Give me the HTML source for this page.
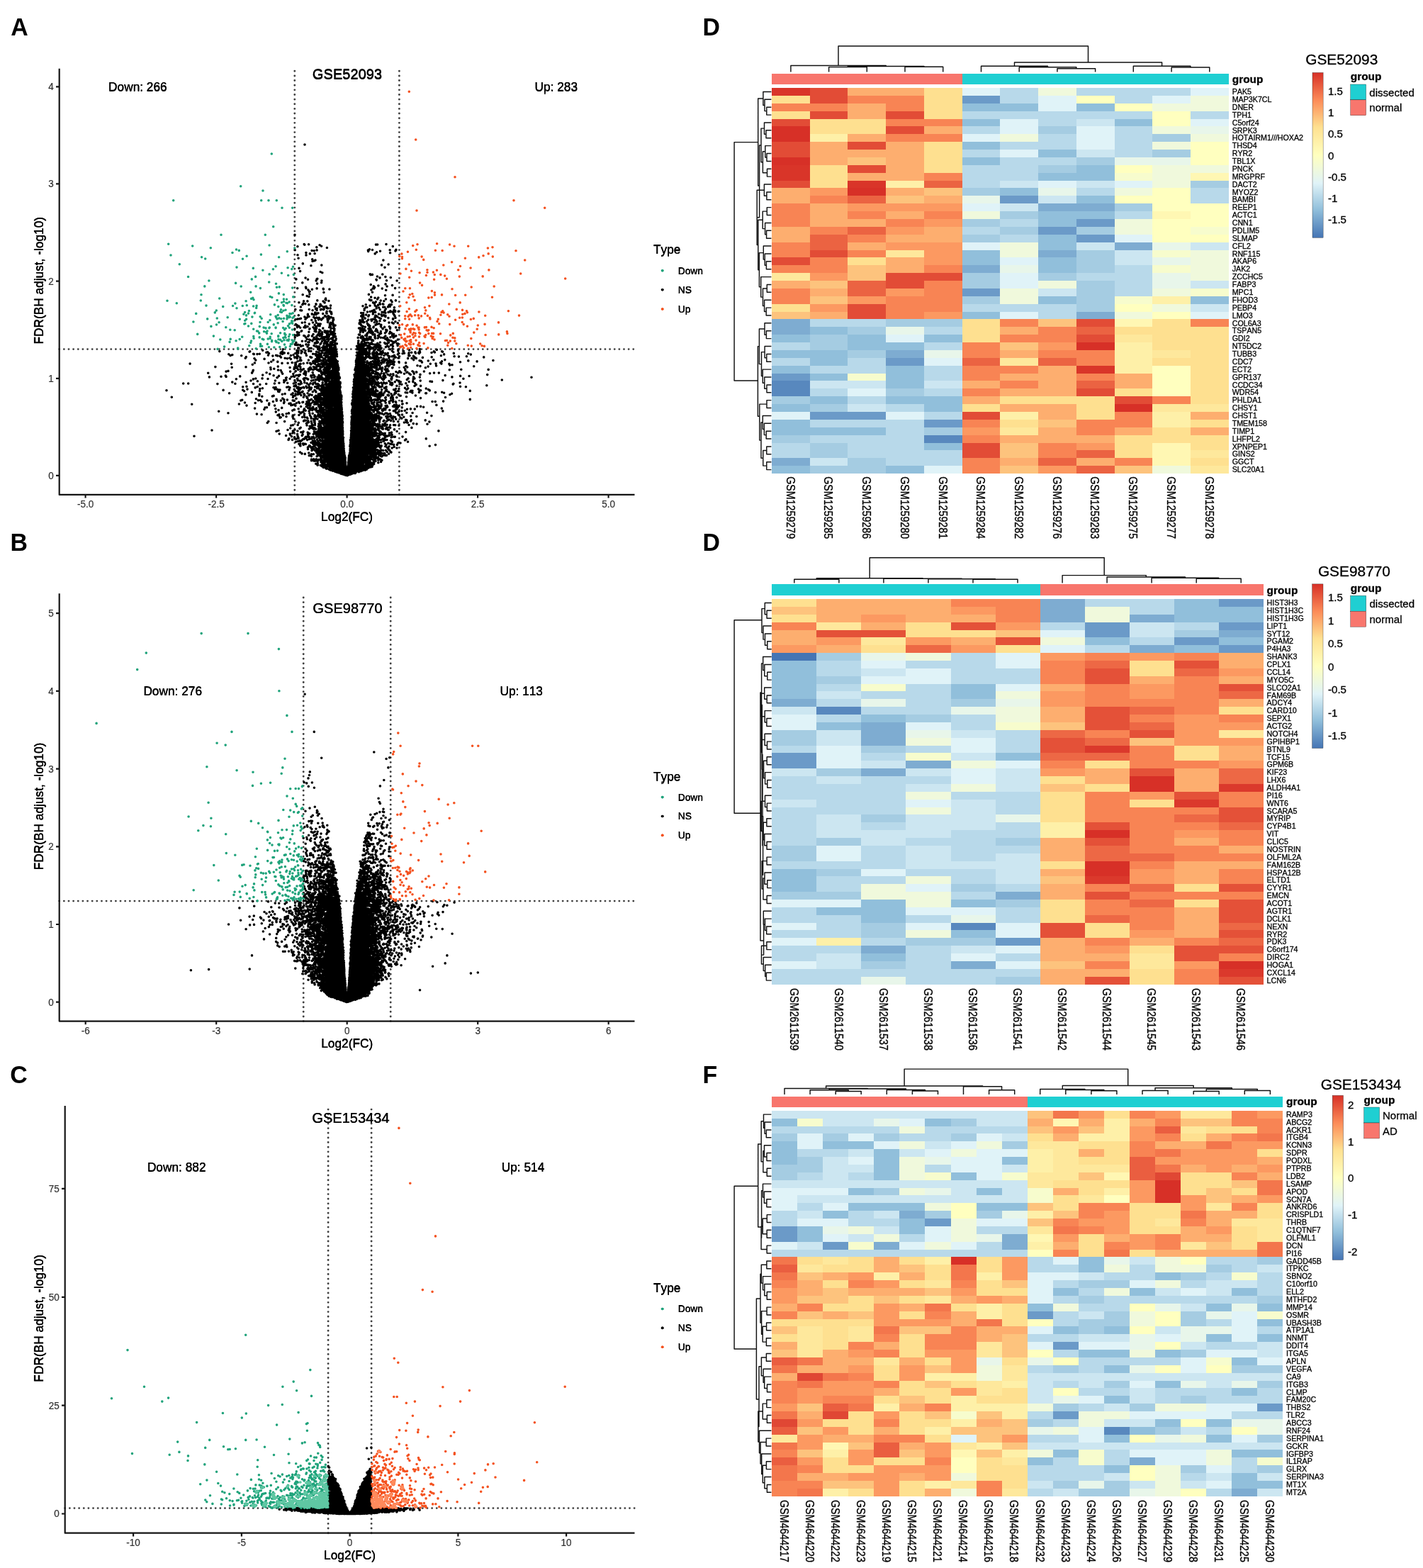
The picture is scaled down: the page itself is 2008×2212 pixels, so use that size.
<!DOCTYPE html>
<html lang="en">
<head>
<meta charset="utf-8">
<title>Differential expression: volcano plots and heatmaps</title>
<style>
html,body{margin:0;padding:0;background:#fff}
body{width:2008px;height:2212px;overflow:hidden}
svg{display:block}
text{white-space:pre;font-kerning:none}
</style>
</head>
<body>
<svg xmlns="http://www.w3.org/2000/svg" width="2008" height="2212" viewBox="0 0 2008 2212" font-family='"Liberation Sans", Arial, Helvetica, sans-serif'>
<rect width="2008" height="2212" fill="#fff"/>
<text transform="translate(15.2 50) scale(1 1.06)" font-size="33.9" font-weight="bold">A</text>
<text transform="translate(14.5 776.7) scale(1 1.06)" font-size="33.9" font-weight="bold">B</text>
<text transform="translate(14.3 1528) scale(1 1.06)" font-size="33.9" font-weight="bold">C</text>
<text transform="translate(991.6 49.8) scale(1 1.06)" font-size="33.9" font-weight="bold">D</text>
<text transform="translate(991.6 776.7) scale(1 1.06)" font-size="33.9" font-weight="bold">D</text>
<text transform="translate(991.6 1528) scale(1 1.06)" font-size="33.9" font-weight="bold">F</text>
<g id="vA">
<path fill="none" stroke="#404040" stroke-width="2.9" stroke-linecap="round" stroke-dasharray="0.01 6.63" d="M415.8 697.9V97.2M563.4 697.9V97.2M83.7 492.6H895.5"/>
<path fill="none" stroke="#000000" stroke-width="3.6" stroke-linecap="round" d="M527.5 405.7h0.8M549.2 430.7h1.2M549 431.7h1M445.4 435.7h1.5M556 438.7h1.5M550.5 439.7h1M444.9 442.7h1.8M511.2 444.7h1.5M510.2 445.7h2M530 445.7h1.2M510.7 446.7h1.8M465.2 447.7h0.8M449.4 449.7h1M462.4 449.7h0.8M508.4 454.7h0.8M468.4 455.7h1.2M507.4 455.7h1.2M465.4 456.7h2.2M507.2 456.7h1.2M449.2 457.7h2M465.9 457.7h1M448.9 458.7h1.8M519.5 458.7h1M520.7 459.7h1.2M419.7 460.7h0.8M445.4 462.7h0.8M443.7 463.7h2.2M508.4 463.7h0.8M520 463.7h3M444.7 464.7h1M508.9 464.7h5M521.5 464.7h1.2M508.9 465.7h1.2M511.2 465.7h3.2M522 465.7h1.2M530.7 465.7h0.8M521.5 466.7h2.5M460.2 467.7h2.5M465.9 467.7h1M521 467.7h3.5M458.7 468.7h4.2M466.7 468.7h3.5M522.2 468.7h4M460.7 469.7h1.8M466.9 469.7h3.2M524.7 469.7h1M449.9 470.7h1M453.2 470.7h1M461.4 470.7h1.5M467.2 470.7h3.8M449.2 471.7h5M461.9 471.7h1.5M468.7 471.7h2.2M419.7 472.7h0.8M449.9 472.7h3.8M461.7 472.7h3M553.5 472.7h1.5M461.7 473.7h2.5M554 473.7h1.5M461.2 474.7h3M555 474.7h1.8M454.7 475.7h1M460.7 475.7h2.8M454.2 476.7h3.5M461.7 476.7h1.5M521 476.7h1.2M446.7 477.7h1.2M453.7 477.7h3.8M461.9 477.7h1.2M467.9 477.7h1M513 477.7h0.8M517.2 477.7h0.8M520.2 477.7h2.2M446.2 478.7h1.2M456.9 478.7h1M462.2 478.7h1.8M511.7 478.7h2.8M516.5 478.7h3.5M545.5 478.7h1.2M457.4 479.7h0.8M512.2 479.7h2.5M546.7 479.7h1M458.2 480.7h0.8M458.7 481.7h0.8M458.7 482.7h2M467.2 482.7h2M458.2 483.7h3.2M466.2 483.7h2.5M515 483.7h0.8M459.9 484.7h2M466.2 484.7h2.2M509.9 484.7h0.8M514.5 484.7h1M523 484.7h1.2M461.4 485.7h0.8M465.9 485.7h3M509.2 485.7h5.8M532.2 485.7h1.5M461.9 486.7h1.5M464.7 486.7h4.2M471.2 486.7h0.8M506.4 486.7h9M530 486.7h5M464.7 487.7h3M505.9 487.7h8.2M529.7 487.7h7M465.2 488.7h2M504.2 488.7h8.8M519 488.7h2.5M529.2 488.7h6.8M447.7 489.7h2.5M455.9 489.7h2.5M465.7 489.7h2M471.9 489.7h1.2M504.7 489.7h8M519.5 489.7h3.2M530.5 489.7h1.8M533.7 489.7h2.2M448.4 490.7h2M455.7 490.7h2.8M465.7 490.7h2.5M471.2 490.7h2M504.4 490.7h7.8M519.2 490.7h6.5M535 490.7h1.8M448.9 491.7h1.8M456.4 491.7h2.2M465.4 491.7h7.5M504.7 491.7h8M520.5 491.7h2.5M535.2 491.7h2.2M448.7 492.7h1.5M456.9 492.7h2.5M461.4 492.7h1M464.7 492.7h8.5M504.2 492.7h12.5M521.2 492.7h1M534.7 492.7h1.2M456.7 493.7h1M459.9 493.7h13.8M506.9 493.7h9.5M533.7 493.7h1.8M460.7 494.7h12.8M507.4 494.7h9M419.4 495.7h1.2M460.7 495.7h13.2M507.2 495.7h9.5M397.9 496.7h0.8M419.2 496.7h1.2M460.2 496.7h14.5M505.9 496.7h11.8M538.5 496.7h1M396.4 497.7h3M459.4 497.7h1M465.4 497.7h9M504.4 497.7h14M526.7 497.7h1M531 497.7h1M537.2 497.7h2.8M591.2 497.7h0.8M397.2 498.7h2M465.9 498.7h9M504.9 498.7h17M526 498.7h2.2M531.2 498.7h1M536.5 498.7h2M450.2 499.7h2.5M466.2 499.7h9M505.2 499.7h7.2M515.5 499.7h1.5M520.2 499.7h1.2M526.2 499.7h1.5M531.7 499.7h0.8M537.2 499.7h0.8M445.7 500.7h1.8M449.4 500.7h3M467.4 500.7h7.5M504.7 500.7h7.2M526.7 500.7h1.2M446.7 501.7h6M460.7 501.7h1.8M467.9 501.7h7M503.7 501.7h7.8M527.2 501.7h2M530.2 501.7h1.5M577 501.7h1M419.4 502.7h1.5M447.4 502.7h5.5M459.9 502.7h2.8M467.4 502.7h6M504.4 502.7h6.8M519.2 502.7h1.2M527 502.7h5.2M555.5 502.7h1M418.4 503.7h1M447.4 503.7h4M453.4 503.7h0.8M466.7 503.7h5.8M504.4 503.7h7.2M520.2 503.7h1.5M526.5 503.7h4.5M447.9 504.7h2.8M463.7 504.7h8.5M503.9 504.7h9.2M522 504.7h2M525.2 504.7h5.2M447.9 505.7h2.2M463.2 505.7h9.2M503.4 505.7h11M527.7 505.7h3M447.2 506.7h3.5M456.4 506.7h1.5M463.7 506.7h9.2M503.4 506.7h11.2M528.5 506.7h3.5M533 506.7h0.8M445.4 507.7h5.8M456.4 507.7h0.8M463.2 507.7h10.8M502.9 507.7h9.8M529.2 507.7h0.8M533.2 507.7h0.8M444.9 508.7h7M455.7 508.7h1M460.7 508.7h13.5M502.7 508.7h9.5M533.7 508.7h0.8M549.7 508.7h1.8M445.2 509.7h3.2M464.7 509.7h10.8M502.7 509.7h9.8M529 509.7h1M533.2 509.7h1.8M547.2 509.7h5.5M457.4 510.7h0.8M459.2 510.7h0.8M465.4 510.7h10.2M502.7 510.7h11M527.7 510.7h6M539.2 510.7h2.2M547.2 510.7h3M456.9 511.7h3.5M465.4 511.7h10M503.2 511.7h10.2M518.2 511.7h0.8M528.5 511.7h5M537.7 511.7h1M546.7 511.7h1M453.7 512.7h0.8M455.7 512.7h6.2M464.7 512.7h11M503.4 512.7h9.8M520.5 512.7h3M528.5 512.7h5.5M422.7 513.7h0.8M449.2 513.7h1.2M455.4 513.7h5M461.4 513.7h15M502.9 513.7h10.8M521 513.7h4.8M527.7 513.7h6.2M554.5 513.7h0.8M448.2 514.7h1.8M456.2 514.7h1M462.7 514.7h13.5M502.7 514.7h14.2M523.2 514.7h1.2M528.5 514.7h4.2M446.9 515.7h3.2M462.9 515.7h13.8M502.9 515.7h15.2M528.5 515.7h3M462.4 516.7h5M468.4 516.7h8.2M502.7 516.7h16.8M523.5 516.7h1.2M528 516.7h3.2M416.4 517.7h1.2M461.2 517.7h5M469.7 517.7h6.8M502.4 517.7h17.5M523 517.7h2.5M527.5 517.7h4M415.7 518.7h2.5M437.2 518.7h0.8M443.7 518.7h2.5M458.4 518.7h7.5M469.9 518.7h7M502.2 518.7h22.5M530.2 518.7h1M436.7 519.7h1.8M443.9 519.7h2M458.4 519.7h7M470.2 519.7h7.5M501.4 519.7h22.8M536 519.7h1.5M435.4 520.7h3.2M457.7 520.7h6.8M469.9 520.7h7.5M501.4 520.7h23M449.9 521.7h2M456.9 521.7h7M469.7 521.7h8.2M500.9 521.7h24M544.2 521.7h2.5M449.7 522.7h2.8M457.7 522.7h6.5M468.9 522.7h8M502.2 522.7h19.8M544.7 522.7h2.2M457.9 523.7h7.5M466.7 523.7h9.8M502.7 523.7h18.5M525.7 523.7h1.5M545 523.7h1M430.4 524.7h0.8M457.4 524.7h19M502.4 524.7h18.2M525.5 524.7h0.8M429.9 525.7h1.5M453.9 525.7h22.8M501.7 525.7h19.2M524.7 525.7h1.2M429.4 526.7h1.8M453.9 526.7h4.8M461.9 526.7h15.5M501.9 526.7h11.8M515 526.7h7.2M530.5 526.7h2.8M462.4 527.7h15.2M501.4 527.7h11M516.2 527.7h6.5M531.5 527.7h0.8M462.2 528.7h15.5M500.2 528.7h12M516.5 528.7h6.5M421.2 529.7h0.8M461.4 529.7h16M500.7 529.7h12M516 529.7h1.5M518.5 529.7h3.8M541.7 529.7h1.5M450.7 530.7h1.5M460.4 530.7h17.2M500.7 530.7h14.8M519.7 530.7h1.2M541.2 530.7h1.8M450.2 531.7h3.8M460.2 531.7h18.5M501.2 531.7h13.8M525.5 531.7h4M541.5 531.7h2M448.2 532.7h6M460.4 532.7h5.8M467.2 532.7h11.8M500.9 532.7h14.2M525 532.7h3.2M529.2 532.7h0.8M533 532.7h1M541.5 532.7h1.5M448.4 533.7h7M459.9 533.7h5M468.4 533.7h1.8M471.2 533.7h7.8M500.9 533.7h15.5M524.5 533.7h2.5M531.2 533.7h2M541 533.7h1.2M583.7 533.7h0.8M447.9 534.7h4.2M453.2 534.7h11.2M472.4 534.7h5.5M500.4 534.7h17.2M521 534.7h0.8M525.5 534.7h1.2M532 534.7h0.8M540 534.7h1.5M449.4 535.7h1.5M455.2 535.7h8.8M472.7 535.7h5M499.9 535.7h21.8M525.7 535.7h1.5M458.2 536.7h5.8M468.4 536.7h0.8M472.2 536.7h5.5M500.2 536.7h22M525.2 536.7h3M458.7 537.7h2.5M467.9 537.7h10M499.7 537.7h17.8M519.5 537.7h9M459.2 538.7h1.5M464.9 538.7h5M472.9 538.7h5.5M499.4 538.7h16.8M520.2 538.7h6.2M465.2 539.7h4.2M473.4 539.7h6.5M499.9 539.7h16M520.2 539.7h5.5M530 539.7h1.2M459.4 540.7h0.8M464.7 540.7h4.5M473.2 540.7h7M500.2 540.7h16.2M519.7 540.7h6M530.2 540.7h3.5M551.5 540.7h2M459.7 541.7h1.2M463.2 541.7h6.5M472.7 541.7h7M499.7 541.7h25.5M529.7 541.7h2.8M551 541.7h2.8M459.4 542.7h20.2M499.7 542.7h21M449.2 543.7h0.8M454.4 543.7h1.5M460.9 543.7h18.2M499.7 543.7h20.5M447.9 544.7h1.8M453.7 544.7h2.2M461.4 544.7h18.2M500.2 544.7h19.5M446.7 545.7h2.5M453.9 545.7h2.5M461.2 545.7h19M499.7 545.7h20.2M527 545.7h1.8M420.4 546.7h1.2M447.4 546.7h1.8M454.2 546.7h4.2M459.9 546.7h20M498.9 546.7h20.8M526.2 546.7h1.5M419.9 547.7h3.5M436.9 547.7h2M454.2 547.7h25M499.2 547.7h20.8M525.7 547.7h0.8M420.9 548.7h2.5M436.9 548.7h1.5M454.2 548.7h24.8M499.4 548.7h16M518.5 548.7h2M524 548.7h2.2M421.4 549.7h1.8M453.4 549.7h26M499.2 549.7h15.8M519 549.7h2.8M524.5 549.7h1.8M392.4 550.7h1.8M453.2 550.7h26.2M498.9 550.7h16.2M518.7 550.7h3M525.2 550.7h0.8M392.7 551.7h1M453.7 551.7h26M498.7 551.7h17.8M517.5 551.7h4M525.5 551.7h1M529.7 551.7h1.2M579.7 551.7h2M419.9 552.7h1M453.9 552.7h26.2M498.2 552.7h23.8M525 552.7h4.8M420.4 553.7h1M453.9 553.7h26.2M498.7 553.7h30.5M537.2 553.7h0.8M420.9 554.7h2M453.7 554.7h26.5M498.4 554.7h31.2M535.7 554.7h2.2M600.7 554.7h0.8M450.7 555.7h0.8M454.9 555.7h25.5M497.7 555.7h32.8M535 555.7h3.5M449.4 556.7h2M455.4 556.7h25.2M498.2 556.7h20.8M520 556.7h4M525.5 556.7h7.5M534.2 556.7h6.5M449.2 557.7h2.5M456.4 557.7h24.8M498.4 557.7h19.2M521.2 557.7h1.5M528.5 557.7h3.2M536.7 557.7h1.5M448.7 558.7h3.2M457.2 558.7h24.2M498.4 558.7h19M521.5 558.7h0.8M448.9 559.7h2.8M457.4 559.7h24.2M497.9 559.7h20M521 559.7h1M444.2 560.7h1.2M448.4 560.7h3.8M457.4 560.7h24M498.2 560.7h22.5M533.2 560.7h2.2M444.7 561.7h9M456.9 561.7h24.2M498.4 561.7h21.5M533.7 561.7h1.5M444.7 562.7h37M498.7 562.7h20.5M533.5 562.7h1.8M445.9 563.7h8.2M455.2 563.7h26.5M498.4 563.7h20.8M435.9 564.7h0.8M446.4 564.7h4.8M456.4 564.7h24.5M497.4 564.7h22.5M523.2 564.7h2M446.2 565.7h4.5M456.7 565.7h24M497.9 565.7h21.8M445.4 566.7h3.5M456.2 566.7h25M497.7 566.7h21.5M444.4 567.7h3.8M452.2 567.7h29.5M497.4 567.7h22M433.2 568.7h1.8M444.7 568.7h3.2M452.7 568.7h28.8M496.9 568.7h23.5M524.7 568.7h2.2M432.4 569.7h3M444.4 569.7h3M452.7 569.7h28.5M496.7 569.7h23.5M433.9 570.7h3.5M452.2 570.7h29M496.9 570.7h23.5M434.4 571.7h3.2M449.9 571.7h4M457.7 571.7h23.8M497.4 571.7h23.2M532.5 571.7h1.5M556.2 571.7h0.8M559 571.7h0.8M449.4 572.7h3.8M458.2 572.7h10.5M471.7 572.7h10M497.9 572.7h24M533.5 572.7h0.8M544.7 572.7h1.2M555.5 572.7h5M450.4 573.7h2.5M458.9 573.7h9.2M472.2 573.7h9.5M498.2 573.7h25M527.2 573.7h1.8M534.7 573.7h0.8M545.2 573.7h1.2M559.2 573.7h2.8M450.9 574.7h2.5M460.2 574.7h8.2M471.9 574.7h9.8M497.7 574.7h17.8M518.5 574.7h6.5M528.2 574.7h1.5M535 574.7h1.5M559.7 574.7h1.8M436.7 575.7h1M440.2 575.7h1.5M451.4 575.7h3.2M460.7 575.7h0.8M462.4 575.7h7.2M470.7 575.7h11.5M497.9 575.7h17M519 575.7h4.8M528.7 575.7h1M534.5 575.7h2M559.2 575.7h1M440.9 576.7h1.2M451.9 576.7h4M463.7 576.7h18M497.9 576.7h17.5M518.5 576.7h5M529 576.7h1.5M534 576.7h0.8M541.2 576.7h2.2M444.7 577.7h1.2M451.7 577.7h5.5M463.9 577.7h18M497.2 577.7h25.5M528.5 577.7h5.2M540.7 577.7h1.2M450.9 578.7h6.2M463.4 578.7h18.2M497.2 578.7h24.8M525.7 578.7h1.8M531.2 578.7h1.5M539.5 578.7h1M447.2 579.7h0.8M448.9 579.7h7.8M460.9 579.7h20.8M496.7 579.7h25M446.9 580.7h10.2M460.7 580.7h21.5M496.9 580.7h24.8M453.2 581.7h4.8M459.9 581.7h22.5M497.2 581.7h24.8M454.4 582.7h27.8M496.9 582.7h26.2M534 582.7h2M455.4 583.7h27M496.9 583.7h27.5M455.7 584.7h26.8M497.4 584.7h27.5M391.9 585.7h1.5M449.2 585.7h2.2M455.2 585.7h27.8M497.7 585.7h28.5M528.2 585.7h2.8M444.2 586.7h0.8M449.2 586.7h33.8M497.2 586.7h35.8M444.9 587.7h1.5M450.2 587.7h3.2M457.7 587.7h25M496.2 587.7h38.8M458.2 588.7h24.2M496.2 588.7h38M457.9 589.7h24.5M496.7 589.7h34.2M553 589.7h0.8M444.2 590.7h0.8M456.9 590.7h26M496.7 590.7h33.8M454.9 591.7h27.8M496.4 591.7h24.2M524 591.7h6.8M535.2 591.7h0.8M454.7 592.7h27.8M496.7 592.7h23.5M524.5 592.7h6M454.2 593.7h28.8M496.4 593.7h24M524.7 593.7h4.5M450.9 594.7h0.8M452.9 594.7h30.5M496.4 594.7h25.2M526 594.7h2M451.4 595.7h32M496.2 595.7h26M526.2 595.7h1.5M451.2 596.7h32.2M496.2 596.7h26.5M525.7 596.7h2.2M450.2 597.7h2.5M456.2 597.7h26.8M496.2 597.7h33M450.2 598.7h2M460.2 598.7h22.8M496.2 598.7h33M533.2 598.7h0.8M542.5 598.7h1.5M440.4 599.7h1.2M450.2 599.7h2M460.7 599.7h22.5M496.2 599.7h31.2M533 599.7h2.5M540.5 599.7h3M449.7 600.7h2.8M460.2 600.7h22.8M496.2 600.7h30.2M531.7 600.7h4M437.7 601.7h2.5M449.7 601.7h3M457.9 601.7h24.8M496.4 601.7h29.5M533 601.7h1.2M438.2 602.7h2.5M450.4 602.7h2.8M457.7 602.7h25.5M496.2 602.7h29.5M538 602.7h1.5M441.2 603.7h1M450.4 603.7h4.5M456.4 603.7h26.8M496.2 603.7h30M538.5 603.7h1.5M545.5 603.7h1M441.9 604.7h2.2M449.9 604.7h33.2M496.2 604.7h31.5M544.7 604.7h1.5M449.7 605.7h33.2M496.4 605.7h33.2M532.7 605.7h1.2M449.7 606.7h33.8M495.9 606.7h29M528.2 606.7h2.2M449.4 607.7h33.8M495.7 607.7h28.8M528.7 607.7h1.5M448.4 608.7h35M495.9 608.7h28.8M528.5 608.7h1.2M413.7 609.7h0.8M446.4 609.7h37M496.2 609.7h29.5M527.7 609.7h2.2M446.9 610.7h36.2M495.7 610.7h35.2M446.7 611.7h36.5M495.7 611.7h35.5M446.4 612.7h37M495.7 612.7h35M535.5 612.7h0.8M446.9 613.7h36.5M495.4 613.7h28M524.7 613.7h6.2M446.9 614.7h36.5M495.7 614.7h26.5M526 614.7h3.2M543.2 614.7h1M434.7 615.7h0.8M446.9 615.7h0.8M448.7 615.7h34.5M495.7 615.7h26.2M533.5 615.7h1.2M543.7 615.7h1.5M431.4 616.7h0.8M449.9 616.7h1.5M452.7 616.7h31M495.4 616.7h27M533.7 616.7h1.5M458.7 617.7h25.5M495.4 617.7h29.5M533.2 617.7h1.2M459.4 618.7h24.5M495.7 618.7h29.8M532 618.7h2.5M459.4 619.7h24.5M495.2 619.7h31.2M531.2 619.7h3.8M541 619.7h1.8M458.7 620.7h25M494.4 620.7h40M541.5 620.7h1.8M454.4 621.7h29.5M494.9 621.7h38.8M441.7 622.7h3.2M455.7 622.7h28.5M494.9 622.7h38.2M441.2 623.7h1.8M443.9 623.7h1.2M455.9 623.7h28M494.7 623.7h39M445.2 624.7h1.2M447.4 624.7h2.8M455.4 624.7h28.8M494.7 624.7h39.5M445.4 625.7h5.5M454.7 625.7h29.8M494.9 625.7h39M427.9 626.7h1M444.9 626.7h7.5M453.4 626.7h31.2M494.7 626.7h39.5M443.2 627.7h1.5M448.2 627.7h36.2M494.4 627.7h40.2M448.7 628.7h36M494.4 628.7h41M436.7 629.7h1M449.9 629.7h34.8M494.2 629.7h38.2M535.7 629.7h2.2M450.4 630.7h1.5M454.4 630.7h30M494.7 630.7h36M439.7 631.7h1.2M450.2 631.7h0.8M455.2 631.7h29.5M494.7 631.7h34.8M440.4 632.7h1M455.4 632.7h29.8M494.4 632.7h34.8M440.9 633.7h2M446.9 633.7h2.5M454.9 633.7h29.8M494.4 633.7h35.2M446.4 634.7h3M453.9 634.7h31M494.4 634.7h36.5M445.7 635.7h4.5M452.7 635.7h32.2M494.2 635.7h35.5M446.9 636.7h38M494.4 636.7h34.8M533.5 636.7h3.2M447.2 637.7h38.2M494.2 637.7h35.2M533.2 637.7h3.2M447.2 638.7h7M455.2 638.7h30.2M493.7 638.7h36.5M532.2 638.7h4.8M448.2 639.7h4.8M456.4 639.7h29.2M493.7 639.7h44.2M448.4 640.7h4M456.7 640.7h28.8M493.7 640.7h24.8M522 640.7h9.2M534.7 640.7h2.5M448.7 641.7h3.8M456.2 641.7h29.8M493.2 641.7h24.8M522.5 641.7h8M535.2 641.7h1.5M450.7 642.7h2.5M455.4 642.7h30.8M492.7 642.7h25.8M522.2 642.7h7.5M452.7 643.7h33.8M492.7 643.7h27.2M521 643.7h8.8M453.2 644.7h33.5M492.7 644.7h31.5M527.2 644.7h3.2M453.2 645.7h1.8M456.9 645.7h30M492.2 645.7h22M515.2 645.7h8.5M528.5 645.7h5M453.2 646.7h0.8M457.7 646.7h29M492.2 646.7h20.8M516.5 646.7h7.5M529 646.7h1M533 646.7h0.8M452.7 647.7h1M457.9 647.7h29M492.2 647.7h20.5M516.7 647.7h6.2M534 647.7h1M446.4 648.7h1.2M451.9 648.7h2.2M457.4 648.7h29.2M492.4 648.7h20.8M516.2 648.7h6M527.5 648.7h1M446.9 649.7h1.8M452.9 649.7h33.8M492.4 649.7h29.2M527.5 649.7h1.5M453.2 650.7h34M492.2 650.7h29.5M527.2 650.7h2M452.9 651.7h6M461.4 651.7h26M491.9 651.7h30.2M454.2 652.7h3.8M462.7 652.7h24.8M491.7 652.7h21.8M515.5 652.7h8.2M454.7 653.7h3M462.9 653.7h24.5M491.9 653.7h20.8M516.2 653.7h11M446.9 654.7h1M455.2 654.7h3M462.4 654.7h24.8M491.9 654.7h20.2M516.7 654.7h10.5M454.7 655.7h5M461.7 655.7h25.8M491.7 655.7h20.8M516.2 655.7h9.8M452.9 656.7h34.5M491.7 656.7h22M514.7 656.7h10.5M454.9 657.7h4M461.9 657.7h25.8M491.2 657.7h33.5M456.2 658.7h2.2M464.9 658.7h23.5M490.4 658.7h32.8M465.4 659.7h54.8M465.2 660.7h53M463.9 661.7h53.5M465.2 662.7h47.5M514.7 662.7h1M468.7 663.7h41.8M472.4 664.7h31.8M505.2 664.7h2.5M474.9 665.7h27.5M477.4 666.7h24.2M480.7 667.7h17.2M483.4 668.7h12.2M486.7 669.7h5.5M480.7 668h0M526 479.7h0M548.6 640.2h0M563.9 541.7h0M460 574.5h0M583.5 531.9h0M551.8 423.8h0M462.9 537h0M459.3 655.3h0M432.2 573.8h0M451.5 631.1h0M503.9 492.9h0M536.5 354.2h0M477.9 536h0M435.8 429.9h0M440.3 618.3h0M436.9 521.1h0M429 555.8h0M539.6 542.3h0M660.7 498.8h0M448.1 510.4h0M573.8 582.3h0M558.8 582.1h0M528.2 489.3h0M534.2 571.3h0M498.8 550.3h0M400.8 536.6h0M443.3 608.8h0M581.1 505.4h0M531.8 518.3h0M502.5 514.1h0M416.8 436.6h0M449 441.7h0M492.2 647h0M546.6 487.9h0M431 494.8h0M458.5 445.6h0M515.7 473.3h0M454 657.6h0M363.4 537.8h0M553.2 613.5h0M547.6 512.4h0M494.4 669.1h0M395.1 502.4h0M535.2 598.7h0M518.4 456.6h0M437.3 577.8h0M410.4 501.5h0M420.6 486.4h0M556.5 605.9h0M511.6 663.7h0M537.6 643.5h0M481.7 571.4h0M541.8 527.7h0M418.5 504.6h0M405.7 540.3h0M524.6 544.3h0M529.6 620.5h0M511.9 500.9h0M561.8 594.7h0M511.2 474.3h0M465.4 520.2h0M513.6 480.6h0M543.1 452.3h0M414 500.8h0M537.3 460h0M364.5 564.8h0M526.2 406.7h0M449.5 497.1h0M451 449.4h0M484.5 669.1h0M468.1 535.6h0M453.7 512.6h0M475.3 484.9h0M502.1 666.3h0M522.5 423.6h0M473.9 493.4h0M566.8 542.2h0M433.9 424.9h0M444.7 483.9h0M406.7 498.4h0M627.8 507.6h0M497.4 584.9h0M428.4 520.5h0M430.8 459.3h0M485.3 635.9h0M417.9 393.9h0M319.1 531.4h0M416.9 558h0M572.5 592.4h0M315.1 550.4h0M486.1 642h0M515.5 466.5h0M540.3 605.3h0M568.9 495.2h0M439.5 649.8h0M530.3 425.9h0M552.5 589.4h0M487.6 670.1h0M578.9 552.8h0M539 523.5h0M542.6 475.9h0M549.3 566.8h0M537.1 601.9h0M543.2 611.2h0M520.7 565.3h0M398 512.4h0M545.8 583h0M409.1 518.5h0M443.9 618.2h0M537.5 504.3h0M500.8 532.9h0M447.5 547.8h0M436.8 491.2h0M525 658.5h0M533.7 645.4h0M555.4 594.4h0M451 581.1h0M555.1 587.9h0M566.8 590.3h0M444.5 605.3h0M446.3 570.1h0M518.2 470.7h0M455.8 587.1h0M444.4 513.2h0M420.3 622.6h0M527.4 620.2h0M534.4 624.6h0M437.6 512.3h0M611.8 507.5h0M446.8 348.8h0M403.9 536h0M561.8 494.9h0M333.4 534.8h0M542.9 600.6h0M607.3 513.3h0M479.4 533.3h0M512.3 468.4h0M426.1 621h0M545.4 551.5h0M460.8 651.4h0M454.4 478.1h0M448.2 521.9h0M561.3 479.1h0M469.2 491.2h0M464.1 503.9h0M534.1 560.1h0M543.5 597.1h0M481.7 573.9h0M528.5 536.5h0M446 627.3h0M511.3 444.5h0M542.3 614.2h0M447.1 393.7h0M487.4 651.3h0M445.3 452.5h0M428 619.3h0M446.2 561.3h0M634.8 515.1h0M532.2 543.7h0M432 618.2h0M461.5 472.9h0M413 588.1h0M395 550.1h0M327.2 518.3h0M482.8 598.5h0M460.8 467.4h0M575.7 547.9h0M550.4 468h0M463.3 487h0M536.2 610h0M550.4 429.8h0M476.8 525.6h0M415.4 570.5h0M416.7 486.4h0M483.8 612.4h0M420.2 536.8h0M446.3 519.3h0M454.8 542.9h0M531.5 355.7h0M417.5 514.2h0M556.5 556.2h0M448.6 482.8h0M549.3 503.1h0M438.6 504.1h0M604.1 517.1h0M558.6 554.4h0M550.3 432.4h0M437.2 549.5h0M480.6 556.2h0M540.9 622.3h0M421.1 364.3h0M436 567h0M505.9 485.4h0M519.3 489.4h0M533.4 556h0M406.1 512.2h0M434.8 474.5h0M619.3 526.1h0M424.2 553.9h0M597.6 574.2h0M546.5 631.6h0M522.7 478.1h0M456.3 525.6h0M387.4 541h0M519.8 446.3h0M451.2 491.4h0M479.8 551.1h0M532.9 615h0M452.1 466.5h0M446.2 396h0M529.2 474.3h0M553.3 495h0M529.9 539.1h0M571.5 547.4h0M552.4 535.6h0M527.8 651.9h0M546.3 587.6h0M443.3 560.2h0M457.3 484.4h0M532.5 586.4h0M421.3 444.8h0M407 545.8h0M528 472h0M549.8 578.6h0M502.2 518.5h0M425.1 498.1h0M471 487h0M495.9 596.2h0M499.4 542.2h0M522.8 658.9h0M540.5 497.8h0M428.7 527.3h0M449.1 584.6h0M626.6 554.3h0M616.3 493.4h0M476.9 516.6h0M518.6 660.5h0M457 521.9h0M422.5 568.5h0M434.4 444.9h0M576.1 533.9h0M548.1 523.6h0M525.2 606.5h0M388.9 576.7h0M460 504h0M536.4 529.5h0M525.2 490.5h0M349 549.1h0M446.6 475.2h0M515.3 529.9h0M439.1 624.4h0M494.6 621.4h0M423.8 622.8h0M454.7 449.7h0M541.1 594.2h0M409.6 613.2h0M444.1 357.8h0M518.3 502.8h0M462.1 449.1h0M564.1 524h0M346.8 556.9h0M551.3 391.5h0M496.6 583.1h0M537.6 640.6h0M538.8 521.2h0M420 615.1h0M419.9 347.8h0M409.7 604h0M441.6 499.2h0M475.5 502.7h0M417.3 511.7h0M407.1 620.4h0M534.1 532.3h0M472.2 486h0M446.6 496.3h0M527.7 654.4h0M460.3 475.4h0M526.6 491.4h0M532.4 503h0M464.7 461.7h0M483.4 604.3h0M522.4 558.5h0M548 632.5h0M437.2 564.5h0M424.6 573.5h0M420 535.5h0M558.7 473.9h0M388.4 537h0M306.9 541.6h0M443.8 621.8h0M445.9 541.8h0M432.4 597.2h0M534.7 494.1h0M454.5 517.7h0M503.5 488.2h0M449.4 572.8h0M433.3 589h0M545.8 602.7h0M544.5 564.1h0M550.4 583.6h0M544.1 400.9h0M430 474h0M440.3 442.9h0M550.8 542.2h0M445.5 535.9h0M553.9 485.6h0M538.2 553.1h0M520.1 659.9h0M419.3 547.5h0M398.4 556.3h0M541.2 445h0M432.9 566.9h0M547.9 632.7h0M483.4 603h0M442.5 634h0M505.5 497h0M556.8 579.4h0M453.8 571.8h0M574.7 554h0M544.4 435.8h0M539 440.2h0M536.9 631.9h0M522.6 504.1h0M526.6 653h0M523.3 469.4h0M538.5 583.3h0M539.9 598.8h0M461.9 492.1h0M437.1 628.8h0M531.4 573h0M390.1 563.2h0M536 391.9h0M357.4 534.9h0M521.1 500.4h0M533.5 473.5h0M622.4 501.8h0M448.8 622.3h0M424.2 583h0M393.9 540.2h0M443 487.6h0M518.1 512h0M431 450.5h0M444.8 578h0M385.4 566.5h0M532.6 345h0M394 552.6h0M551.3 486.8h0M535.7 599.1h0M519.7 451.1h0M479.7 542h0M528.5 531h0M453.6 597.1h0M534.5 604.9h0M436.2 545.1h0M592.3 532.1h0M531.7 521.5h0M509.7 445.9h0M421.3 551.6h0M451.2 459.8h0M524.7 617.3h0M541.9 534.6h0M587.3 505.4h0M526.1 615.6h0M532.2 535.6h0M538.9 508.2h0M537.8 458.4h0M459.2 541h0M524 423.6h0M515.3 461.3h0M612.3 495.9h0M532.8 530.7h0M537.7 461h0M457.9 498.2h0M553.9 509.7h0M552.5 610h0M467.1 523.5h0M552.8 559h0M512.3 475.4h0M414.2 530.4h0M574.8 544.1h0M435.4 523.7h0M481.5 569h0M534.3 575.9h0M452 520h0M424.2 603.3h0M448 591.1h0M543.7 498.5h0M539.4 534.4h0M448 490.2h0M531.3 611.8h0M456.4 408.1h0M444.3 585.8h0M446.2 647.9h0M529.8 563.5h0M442.4 640.8h0M466.9 477.8h0M453.6 431.2h0M544 445.4h0M453.1 501.4h0M437.2 578.6h0M538.7 549.7h0M322.8 499.8h0M475.4 500h0M435.6 575.8h0M552.9 531.8h0M565.3 538.7h0M657.4 545.7h0M520.1 478.9h0M444.2 509.3h0M561.4 526h0M458 528.1h0M562.3 439.4h0M475.8 665.9h0M442 461.8h0M429.5 576.9h0M381.8 518.5h0M536.4 483h0M448.4 569.7h0M422.5 621.7h0M494.3 636.8h0M448.6 581.4h0M431.2 579.2h0M426.8 398.9h0M494.5 631.9h0M595.5 511.1h0M445.3 488.8h0M576.8 502h0M418 529.5h0M416.3 475.9h0M432 359.9h0M442.7 447.4h0M450.6 489h0M510.3 483.9h0M434.8 482.8h0M556.2 573.8h0M505.6 483.3h0M530.4 573.7h0M396.5 504.1h0M541.6 539.9h0M584.7 504.6h0M526 531.3h0M471 462h0M440.7 630.7h0M534.3 589.6h0M470.3 459.4h0M392.5 522h0M565.9 525.5h0M557.7 580.1h0M513 444.5h0M359 505.8h0M448.7 448.7h0M527.6 645.2h0M434.4 443.4h0M574 568.8h0M658.4 502.7h0M520.7 535h0M474.3 478.1h0M534.8 635.9h0M512.6 441.6h0M456.7 599.2h0M433 599.9h0M527.1 510.4h0M535.8 583.3h0M415.2 549.2h0M444.1 531.4h0M532.8 447h0M622.9 513.1h0M482.3 578h0M558.9 576.6h0M592.4 492.6h0M491.9 651.1h0M436.4 546.4h0M533.2 477h0M533.2 562.9h0M549.1 591.9h0M513.9 454.5h0M431.1 392.1h0M428.5 594h0M580.9 603.4h0M431 462h0M472.6 470.9h0M570.4 596h0M583.2 534.8h0M472.9 487.8h0M542.8 639.5h0M526.3 443h0M303.9 517.6h0M419.3 468.5h0M549.6 502.7h0M544.2 614.4h0M450.5 543.8h0M443.4 520.7h0M544 532.2h0M495.5 615.9h0M438.8 495.4h0M441.6 542.1h0M446.7 616.3h0M466.7 503.3h0M440.4 408.3h0M520.1 458.1h0M496.2 601.2h0M459.3 514.6h0M549 430.4h0M427.6 625.9h0M572.2 553.8h0M463.8 577.9h0M532.3 466.6h0M412.6 620.4h0M649.5 545.2h0M448.4 656h0M593 528.4h0M544.7 409.3h0M523.9 450.7h0M427.3 609.8h0M377.8 496.9h0M587.8 525.1h0M538.1 513.2h0M452 498.9h0M544.8 628.3h0M461.5 489.3h0M550 511.2h0M421.6 460.1h0M572.6 511.9h0M557.6 406.6h0M575.5 623.3h0M453.6 398.7h0M441.2 602.9h0M572.8 540.7h0M481.8 567.2h0M461.2 434.8h0M512 431.7h0M435.6 473.1h0M386.8 520.3h0M579.2 528.4h0M524.6 505.2h0M451.2 549.8h0M347.3 503.5h0M550.7 603.6h0M549.7 568.7h0M414.3 541h0M448.4 477.9h0M527.2 461.1h0M425.2 467.3h0M560.4 465.8h0M447.1 406.9h0M477.9 526.9h0M434.2 572.3h0M579.4 576.9h0M456.7 487.8h0M532 569.9h0M544.8 587.4h0M424.5 538.7h0M437.4 556.5h0M455.9 621h0M496.3 597.6h0M525.4 618.4h0M467.9 471.5h0M450.8 594.2h0M421.9 426.8h0M567.7 570.1h0M528.7 498.2h0M460.3 576.3h0M544.6 465.3h0M502.8 514.9h0M538.1 635h0M370.4 547.7h0M452.1 429.2h0M535.2 562h0M396.4 565.1h0M470.3 448.7h0M556.6 483h0M520.6 570.4h0M548.1 479.3h0M456.2 448.2h0M408 549.9h0M433.1 596.7h0M533.9 403h0M640.3 498.4h0M482.6 583.5h0M433.2 448.1h0M454.3 509.3h0M442.1 512.3h0M436.5 619.5h0M426.2 496.3h0M514 480.8h0M553.4 455.1h0M397.7 575.4h0M533.8 578h0M449.8 544.9h0M445.9 428.8h0M530 650.4h0M521.2 475.6h0M401.9 537.2h0M553.4 623.4h0M470.2 468.4h0M450.4 588.2h0M434.2 615.9h0M409.3 612h0M441.3 552.7h0M554 518.5h0M553 533.4h0M612.5 526.1h0M444.1 567.4h0M541.6 639.6h0M537.4 476.3h0M443.3 353.8h0M610.1 566.5h0M451.7 620.5h0M516.1 479.1h0M417.3 523.6h0M454 473.7h0M523.4 561.4h0M421 495.1h0M541.3 510.2h0M398.6 584.5h0M443.8 603.5h0M431.4 626.5h0M421.2 618.3h0M452 485.4h0M436.9 572.2h0M523.8 485.3h0M420.7 554.3h0M438.9 374.7h0M404 587.7h0M442.8 650h0M416 472.9h0M426.4 481.2h0M534.4 505.1h0M554.3 347.6h0M537.2 449.5h0M537.8 648.8h0M600.2 592.9h0M555.2 476.3h0M526.6 557.9h0M535.6 576.1h0M437.8 479.7h0M552.2 439.5h0M470.1 520.5h0M418.1 562.2h0M423.6 486.7h0M450.1 629.9h0M503.7 664.9h0M547.8 584.3h0M366.5 551.4h0M433.2 417.6h0M535.8 494.5h0M417.3 543.3h0M532.8 551.8h0M555.6 627.4h0M538.2 628.9h0M528.2 437.4h0M450.7 465.2h0M558 353.9h0M449.9 624.1h0M473.3 507h0M386.1 558.4h0M419.7 406.8h0M449 457.4h0M533.8 652.8h0M560.4 531.3h0M536.9 608.9h0M529.5 477.2h0M454.4 528.2h0M453.8 469.7h0M430.2 588.7h0M443.6 464h0M523.2 475.5h0M454.8 468.7h0M478 528.9h0M417.1 514.5h0M563.6 523.9h0M481.6 567.9h0M434.5 633.6h0M507.9 451.9h0M322 523.4h0M574.4 577.3h0M528.8 615.3h0M426.3 455.2h0M496.5 668.2h0M418.3 568.7h0M542.2 452.1h0M483.6 596.2h0M545.9 590.1h0M396.2 588.7h0M560.1 608.5h0M539.6 602.9h0M413.2 586.1h0M572.9 516.5h0M419.5 519.6h0M536.7 567.4h0M454.8 490.2h0M525.7 498.1h0M445 590h0M438.3 569.5h0M522.8 505.4h0M447.2 481.4h0M425.7 466.8h0M466 484h0M546.9 480.5h0M593.2 537.1h0M532.6 422h0M487 648.5h0M609.2 503.8h0M532.7 560.4h0M541.8 619.1h0M484.8 626.1h0M434.7 593.8h0M563.8 523.6h0M503.6 505h0M441.5 455h0M549.9 529.8h0M382.8 510.3h0M454.3 618.1h0M550.9 475.8h0M470.7 460.1h0M579.7 587.1h0M479.7 667.2h0M524.4 452.6h0M553.7 518.9h0M574.3 535.6h0M424.5 449.2h0M425.2 547.4h0M341.7 564.2h0M537.2 613.1h0M492.6 642.5h0M422.3 547.1h0M439.4 537.1h0M487 670.1h0M523.8 542.5h0M455.8 562.3h0M431.3 593.3h0M532.6 535.1h0M459.1 422.6h0M535 544.7h0M545 344.6h0M523.6 529.4h0M415.9 606.3h0M524.5 519.6h0M390.1 596.5h0M493.4 641h0M408.8 505h0M443 593h0M533.8 533.3h0M543 565.7h0M418.6 619.1h0M545.8 512.1h0M535.3 545.8h0M552.1 534.1h0M430.9 617h0M449.5 450.9h0M391.8 510.4h0M437.4 357.9h0M542.7 483.5h0M434.2 610h0M465.4 439.1h0M537.3 620.8h0M544.7 523.1h0M448.6 586.4h0M539.8 387h0M563.5 502.8h0M537.6 651.4h0M425.7 438h0M443.9 587.2h0M448.2 651h0M450.8 478.7h0M533.6 521.3h0M540.8 530.8h0M426.6 553.1h0M561.4 484.9h0M547.1 528.3h0M411.5 615.8h0M464.8 449.4h0M537.5 491.9h0M555.3 579.8h0M440.3 599.9h0M442.1 471.6h0M463.9 479h0M422 378.4h0M555.8 514.7h0M516.5 502.1h0M496.6 569.2h0M420.7 546.1h0M421.3 596.4h0M534.7 434.1h0M422.8 542.1h0M444.6 545.7h0M462.7 452.9h0M548.3 614.2h0M561.1 487.6h0M456.9 412.5h0M453.4 451.2h0M584.9 533.9h0M511.6 463.4h0M393.7 586.3h0M471.7 467.1h0M427.1 612.9h0M528 563.7h0M435.9 468.3h0M422.8 604.6h0M419.6 461.8h0M469.1 476.4h0M529 447.5h0M436.4 479h0M507.7 472.4h0M453.1 645.1h0M525.6 656.4h0M445.7 501.2h0M552.8 626.6h0M445.7 654.2h0M466.1 434.9h0M487.2 645.9h0M357.3 522.3h0M559.8 560.7h0M568 616.1h0M583.4 502.2h0M455.6 516.6h0M438.9 513.6h0M439.9 596.9h0M450.1 579.2h0M621.6 511.8h0M534.7 540.7h0M535 508.9h0M410.1 569h0M444.1 593.9h0M437.5 586.1h0M446.5 545.6h0M450.1 529.3h0M527.5 581.1h0M379.6 571.1h0M446.6 614.9h0M416.9 551.9h0M472.4 504.8h0M574.6 595.7h0M447.8 393.3h0M558.9 352.4h0M495.7 608.4h0M514.6 487.6h0M537.1 575.5h0M455.7 442.6h0M552.4 429.8h0M453.8 561.6h0M459.9 423.2h0M440.8 481h0M548.6 557.9h0M500.4 530.5h0M471.7 466.3h0M526.5 426.9h0M446.6 488.4h0M424.1 520.8h0M458.4 475.5h0M424.9 609.7h0M369.1 584.8h0M468 468.3h0M441.8 574.3h0M452.9 508.6h0M472.1 480.5h0M454.8 497.8h0M447.1 352.9h0M533.8 420h0M435.6 344.8h0M531.9 645h0M549.6 503.3h0M543.1 437.9h0M535.3 592.7h0M451 509.4h0M523.2 401.6h0M460.1 530.2h0M472.1 481.4h0M428.9 578h0M525.4 574.5h0M440.4 443.3h0M453.2 523.7h0M365.8 556.1h0M442.4 616.4h0M496.2 605.1h0M512.8 446.9h0M544.2 520.5h0M454.7 471.4h0M523.4 563.2h0M543.3 625.8h0M411.1 556.5h0M470.4 476.3h0M432 485.9h0M444.1 467.3h0M605.9 595.1h0M415.2 565.4h0M507.4 455.3h0M548.1 373h0M428.2 512.7h0M582.1 582.5h0M553.5 402.6h0M553.7 558.4h0M421.2 576.7h0M428.8 473.5h0M389.1 546.5h0M558.5 548.5h0M460.7 579.2h0M376.1 525.8h0M429.7 539.8h0M550.2 352.7h0M533.3 493.5h0M423.1 508.7h0M403.6 614.5h0M446.7 515.5h0M521.6 533.8h0M480.4 555.4h0M443.6 532.4h0M449 459.4h0M390.3 565.3h0M499.5 543.3h0M532.7 484.4h0M538.3 500.3h0M480 546.9h0M469.4 455h0M573.9 592.9h0M524.4 569.1h0M429.3 586.1h0M369.1 566.6h0M558.6 461.9h0M378.8 594.5h0M453.1 602.4h0M508.6 466.4h0M462.9 500.6h0M517.9 511h0M563 580.6h0M459.6 421h0M538.1 491.1h0M472.7 541.4h0M440.4 474.1h0M495.5 607.6h0M525.5 412.3h0M547.9 633.9h0M423.8 504.6h0M482 668.5h0M426.3 614.4h0M470 449.7h0M529.5 451.2h0M563.4 585.9h0M442.1 605.2h0M535 591.4h0M400.8 563.9h0M445.1 631.1h0M464.9 539.2h0M516.4 648h0M532.3 457.3h0M555.1 529.3h0M520.4 487.4h0M538.9 520.3h0M454.8 384.7h0M472.8 665.2h0M425.9 581.7h0M569.8 588.2h0M360.2 546.9h0M445.3 484.5h0M516.8 504.6h0M530.8 646.6h0M540 495.4h0M528.1 538.4h0M686.8 543.7h0M593.5 561.6h0M509.1 453.2h0M526 509.6h0M441.2 583.2h0M448.4 541.5h0M557.6 588.6h0M447.8 423.9h0M413.8 527.5h0M582 523.7h0M420.8 497.9h0M519.7 354.6h0M520.2 512.4h0M453.6 526.8h0M551 637.4h0M554.4 440.3h0M374 575.1h0M420.2 599.5h0M499.6 539.5h0M514.3 435.5h0M467.5 663.3h0M520.7 467.4h0M549.6 470.5h0M514.7 510.8h0M545.5 395.8h0M545.9 620.5h0M544.3 560.6h0M519.3 560.6h0M465.6 499.6h0M581.9 554.1h0M545.4 642.4h0M421.3 541.7h0M547.9 625.3h0M444.6 539.6h0M404.2 583.7h0M455.8 463.1h0M445.8 478.4h0M519.4 353h0M568.1 569.8h0M396 498.6h0M544.2 568.3h0M484.1 621.8h0M538.9 545.2h0M549.5 602.6h0M606.6 526.8h0M493.8 629.6h0M416.7 514.9h0M434.1 554.8h0M662.1 530.5h0M470.2 473.2h0M448.2 641.1h0M428 608.8h0M444.1 458.4h0M545.4 550.5h0M519.9 515.5h0M585.2 577.1h0M443.3 611.4h0M354 537h0M438.9 529.7h0M547.3 498.2h0M583.3 597.6h0M423.3 542.1h0M457.7 578.1h0M615.6 515.9h0M536 452.7h0M431.1 533.3h0M505.9 493.1h0M462.6 467.3h0M445.5 605.4h0M457.6 480h0M521.4 484.6h0M533.3 564.5h0M591.4 553.4h0M522.9 573h0M461.7 478.5h0M538.1 572.4h0M639.9 541.3h0M543.9 485h0M419.4 505.8h0M526.1 644.3h0M467.8 442.9h0M379.8 569h0M486.5 643.2h0M489.7 670.7h0M516.6 514.2h0M461.1 470.1h0M435.7 495.3h0M540.1 463.9h0M530.5 345.1h0M523.9 479h0M634.3 521.8h0M442 565.6h0M533 468.8h0M420 359.7h0M483.6 610.4h0M449.5 606.3h0M540.8 556.1h0M545.4 549.5h0M421.9 626.2h0M520.8 640.1h0M436.2 617.4h0M527.8 407h0M429.6 536.8h0M524.9 438.9h0M459.6 539.5h0M521 512.4h0M422.7 515.1h0M397.5 525.1h0M456.2 433h0M588.5 573.3h0M562.1 493.3h0M447.5 521.7h0M441.4 632.5h0M538 526.8h0M419.9 509.7h0M543.9 474h0M447.6 619.9h0M388 549h0M429 547.1h0M370.7 494.2h0M523.1 387.8h0M409 546.9h0M444.2 432.5h0M570.3 518.3h0M448.9 642.1h0M534.9 586.7h0M453.3 544.8h0M415.7 503.8h0M532 577.2h0M516.7 444.1h0M449.7 547.8h0M493.5 639.2h0M453.6 513.8h0M423.7 462.3h0M544.3 605h0M515.3 663.3h0M446.4 510.5h0M535.6 595.3h0M559.9 536.3h0M446.7 462.8h0M543.5 416.8h0M458.8 527h0M466.3 483.3h0M496.6 590.5h0M360.2 568.5h0M522.7 536.9h0M558.3 504.1h0M359.4 512h0M634.9 556.7h0M456.2 407.3h0M538.9 445.8h0M544.3 635.2h0M470.8 472.6h0M431.9 570h0M408 569.4h0M439.4 643.6h0M433.1 540.9h0M428 546.3h0M447 633.1h0M451.9 648.4h0M570.5 527.3h0M539.9 463.5h0M456.2 649.4h0M469.7 664.3h0M549.8 635.3h0M577.2 538.5h0M432.5 559.6h0M558.8 591.2h0M375.7 541.5h0M416.9 594.8h0M519.9 491.5h0M574.7 518h0M453.4 555h0M554.3 590.9h0M429 461.8h0M498.3 557.2h0M348 545.2h0M543.3 509h0M505.5 484.7h0M386.1 529.8h0M451 549.3h0M585 503.9h0M412.8 571.3h0M470.1 456.7h0M554.3 560.9h0M525.4 387.4h0M449.7 598.1h0M497.5 586h0M436.7 464.3h0M430.8 626.3h0M524.1 593.4h0M559.9 544.4h0M525.7 541.6h0M553.3 502.9h0M543.2 617.3h0M415 531.3h0M415 520.6h0M532.2 618.1h0M467.2 471.4h0M583.7 507.6h0M436.8 548.6h0M573.5 559.7h0M567.5 585.1h0M517.8 433.5h0M557.6 438.3h0M402.1 555.6h0M529.2 604.4h0M556.1 616.2h0M541.2 505.5h0M546.3 515.4h0M548.2 552.7h0M543.1 565.9h0M548.9 515.9h0M553.2 632h0M534.7 499.8h0M420.7 616.9h0M394.2 612.1h0M501.4 667.4h0M534.1 621.3h0M435.9 418.5h0M480.1 539.4h0M437.1 601.3h0M556.2 630.4h0M587.3 542.6h0M442.3 649.2h0M548.8 504.9h0M542.5 553.7h0M409.6 524.1h0M358.3 499.6h0M436.4 628.9h0M537.6 470.2h0M492.4 645h0M512.1 460.3h0M346.3 505.2h0M430.3 640.4h0M510.9 482h0M509.1 664.7h0M436.3 605h0M509.1 476.6h0M469.7 519h0M449.2 556.1h0M456.9 534.2h0M393 578.6h0M493.6 669.3h0M547.8 588.1h0M435.4 520.4h0M391.2 549.4h0M453.3 477.5h0M546.9 584h0M427.3 371.9h0M452.9 484.2h0M467.1 482.6h0M424.9 557.6h0M551.6 593.4h0M571.3 579.3h0M462.9 452.6h0M546.3 637.5h0M463.6 479.9h0M525.7 578.9h0M473.5 490.5h0M544.4 422h0M609 497.5h0M517.3 491.9h0M494.2 634.2h0M434.4 631h0M560.4 627.5h0M522.2 485.6h0M462.5 434.9h0M526.3 526h0M471.5 458.9h0M530.2 555.3h0M430.8 428.6h0M449.5 470.9h0M482.8 589h0M437.1 411.2h0M518.6 511h0M547 509.3h0M522 650.3h0M460.4 432.2h0M434.5 394.2h0M526.4 549.4h0M572 522.6h0M530.4 593.2h0M540.7 476.6h0M538.1 443.8h0M443.1 444h0M543.4 620.6h0M549.8 614.2h0M463.2 481.1h0M556.4 571.3h0M420.7 521.5h0M445.5 558.4h0M550.6 356.7h0M562.7 624.5h0M400.6 568.6h0M529 475.9h0M411.2 531.5h0M370.7 529.1h0M392.3 517.1h0M551.7 586.3h0M485 634.2h0M520.4 415.4h0M422.6 555.5h0M484.8 669.1h0M527.3 403.7h0M536.2 647.7h0M531.1 600.9h0M505.8 480.7h0M577.6 493.9h0M451.2 474h0M531.3 465h0M516.2 433.6h0M548.5 483.2h0M513.5 513h0M501.1 522.2h0M495.1 619.5h0M561.6 551.7h0M449.3 601.4h0M423.3 537.2h0M554.8 527.7h0M530.2 541.8h0M446.1 635.1h0M433.3 478.5h0M581.9 551.3h0M550.6 626.1h0M529.6 598h0M487.6 656.5h0M526.9 462h0M454.9 625h0M496.1 594.1h0M415.5 518.1h0M450 457h0M545.9 507.4h0M454.4 481.5h0M433.5 561.6h0M413.3 608.1h0M484.3 623.3h0M439.7 451.5h0M437.9 503.5h0M413.4 560.3h0M446.5 474.7h0M446.6 575.8h0M484.7 628.1h0M569.5 495.4h0M481.3 569.9h0M520.2 545.9h0M487.6 655.9h0M473.1 459.1h0M557.7 599.7h0M384.9 502.1h0M450 523.2h0M440 616.7h0M448.3 472.9h0M541.6 511.5h0M376.5 574.8h0M543.6 642.4h0M419.9 608h0M416.2 352.8h0M538.7 644h0M545.9 465.9h0M398.4 496.1h0M551 513.7h0M433.7 512h0M450.7 571.4h0M323.6 554.8h0M361.5 562.7h0M366.9 542.5h0M373.1 506.4h0M338.7 530.9h0M531.9 453.7h0M529.8 578.2h0M424.1 524.1h0M450.1 468.5h0M512.4 485.5h0M421.5 567.2h0M551.2 528.1h0M517.4 477.1h0M544.4 489.6h0M432.9 534h0M326.6 513.3h0M582.8 538.6h0M474.9 496.1h0M538.2 604.2h0M439.2 504.2h0M415.9 464h0M580.7 497.2h0M500 528.5h0M535.8 630.6h0M431.5 405h0M426.7 588.5h0M544.2 551h0M531.9 525.9h0M439.4 640.8h0M443.7 570.5h0M623.7 553.2h0M418.9 497h0M400.8 539.2h0M531 394.3h0M626.6 499.9h0M554.4 488.5h0M517.6 471.5h0M540 579.7h0M533.9 589.8h0M466.6 431.1h0M603 598.2h0M450 648.6h0M615.9 571.4h0M398.9 499.1h0M413.9 590.4h0M413.2 554.8h0M438.1 512.5h0M436.1 482.7h0M539.9 611.3h0M457 617.5h0M458.1 426.9h0M453.5 582.2h0M495.9 604.3h0M352.7 495.7h0M439.2 594.4h0M516.6 502.9h0M419.6 534.1h0M438.8 588.3h0M547.9 448.6h0M423.9 437.7h0M534.7 474.9h0M435.4 493.1h0M457.1 435.9h0M464.6 446.7h0M405.4 505.8h0M442.4 517.6h0M442.6 577h0M529.7 440.4h0M577 599.5h0M549.5 610.9h0M649 540h0M448.3 653.6h0M526.2 578.5h0M417.3 519h0M441.2 525.6h0M546.9 520.9h0M524.3 483.6h0M534.7 486.2h0M437 463.8h0M649.6 530.4h0M549.9 508.1h0M540 498h0M453.6 567.2h0M598.4 524h0M423.3 528.8h0M543.4 469.8h0M416.9 450.8h0M539.9 564.9h0M431.5 524.5h0M608.9 586.6h0M542.6 461.4h0M534.4 583h0M549 553.8h0M520.3 503.8h0M604.6 549.5h0M540.9 429.3h0M396.4 497.3h0M528.1 506.5h0M522.4 522.4h0M550.6 599.7h0M664.3 500.1h0M449.2 489.1h0M436.3 642.8h0M458.5 505.5h0M523.6 419.1h0M426.5 521.8h0M528.8 552.2h0M496.5 592.3h0M419.6 471.9h0M548.2 517h0M687.7 528.6h0M462.5 454.5h0M352.1 496.3h0M449.6 632.5h0M458.7 432.7h0M505.2 476.4h0M440.7 578.6h0M562.9 510.6h0M545.1 545.9h0M435.3 521.1h0M421.1 549.5h0M550.3 492.8h0M592.2 495.3h0M471.5 572.5h0M417.9 483.4h0M431.9 356.5h0M557.3 538.8h0M417.1 555.7h0M452.5 436.9h0M464.9 408h0M496.1 609.1h0M536 470.5h0M389.6 501.2h0M503.2 501.6h0M587.5 524.8h0M518.2 509.9h0M538.2 521h0M423.6 382.6h0M453.9 396h0M456.9 494.4h0M547.3 501.5h0M363 499.6h0M552.9 543.3h0M512.7 454.8h0M543 377.2h0M538 589.3h0M337.4 570h0M485.7 639.3h0M415.5 617.6h0M562.1 584.9h0M551.5 564.9h0M534.5 607.2h0M531.6 564.5h0M551 440h0M451.1 345.7h0M508.8 455.3h0M436.6 642.6h0M544 517.4h0M436 446.6h0M529.3 448.2h0M615 513h0M410.7 600.2h0M509.8 458.9h0M467.3 441.9h0M592.6 496.9h0M452 643.2h0M546.1 599.3h0M344.6 551.7h0M487.1 650.5h0M562.8 537.3h0M426 639.9h0M446.3 455.3h0M357.6 499.3h0M534.1 648.9h0M544.1 572.5h0M593 516.6h0M399.5 586h0M517.3 662.2h0M417.5 544.8h0M360.8 534h0M550.8 438.7h0M456.1 543.1h0M466.4 455.4h0M544.5 499.8h0M537.6 565.8h0M570.5 498.3h0M469.5 479.4h0M419.2 486.7h0M460.6 661.3h0M443.2 629.5h0M521.9 505.1h0M439.5 632.2h0M575.6 505.6h0M435.4 508.1h0M668.7 516.7h0M530.3 584.5h0M440.9 567.7h0M459.9 499h0M417.7 517.1h0M573.3 595.6h0M541.4 622.4h0M443 633.5h0M429.4 557.6h0M532.9 598.2h0M455.3 557.2h0M456.4 571.1h0M449.5 605.1h0M544.5 546.4h0M528.2 518.6h0M463.1 445.8h0M428.6 534.6h0M555.3 507h0M434.1 460.7h0M437.3 630h0M556.4 510.5h0M586.4 558h0M628.2 529.6h0M528.4 454.8h0M537.2 532.4h0M530.8 464.4h0M562 493.5h0M518.7 469.9h0M467.7 441.9h0M521.2 523.8h0M529.4 527.6h0M514.7 492.3h0M453.1 589.4h0M418.9 458.6h0M435.7 542.8h0M538.8 583.4h0M362.4 584.1h0M497.5 567.3h0M532.1 497.5h0M512.1 450.7h0M437.9 572.3h0M609.5 538.4h0M481.6 563.9h0M463.3 509.2h0M446.1 565.9h0M419 494.4h0M424.6 488.4h0M554.9 502.4h0M586.5 498.2h0M441.1 437.8h0M428.2 627.5h0M398.2 499.2h0M531.2 434.9h0M540.9 506.2h0M499.6 535.3h0M419.9 450.1h0M557.1 445.9h0M552.9 510.4h0M447.2 435.1h0M551.9 480.7h0M550.6 462.1h0M476.6 524.2h0M534 527h0M444.5 577.3h0M532.6 634.7h0M509.6 475.6h0M431.2 481.3h0M432 545h0M558.4 552.3h0M535 515.4h0M521.6 475.6h0M431.7 526.2h0M560 632h0M419.6 612.6h0M427.9 580.7h0M543.8 629.7h0M484.3 624.4h0M496.4 579.9h0M424.8 622h0M546.8 574h0M526.5 450.3h0M471 463.5h0M436.1 580h0M542.8 433.2h0M471.6 490.2h0M421.9 472.6h0M444.1 650.1h0M553.1 425.9h0M429.2 344.5h0M529.2 493.3h0M444.8 499.5h0M573.9 525.5h0M421.2 516.4h0M389.3 581.1h0M424.4 433h0M401.1 567.1h0M682.7 503.9h0M466.7 663.1h0M376 497.3h0M450.2 516.6h0M527.2 531.3h0M431.5 498.8h0M461.4 660.9h0M495.8 612.4h0M585 544.4h0M339.8 565h0M367.5 564.6h0M439.5 563.4h0M530.9 591.8h0M547.5 592.7h0M540.9 367.1h0M565 589h0M430 525.5h0M542 501.5h0M548.4 489.2h0M511.9 452.4h0M428.2 492.8h0M455.1 535.9h0M441.8 529h0M590.6 497.8h0M540.4 440.8h0M563.2 572.7h0M429.7 593h0M526.1 505h0M445.1 551.6h0M429.2 533.8h0M401.6 594.6h0M327.8 500.6h0M540.7 433.3h0M574.9 525h0M695.9 508.5h0M387.6 547.3h0M530 458.4h0M535.1 587.5h0M560.7 582.3h0M585.9 496.9h0M356.3 514.3h0M495.2 617.1h0M526.4 485.7h0M453.5 495h0M415.9 536.6h0M576.8 499.5h0M466.3 466.3h0M442.1 540.4h0M529 584.7h0M441.7 521.8h0M415.2 577.7h0M370.1 533.9h0M473.4 475.1h0M449.5 513.2h0M483.6 609.4h0M446 429.5h0M510.2 483.2h0M522.3 439.5h0M525.9 517.4h0M524.4 520.6h0M572.9 619.9h0M443.2 476.3h0M628.5 560.5h0M614.3 566.6h0M528.6 405.4h0M479.1 532h0M555 496.7h0M582.8 537.9h0M500.6 667.5h0M438.7 530.2h0M558.5 481.4h0M483.1 599.3h0M471.9 463.9h0M492.1 649h0M534.9 456.8h0M553.4 540.3h0M392.6 552.2h0M463.9 424.5h0M444.4 597h0M524.7 647.5h0M356.7 524h0M457.1 475.7h0M529.7 531.2h0M434.7 535.1h0M442.5 509.4h0M530.7 451.9h0M422.7 449.8h0M538.5 639.4h0M529.8 467h0M555.6 599.5h0M539.4 545h0M555.5 512.9h0M342.7 550.2h0M441.4 621.9h0M436.8 583.1h0M391.4 532.6h0M530.7 634.9h0M511.1 447.1h0M524.4 552.9h0M559.4 529.8h0M502.4 509.1h0M456.5 436.7h0M580 551.3h0M467.4 447.6h0M524 533.1h0M594.2 509.3h0M549 629.7h0M403.5 533.2h0M516.3 429.7h0M484.1 620.1h0M453.9 547.3h0M447.1 643.8h0M509.6 441.5h0M521.2 495.7h0M653.9 534.2h0M393.7 550.1h0M445.8 464.9h0M516.4 530.1h0M524.2 582.9h0M327.8 539.1h0M448 532.1h0M530.7 550.1h0M553.7 513.5h0M533.5 430.4h0M424.4 582.3h0M449 648.6h0M525.5 491.8h0M439.1 491.3h0M485.7 638.3h0M443.9 367.8h0M625.6 566.1h0M553 622.8h0M529 564.4h0M445.4 649.9h0M538.1 570.4h0M409.1 534.3h0M438.1 540.9h0M508.2 486.3h0M524.2 466.2h0M522.2 468.9h0M440 532.7h0M458 573.7h0M340.7 501.7h0M467.2 463.3h0M427.2 487.7h0M496 603h0M444.5 599.4h0M529.1 420.2h0M623.6 495.7h0M454.1 634.1h0M410.8 571.8h0M496.3 600.2h0M347.1 539.3h0M427.2 415.7h0M438.1 521.2h0M420.7 491.1h0M498.4 558.2h0M444.3 518.2h0M431.3 529.1h0M452.2 570.4h0M363.3 545.6h0M444.7 441h0M436.4 411.8h0M494.1 635.4h0M423.5 628.4h0M543.9 540.9h0M641.1 502.8h0M481.9 559.9h0M456.1 425h0M470.7 451h0M534.9 611.5h0M613.4 496.9h0M529.8 524h0M550.7 480.5h0M435.5 551.2h0M541.7 526.9h0M508.4 468.8h0M502.2 517.4h0M513.2 504.4h0M529.6 558.9h0M391 532.8h0M537.7 624h0M382.1 521h0M366.8 548.5h0M458 601.5h0M450.9 432.3h0M557.5 550.4h0M496.3 602.1h0M549 537.5h0M445.8 460.5h0M549.4 460.8h0M495.8 611h0M426.8 429.7h0M600.4 518.7h0M413.9 558.4h0M614.5 553.6h0M538.5 373.9h0M554 482.1h0M552 638.1h0M591.5 498.6h0M433.1 547.1h0M559.9 577.3h0M445.9 612.4h0M442.2 536.2h0M547.3 510.4h0M452.2 383.5h0M532.7 582.2h0M544.4 507.3h0M542.2 440.4h0M427.7 428.4h0M534.5 443.1h0M556.5 501.4h0M429.5 583.7h0M535.4 628.6h0M540 619.1h0M379 512h0M443.9 550.3h0M439 520h0M552.5 469.7h0M348 572.1h0M502.4 511h0M558.7 567.6h0M451.3 584.9h0M528.1 544.7h0M540.8 536h0M359.6 576.1h0M590.6 548.9h0M430.3 523.7h0M542.5 547.4h0M558.3 566.8h0M553 616.5h0M342.7 545.8h0M481.8 558h0M624.9 536.6h0M481.1 566.5h0M528.8 471.8h0M565 625h0M454.3 494.8h0M511.7 461.2h0M559.4 530.8h0M436.3 436.5h0M689.2 521.4h0M497 582.2h0M519.1 541h0M577.1 497.8h0M450.2 448.3h0M452.8 600.5h0M553.8 491.8h0M425.1 494.9h0M542.4 576.2h0M537.9 565.1h0M543.9 446.7h0M417.4 457.6h0M557.6 439.7h0M606.3 550.9h0M435.9 557.9h0M445 367h0M554.1 416.4h0M469.6 483h0M604.3 509h0M593.6 550.8h0M498.2 561.2h0M462.2 658.3h0M473.3 474.6h0M522.4 564.3h0M496.2 605.9h0M451.7 516.9h0M633.9 513.4h0M522 580.3h0M549.2 516h0M413.2 599.8h0M450.9 494.4h0M445.3 506.9h0M451.8 567.4h0M545.5 594.2h0M431.7 616.4h0M536.1 516.2h0M453.8 586.4h0M571.5 621h0M584.3 527.2h0M446.2 609.5h0M454.6 525.2h0M444.2 484.1h0M428.3 534.6h0M455.7 575.7h0M319.1 524.1h0M526.6 441h0M539.3 601.4h0M556.4 433.9h0M523.1 510.8h0M419.5 501.1h0M434.9 409h0M536.2 518.5h0M592.1 508.8h0M535.4 563.2h0M420.6 496.5h0M550.9 539.5h0M526.4 570h0M565.2 558.3h0M447.1 437.6h0M529 599.4h0M461.1 439.4h0M458.1 466.5h0M430.3 454.8h0M541.8 424.8h0M456.1 516.4h0M360.8 508.1h0M458.8 537.9h0M536.9 636.3h0M531.5 611h0M487.4 654h0M540.6 635.5h0M430.2 497.5h0M532.5 580.3h0M546.8 615.2h0M424.1 513.4h0M548.9 455.1h0M555.1 442.6h0M459.4 542.9h0M548.4 606.5h0M514.1 464.2h0M522 431.2h0M452.8 622.1h0M521.4 422.9h0M536.3 429.2h0M551.5 621.4h0M517.6 453.2h0M536 554.1h0M555.2 456.3h0M393.5 530.4h0M555.6 471.4h0M432.4 501.4h0M624.6 496.3h0M554.6 450.4h0M443.6 595.2h0M441 368.5h0M486.9 647.4h0M551.2 486.9h0M481.8 573h0M436.3 457.1h0M404.7 546.3h0M577.6 527h0M445.9 553h0M503.5 497.2h0M434 489.1h0M543.8 478.2h0M387.6 572.1h0M446.7 638.4h0M556.2 444.3h0M637.9 531.9h0M460.6 441.5h0M471.8 465.1h0M531 490.9h0M429.9 447.1h0M455.3 535.8h0M429.4 619.3h0M517.4 534h0M536.6 559.8h0M494.2 627.4h0M415 544.7h0M543.9 441.4h0M558.9 524.5h0M519.7 499.4h0M398.7 527.2h0M499.3 538.1h0M533.8 649.2h0M438.8 549.1h0M511.2 450.3h0M546.6 484.4h0M496.9 577.9h0M347 517.8h0M515.3 449.1h0M561.4 625.3h0M459.1 534.3h0M562.9 548.5h0M531.6 456.9h0M444 478.5h0M426.9 567.6h0M444.9 622.3h0M562.3 556.5h0M390.1 608.4h0M441.9 626.6h0M295.4 531.9h0M431.5 448.9h0M442.7 647.9h0M535.9 427.5h0M325.1 501.6h0M424.9 508.6h0M442.3 612.5h0M443.7 595.3h0M469.9 452.5h0M444.4 512.8h0M533.4 539.3h0M491.7 654h0M527.1 437.9h0M439.2 590.2h0M429.7 557.1h0M452 635.9h0M557.9 453.8h0M417.4 498.5h0M542.7 508.6h0M538 540h0M379.5 498.6h0M399.4 492.7h0M531.4 517.1h0M464.3 658.5h0M405.4 564.1h0M589 515.8h0M457.4 621.2h0M406 606.5h0M331.9 541.3h0M435.4 486.6h0M423.8 626.1h0M526 541.2h0M541.5 444.5h0M575.2 596.2h0M521.4 351.9h0M673.1 509.9h0M524 566.6h0M524.8 480.3h0M369.8 559.3h0M440.4 635h0M530 546.7h0M410.4 506.6h0M431.9 406.6h0M404.2 532.7h0M601.3 548.1h0M525.6 564.5h0M423.9 517.9h0M453.6 552.1h0M470.1 486.6h0M531.5 619h0M593.6 544.4h0M447.2 442.1h0M421.4 490.7h0M268.1 513.1h0M434.6 612.9h0M465.3 538h0M494.6 624.2h0M529.8 633.9h0M528 567.5h0M446.8 535.6h0M587.8 587.5h0M462.9 497.6h0M429.3 626.3h0M566.9 579.7h0M453.6 436.3h0M554.5 566.9h0M536.3 436.8h0M526.6 480.6h0M483.7 608.4h0M547.5 432.9h0M529.2 541.9h0M355.3 553.4h0M446.7 448.1h0M535.1 567.5h0M538.9 649.2h0M551.5 561.5h0M425.4 541h0M528.1 427.6h0M508.4 462.7h0M537.4 572.9h0M435.8 639h0M558.4 423.9h0M460.6 508.2h0M443.1 618.2h0M523.9 409h0M544 583.1h0M547.1 557.4h0M517.7 473.7h0M517.4 487.4h0M439.3 619h0M484.6 631.2h0M487.3 652.5h0M525.8 470.8h0M540.1 612.8h0M438.8 513.9h0M567.2 574.9h0M518.5 440.1h0M562.9 600.3h0M419.2 459.9h0M525.5 647.9h0M461.4 517.2h0M555.7 483.2h0M550.5 463.6h0M366.3 499.2h0M517.9 479.7h0M444.1 586.6h0M454.2 476.5h0M491.3 670.1h0M441.6 510.2h0M524 548.4h0M423.6 638h0M376.9 565h0M541.1 620.6h0M540.7 557.5h0M477.9 519.1h0M523.4 516.5h0M535.5 448.7h0M591.9 550.8h0M580.3 592.5h0M372.9 577.5h0M451 575.5h0M533.3 602.7h0M525.9 471.9h0M531.2 432.5h0M557.8 579h0M538.2 558h0M494.2 632.9h0M446.9 579h0M602.6 582.2h0M540.2 428.9h0M543.8 577.9h0M525.3 522h0M440.1 353.5h0M649.5 510.8h0M466.5 461h0M417.5 623.2h0M534.3 544.4h0M535.8 592.4h0M458 478.4h0M546.4 476.9h0M542.3 598.5h0M561.3 455.7h0M531.2 520.8h0M545.5 467h0M563.4 462.3h0M553.9 474.1h0M522.3 386.9h0M537.2 424.1h0M413.9 586h0M455.2 539.8h0M527.3 570.3h0M531.3 496.9h0M462.2 451h0M520.5 444.8h0M380.7 527.6h0M529.2 431.1h0M517 483.7h0M454.8 590.9h0M386 546.7h0M440 635.6h0M447.6 400.1h0M539.6 518.9h0M495.9 598.4h0M548.5 614.5h0M453.8 374.1h0M543.7 561.3h0M460.8 488.1h0M552.7 612.9h0M448.2 472.5h0M420.9 529.3h0M357.6 541.5h0M444.6 635.6h0M480.4 553.2h0M514.1 437.6h0M458.6 484.5h0M385.7 507.9h0M531.3 395.1h0M534.1 507.9h0M393.9 584.8h0M558 448.4h0M572.6 609.6h0M398.8 562.1h0M435.2 564.2h0M521.5 461.2h0M421.9 469.2h0M506.4 665.7h0M467.4 440.3h0M421.5 530.6h0M545.5 540.4h0M412.2 511.6h0M519.1 483.5h0M499.1 546.5h0M560.1 396h0M456.7 505.8h0M534.4 626.8h0M485.7 640h0M532.1 567.9h0M444.5 449.1h0M443.3 529.8h0M650.8 521.3h0M447.9 483.6h0M481.1 668.2h0M545 575.2h0M526.2 504h0M497.8 559.9h0M454 553.2h0M557.4 616.3h0M624.8 579.9h0M378 534.5h0M449.3 542.3h0M607 538h0M509.3 466.4h0M638 514.7h0M428.6 424.9h0M355.6 526.1h0M546.1 605.1h0M457.1 488.4h0M524.7 513.5h0M545 468.1h0M514.7 483.3h0M402.2 505.2h0M583.6 525.1h0M526.1 526.5h0M446.1 443.8h0M407.5 583.1h0M585.7 540.6h0M560.3 484.8h0M497.8 572.4h0M466.6 471.4h0M596.4 504.4h0M439.1 603.8h0M531.1 614.2h0M450.4 537.2h0M528.5 428.5h0M568.1 498.8h0M492.3 648h0M419.4 473.4h0M465.5 490.2h0M427.1 552.2h0M417.4 539.8h0M452.9 524.4h0M538.5 496.4h0M457.2 559.8h0M561.3 500h0M525.8 500.2h0M436.9 415h0M551.9 560.8h0M395 589.3h0M549.7 587.5h0M448.5 558.6h0M527.8 571.2h0M428.3 560.2h0M567.2 565.9h0M527.2 496h0M554.6 449.5h0M562.7 538.2h0M446.7 499.9h0M473.6 507.1h0M439.4 547.1h0M417.9 562.2h0M459.8 446.6h0M475.1 498.9h0M534.5 512.9h0M555.6 549.7h0M483.9 619h0M401.2 497.9h0M482.7 581.3h0M436.6 611.6h0M497.7 575.1h0M559.4 571.1h0M448.1 656.3h0M407.4 582.7h0M534.9 642.2h0M555.9 437.6h0M537.3 467.5h0M439.7 504.3h0M456.4 545.5h0M515.1 507.3h0M453.6 347.3h0M541.4 584.7h0M579.6 594h0M522.5 489.2h0M546.1 404h0M465.4 459.1h0M435.4 595.8h0M536 601.5h0M557.3 554.3h0M571.8 520.7h0M434.8 575.8h0M407.8 618.8h0M470.6 463.3h0M439.5 531.5h0M456.4 659.4h0M529.8 445h0M422.1 581h0M345.5 568h0M423.9 628.9h0M452.9 646.1h0M391.6 501.9h0M537.7 545.9h0M451 432.9h0M520.2 548h0M375.9 497.3h0M416.9 572.2h0M540.5 642.5h0M490.2 670.7h0M552.2 617h0M516.6 494.3h0M433.6 620.6h0M450.7 632.4h0M458.2 518.2h0M440.1 557.2h0M451.5 625.9h0M461.4 349.5h0M506.5 463h0M439.5 648.1h0M540.9 578.6h0M537.2 609.6h0M458.4 482.2h0M377.3 596.5h0M532.4 390h0M561.9 505h0M428.9 619.4h0M436 616.1h0M509 457.6h0M500.2 667.5h0M535.6 582.2h0M535.7 520.1h0M529.2 357.9h0M593.6 573.4h0M535 614.1h0M459 659.7h0M433.8 561.2h0M483.2 587h0M378.5 501.1h0M473.6 480.3h0M515 499.5h0M545 525.5h0M450.3 617.8h0M660.8 508.9h0M521 494.6h0M393 607.4h0M452.3 656.4h0M415.6 616.8h0M421.9 585.5h0M547.7 606.4h0M535 581.9h0M452.2 457h0M365.8 558.1h0M447 517.5h0M554.7 565.9h0M484.8 630h0M529.5 486h0M483.3 591h0M420.3 556.5h0M558.2 481.9h0M452.3 558.3h0M554.5 573.3h0M429.8 345.3h0M438.1 518.2h0M431.6 476h0M492.5 643.5h0M554.6 563.6h0M543.1 521h0M461.1 442.3h0M623.5 509.8h0M412.8 579.1h0M588 598.1h0M473.2 489.1h0M525.6 585.2h0M544.9 627.2h0M449.4 536.1h0M413.2 564.9h0M552.1 555.8h0M452 508.1h0M527.7 494.9h0M446 468h0M535.6 471.6h0M480.3 554.4h0M474.9 666h0M412.8 611h0M491.4 657h0M461.9 484.5h0M536.3 591.4h0M538.7 511.8h0M482 577.2h0M454.5 592.8h0M384.4 559h0M573.8 549.8h0M498.4 546.9h0M492.1 650h0M521.5 530.5h0M309.8 495.6h0M484.5 617.3h0M396.2 522.5h0M539.3 407.1h0M548.1 440.4h0M485 629.2h0M543.9 390.6h0M423.8 506.6h0M469.8 539.4h0M446 520.4h0M525.5 352.5h0M442.6 591h0M440.7 365.9h0M476.9 516.3h0M556.8 504h0M532.3 640.3h0M541.9 593.2h0M506.4 472.1h0M476.3 509.9h0M539.3 578.4h0M442.1 478.9h0M536.8 497.8h0M535.8 529.1h0M442.2 528.8h0M535.6 545.9h0M546 572.3h0M475.7 512.5h0M472.9 484.1h0M444.3 463.2h0M434 590.3h0M456.8 521.2h0M416.4 619.3h0M519.7 531h0M427.7 567.3h0M487.4 653.4h0M562.6 498.3h0M457.3 501.3h0M491.7 652h0M430 204h0M416 331.3h0M235 550.7h0M242.3 560.3h0M258.7 541h0M265.7 541h0M270.7 570.3h0M293.7 526.3h0M299 607h0M274 615.3h0M308.7 580.3h0M312 531.3h0M318.3 530h0M322 582.7h0M708.3 536h0M750 532.2h0M663.3 551.4h0M663.3 563.4h0M639.2 542.1h0M637.5 555.2h0M623.3 576.1h0M618.9 607.9h0M601.3 618.9h0M614.5 627.6h0M606.2 629.3h0M647.4 503.1h0"/>
<path fill="none" stroke="#1fa37b" stroke-width="3.6" stroke-linecap="round" d="M405.7 446.7h2.8M383.2 470.7h0M405.5 427.6h0M380.1 386.9h0M403 437.3h0M347.1 424.8h0M354.8 456.4h0M413.2 441.8h0M309.1 454.8h0M408.4 456.9h0M365.7 469.9h0M404.9 445.3h0M363.9 467.3h0M412.6 456.3h0M367.5 488.4h0M411.7 452.7h0M403.9 427.2h0M345.6 440.5h0M389.5 400.3h0M408.2 426h0M411.9 430.6h0M375.7 468.6h0M289.7 365h0M338.3 450.3h0M347.5 444.9h0M294.9 396h0M353.7 412.3h0M383.7 480.2h0M351.4 438.5h0M413 448.4h0M413.7 472.6h0M389.9 482.6h0M332.6 399.4h0M389.8 447.9h0M348.3 430.8h0M401.7 470.2h0M379.9 462.7h0M272.9 454h0M366.3 460.6h0M372.1 462.1h0M335.7 491.1h0M412.8 453.3h0M321.2 447.8h0M381.2 475.3h0M367 454.5h0M403 472.3h0M377.4 485.4h0M335.7 492.2h0M403.2 490.1h0M338.2 478.6h0M391 449.9h0M392.7 473.7h0M414.4 387.4h0M359.6 441.3h0M389.1 462h0M392.2 444.5h0M367.4 406.6h0M291 431.1h0M405.1 479.9h0M357.8 474.6h0M379.4 489.8h0M393.6 362.8h0M357.3 378.4h0M405.3 354.7h0M395.6 479.4h0M341.7 475.2h0M389.1 375.8h0M407.6 478.7h0M401.9 471.6h0M378.2 454.5h0M345.9 456.6h0M405.3 447.7h0M414.5 447.1h0M305.3 438h0M413.5 376.2h0M360.6 390.4h0M389.1 462.6h0M307.1 492.4h0M353.8 483.5h0M288.8 403.9h0M361.3 491.8h0M390.5 405.3h0M389.1 446.3h0M406.1 377.7h0M310.8 479h0M408.9 442.6h0M406.5 459.8h0M400.3 415.6h0M395.6 469.8h0M413.1 483.1h0M370.2 478.2h0M379.7 398h0M297.9 460.4h0M331.9 428.1h0M331.2 465.8h0M399.9 438.2h0M372.6 467.7h0M407.6 474.7h0M397.4 385.2h0M413.8 418.9h0M355.3 393.9h0M390 481.8h0M316.6 489.1h0M411.8 379.6h0M396.5 436.7h0M385.4 379.7h0M303.3 440.9h0M284.6 362.7h0M381.7 443.7h0M388.9 481h0M358 422.8h0M355.9 447.1h0M412.1 485.3h0M409.4 488.6h0M314.7 432.6h0M407 480.4h0M394.7 489.6h0M401.5 486.1h0M344.8 457h0M403.2 463.3h0M415.1 481h0M392.1 455.8h0M386.9 490h0M324.8 465.3h0M359.3 441.8h0M402.2 475.4h0M333.1 480.8h0M395.6 439.9h0M397.8 481.4h0M400.5 425.5h0M383.6 481.7h0M409.3 447.3h0M407.9 447.7h0M408.1 446h0M400.6 449.3h0M380.3 462h0M348.1 361.3h0M356.8 420.2h0M333.5 352h0M380.1 346h0M399.1 453.5h0M412.7 406.1h0M401 479.8h0M383.8 419.5h0M377.1 467.1h0M334 434.8h0M278.7 471.4h0M354.5 481h0M362.1 431.4h0M391.1 423.5h0M381.3 418.5h0M328 356.5h0M408.8 471.8h0M386.3 457.9h0M324.1 482.4h0M375 462.9h0M276.7 442.4h0M367.2 446.7h0M380.9 451.7h0M292.7 449.9h0M343.9 443.2h0M305.5 458h0M401.6 465h0M412.5 465h0M351.8 487.8h0M400.4 422.1h0M399.6 462.6h0M404.9 450h0M366.2 475.9h0M325.2 478.4h0M350.5 460h0M328.6 431.5h0M397.6 426.8h0M387.4 429.9h0M397.5 440.5h0M318.8 461.8h0M358.1 477.3h0M340.2 404h0M412.1 479.8h0M369.6 488.3h0M410.8 442.7h0M408.3 462.2h0M309.7 421h0M265.6 390.5h0M404.5 422.3h0M392.8 432.6h0M393.9 448.9h0M410.3 485.6h0M297.3 349.8h0M337.3 353.4h0M381.2 477.5h0M369.2 449.3h0M362.5 467h0M393.1 483.7h0M400 430.4h0M347.6 450.3h0M396.8 449.8h0M378.2 478.1h0M411.3 455.2h0M361.7 434.4h0M367.5 485.4h0M354.6 421.4h0M392.7 474.7h0M393 478.7h0M368.4 359.1h0M306.3 449h0M399.8 476.6h0M370.9 381.3h0M403.1 476.3h0M342.3 431.5h0M415.8 350h0M342.5 365.3h0M394.2 404.9h0M371.9 479h0M301.4 474.1h0M406.7 388.5h0M357.6 432h0M361.1 403.9h0M350.5 442.1h0M400.4 431.3h0M376.5 470.2h0M345.7 452.2h0M334 377.1h0M357.7 464.2h0M393.4 413.9h0M383.3 217h0M339.7 262.7h0M371 269h0M244.7 282.7h0M368.7 282.7h0M379 282.7h0M390.3 282.7h0M398 293.3h0M412.7 293.3h0M385.7 319.7h0M374.3 331.3h0M312 331.3h0M237.7 344.3h0M271.7 347h0M241 360h0M253.3 372.7h0M236 424.3h0M249.3 427.7h0M284 415.7h0M283.3 424h0"/>
<path fill="none" stroke="#f4511e" stroke-width="3.6" stroke-linecap="round" d="M570 478.7h1M578 480.7h1.2M641 347.3h0M664.4 450.5h0M680.1 487.7h0M591.5 469.3h0M638.9 476.3h0M697.2 404h0M592.7 470.6h0M605.9 431.6h0M675.9 440h0M683.4 488.4h0M592.1 384.7h0M602.1 465.7h0M649.2 426.9h0M589.9 486.5h0M566.9 358.1h0M577.5 444.8h0M567.5 362.5h0M587.9 491.6h0M565.5 472.6h0M715.9 470.5h0M658.5 438.8h0M609.2 419.5h0M577.3 435.7h0M573.8 426.7h0M578.3 485.8h0M689.2 357.9h0M582.2 471.9h0M587 480.1h0M631.7 443.7h0M580.4 382.2h0M592.3 488h0M623.5 415.9h0M717.4 438.7h0M627.7 389.1h0M576.8 419.8h0M579.8 463.9h0M583.8 469.6h0M649.5 375.5h0M606.9 450h0M577.7 391.3h0M591.5 475.1h0M563.6 458.8h0M618.3 450.3h0M634 446.2h0M583.1 418.2h0M595.5 402.4h0M571.7 449.7h0M604.8 470.6h0M631.8 487.2h0M590 462.3h0M612.2 462.7h0M603.8 490.9h0M579.6 486h0M572 463.9h0M580 482.5h0M575.9 491.6h0M582.7 346.6h0M614.4 353.2h0M572 486.3h0M685.1 472.5h0M585.6 444.8h0M578.3 415.7h0M633.8 429h0M642.6 451.3h0M588.1 459.2h0M591 462.1h0M656.7 416.3h0M574.1 439.6h0M574 481.3h0M635.7 472.9h0M626.1 441.1h0M577.2 484.9h0M695.3 362.1h0M634.7 457.6h0M575 458.6h0M688.4 350h0M583.4 485.2h0M590.1 487.2h0M579.3 469h0M567.6 457.7h0M681.2 389.9h0M581.8 414.5h0M652.5 437.4h0M623 440.4h0M571 480h0M586.1 470.2h0M656 442.4h0M644.3 436.4h0M568.1 488.2h0M619.7 456.8h0M613 479h0M652.4 448h0M624.7 438.7h0M652.8 443.3h0M668.8 469.1h0M599.3 461.9h0M646.7 380.7h0M579 467.9h0M575.2 475h0M564.7 489h0M616.4 381.3h0M579.7 490.3h0M609 461.4h0M599.5 433.8h0M601.4 388.5h0M643.8 484.7h0M703.5 454.9h0M632.5 483.5h0M583.1 463.9h0M603.4 445.4h0M703.7 471.9h0M589 344.7h0M564.9 386h0M625.8 374h0M590.3 444.9h0M659.4 460.2h0M616.6 343.8h0M599 474.3h0M569 411h0M609.6 470.2h0M573.6 459.8h0M609.4 410.6h0M732.5 445.1h0M684.7 445.2h0M572.9 482h0M624.2 353.5h0M595.1 362.1h0M594.5 445.9h0M577.3 373h0M598.1 484.6h0M577.6 450.2h0M628.4 480.5h0M621.9 444.2h0M694.5 419.3h0M673.2 464.3h0M641.8 476.9h0M564.7 431.8h0M610.5 475.2h0M674.3 459h0M572.9 379.4h0M603.8 466.5h0M603 384.3h0M684.1 457.4h0M578.2 474.5h0M652.2 454.5h0M569.7 490.8h0M611.6 470.4h0M665.3 488.1h0M579.4 465.7h0M578.4 406.8h0M570.7 471.1h0M599.9 475.4h0M584.8 464.6h0M563.7 361.6h0M675.7 362.9h0M580.9 446h0M689.9 380.9h0M576.1 446.5h0M639.3 470.4h0M602.9 380.7h0M573.7 487.7h0M610.1 477.4h0M575.4 355.3h0M668.3 449.4h0M613.5 416.1h0M571.7 445.8h0M654.2 457.6h0M648.3 390.1h0M571.8 477.8h0M592.6 399.1h0M579 443.7h0M599.7 442.3h0M664.8 477.6h0M641.8 481h0M613.3 387.5h0M621.5 470.7h0M642.6 416.5h0M567.4 364.8h0M587.9 437.6h0M715.4 467.9h0M656.4 364.3h0M585.9 473.7h0M583.4 476h0M637.6 369.7h0M664.1 378h0M606.6 448.4h0M665.2 405h0M600.8 472.5h0M577.4 464.9h0M604.8 465.7h0M571.8 406.7h0M591.6 483.6h0M600.8 437.9h0M582.3 457.9h0M613.4 412.7h0M611.1 475.2h0M579.7 479.6h0M566.7 476.4h0M617.1 453.4h0M659.4 440.8h0M591.2 448.9h0M630.4 393.2h0M660.3 487.2h0M612.6 394.2h0M677.7 485h0M565.8 489.2h0M621.8 387.4h0M591.1 464.9h0M648.6 448.3h0M587.3 352.3h0M573.8 481.3h0M597.7 366.4h0M565.3 489.6h0M585.1 423.5h0M637.8 491.6h0M630.5 480.2h0M634.6 345h0M608.3 474.1h0M585.9 439.4h0M611.4 384h0M601.5 461.6h0M638 407.7h0M635.3 481.1h0M604.8 420.1h0M577.3 129.3h0M586.7 197h0M642 249.7h0M588 297h0M725 282.7h0M768.7 293.3h0M797.7 393h0M740.7 367h0M728 353.7h0M734.7 386h0M695 348.7h0M682 360.7h0M660.7 347.3h0"/>
<path fill="none" stroke="#141414" stroke-width="2.2" stroke-linejoin="round" d="M83.7 96.7V697.9H895.5M120.6 697.9v4.7M305.1 697.9v4.7M489.6 697.9v4.7M674.1 697.9v4.7M858.6 697.9v4.7M83.7 670.9h-4.7M83.7 533.8h-4.7M83.7 396.6h-4.7M83.7 259.4h-4.7M83.7 122.3h-4.7"/>
<g font-size="13.5" fill="#333" stroke="#333" stroke-width="0.2">
<text transform="translate(120.6 716.1) scale(1 1.05)" text-anchor="middle">-5.0</text>
<text transform="translate(305.1 716.1) scale(1 1.05)" text-anchor="middle">-2.5</text>
<text transform="translate(489.6 716.1) scale(1 1.05)" text-anchor="middle">0.0</text>
<text transform="translate(674.1 716.1) scale(1 1.05)" text-anchor="middle">2.5</text>
<text transform="translate(858.6 716.1) scale(1 1.05)" text-anchor="middle">5.0</text>
<text transform="translate(75.7 675.8) scale(1 1.05)" text-anchor="end">0</text>
<text transform="translate(75.7 538.6) scale(1 1.05)" text-anchor="end">1</text>
<text transform="translate(75.7 401.5) scale(1 1.05)" text-anchor="end">2</text>
<text transform="translate(75.7 264.3) scale(1 1.05)" text-anchor="end">3</text>
<text transform="translate(75.7 127.2) scale(1 1.05)" text-anchor="end">4</text>
</g>
<g stroke="#000" stroke-width="0.2">
<text transform="translate(489.6 735.45) scale(1 1.05)" font-size="17.3" text-anchor="middle">Log2(FC)</text>
<text transform="translate(61 395.8) rotate(-90) scale(1 1.05)" font-size="17.3" text-anchor="middle">FDR(BH adjust, -log10)</text>
<text transform="translate(490 111.76) scale(1 1.05)" font-size="20.1" text-anchor="middle">GSE52093</text>
<text transform="translate(194.4 128.55) scale(1 1.05)" font-size="17.3" text-anchor="middle">Down: 266</text>
<text transform="translate(784.8 128.55) scale(1 1.05)" font-size="17.3" text-anchor="middle">Up: 283</text>
<text transform="translate(922 357.95) scale(1 1.05)" font-size="17.3">Type</text>
<circle cx="935" cy="381.8" r="1.8" fill="#1fa37b" stroke="none"/>
<text transform="translate(956.8 386.75) scale(1 1.05)" font-size="13.7">Down</text>
<circle cx="935" cy="408.7" r="1.8" fill="#000000" stroke="none"/>
<text transform="translate(956.8 413.65) scale(1 1.05)" font-size="13.7">NS</text>
<circle cx="935" cy="436" r="1.8" fill="#f4511e" stroke="none"/>
<text transform="translate(956.8 440.95) scale(1 1.05)" font-size="13.7">Up</text>
</g>
</g>
<text x="489.6" y="735.15" font-size="17.3" text-anchor="middle">Log2(FC)</text>
<text transform="translate(61 395.8) rotate(-90)" font-size="17.3" text-anchor="middle">FDR(BH adjust, -log10)</text>
<text x="490" y="111.38" font-size="20" text-anchor="middle">GSE52093</text>
<text x="194.4" y="128.25" font-size="17.3" text-anchor="middle">Down: 266</text>
<text x="784.8" y="128.25" font-size="17.3" text-anchor="middle">Up: 283</text>
<text x="922" y="357.65" font-size="17.3">Type</text>
<circle cx="934.5" cy="381.8" r="1.8" fill="#1fa37b"/>
<text x="957" y="386.51" font-size="13.7">Down</text>
<circle cx="934.5" cy="408.7" r="1.8" fill="#000000"/>
<text x="957" y="413.41" font-size="13.7">NS</text>
<circle cx="934.5" cy="436" r="1.8" fill="#f4511e"/>
<text x="957" y="440.71" font-size="13.7">Up</text>
</g>
<g id="vB">
<path fill="none" stroke="#404040" stroke-width="2.9" stroke-linecap="round" stroke-dasharray="0.01 6.63" d="M428.2 1440.6V837.8M551.2 1440.6V837.8M83.7 1271.1H895.5"/>
<path fill="none" stroke="#000000" stroke-width="3.6" stroke-linecap="round" d="M519.2 1175.3h2M519.2 1176.3h2.5M520.2 1177.3h2.2M521 1178.3h1M516.2 1185.3h1M515.5 1186.3h2.2M515 1187.3h1.2M441.4 1197.3h1M530.5 1200.3h1.2M461.4 1201.3h1.8M460.9 1202.3h1.8M457.7 1205.3h1.5M456.2 1211.3h1.8M467.4 1216.3h2.2M514.2 1216.3h2.2M526.7 1216.3h0.8M466.9 1217.3h2M509.9 1217.3h1M512.5 1217.3h3.2M454.2 1218.3h1.2M467.2 1218.3h1.5M509.4 1218.3h4.2M437.9 1219.3h0.8M453.9 1219.3h2.8M460.9 1219.3h2.5M466.7 1219.3h2.5M509.4 1219.3h3.2M459.4 1220.3h3.5M469.2 1220.3h1M509.9 1220.3h2M458.7 1221.3h4.5M469.7 1221.3h1M509.7 1221.3h1.8M516.7 1221.3h1.2M537.7 1221.3h1.8M459.2 1222.3h4.8M469.9 1222.3h1M510.4 1222.3h1.5M516.2 1222.3h4M459.2 1223.3h3M464.4 1223.3h0.8M469.4 1223.3h1M511.7 1223.3h1M515.7 1223.3h4.2M449.7 1224.3h3.2M458.4 1224.3h2.8M466.9 1224.3h3.8M511.9 1224.3h8.5M449.9 1225.3h2M457.2 1225.3h2M467.4 1225.3h3.5M513 1225.3h3M517 1225.3h2.2M537.2 1225.3h1M449.4 1226.3h2M457.2 1226.3h0.8M467.7 1226.3h3.8M513.2 1226.3h1.5M468.2 1227.3h2.2M512.7 1227.3h1.5M467.7 1228.3h2.2M511.2 1228.3h3M436.7 1229.3h2.5M463.4 1229.3h1.8M466.2 1229.3h3.8M508.9 1229.3h5.5M435.9 1230.3h2M468.7 1230.3h1.8M507.7 1230.3h7.5M518.5 1230.3h1M531.2 1230.3h1.5M436.4 1231.3h1.2M469.9 1231.3h2.2M507.7 1231.3h10.5M530.7 1231.3h1.8M436.4 1232.3h1.2M508.2 1232.3h7.8M517.2 1232.3h0.8M531 1232.3h1.8M538 1232.3h1.8M435.7 1233.3h1M449.9 1233.3h2.2M508.4 1233.3h1.5M513.5 1233.3h1M526.2 1233.3h1.2M530.5 1233.3h1M538.2 1233.3h1.5M450.4 1234.3h1.2M463.2 1234.3h2.5M508.4 1234.3h0.8M526.5 1234.3h4.2M539.7 1234.3h0.8M431.2 1235.3h0.8M450.2 1235.3h1.8M462.7 1235.3h3.8M468.4 1235.3h0.8M507.9 1235.3h1.2M518.2 1235.3h0.8M526.7 1235.3h4M449.4 1236.3h3M462.2 1236.3h6.5M513.2 1236.3h2M517.5 1236.3h0.8M526.5 1236.3h2.8M451.4 1237.3h1.2M462.7 1237.3h2.5M468.4 1237.3h0.8M511.7 1237.3h6.2M525.5 1237.3h3M535 1237.3h1.2M462.7 1238.3h1.5M468.9 1238.3h2M511.2 1238.3h7.2M526.7 1238.3h1.5M534.5 1238.3h2.2M462.9 1239.3h0.8M468.7 1239.3h4.2M508.2 1239.3h11M527.2 1239.3h1.5M534 1239.3h2.5M462.4 1240.3h1.5M467.4 1240.3h6M509.2 1240.3h10.8M533.5 1240.3h3.5M460.7 1241.3h4.5M466.2 1241.3h9M509.4 1241.3h7.5M534.2 1241.3h3M451.9 1242.3h2.8M460.7 1242.3h10M473.2 1242.3h1M508.9 1242.3h7.5M535.2 1242.3h2M451.7 1243.3h5.5M460.2 1243.3h9.8M507.9 1243.3h8M525.5 1243.3h2M535.7 1243.3h2.2M453.2 1244.3h7M462.4 1244.3h7.5M506.4 1244.3h10M524 1244.3h3.5M535.2 1244.3h3.2M453.7 1245.3h5.5M463.4 1245.3h7.2M505.9 1245.3h5.5M514.5 1245.3h3.5M524.7 1245.3h3M532.5 1245.3h5.5M444.4 1246.3h1.5M455.2 1246.3h3.5M463.9 1246.3h5.8M504.4 1246.3h6.2M516 1246.3h3.5M525.2 1246.3h3.2M532 1246.3h5.8M443.2 1247.3h2.5M458.2 1247.3h0.8M464.2 1247.3h5M505.2 1247.3h5.5M516.5 1247.3h3.2M524.7 1247.3h3.8M532.5 1247.3h5.5M459.4 1248.3h0.8M463.9 1248.3h5.5M505.4 1248.3h6M516 1248.3h4.2M524.2 1248.3h3.5M533 1248.3h5.5M436.2 1249.3h1M459.7 1249.3h1.8M462.7 1249.3h7.5M472.2 1249.3h1.8M504.9 1249.3h8M514.5 1249.3h8.2M526.7 1249.3h1M532.7 1249.3h2.8M538.5 1249.3h5M436.7 1250.3h1M454.9 1250.3h0.8M459.2 1250.3h4.5M466.9 1250.3h7.2M504.4 1250.3h7.5M515.7 1250.3h3.8M527.2 1250.3h1M532.2 1250.3h2.8M539.2 1250.3h4M438.2 1251.3h1M441.2 1251.3h1M451.2 1251.3h3M455.2 1251.3h1.8M457.9 1251.3h5.2M467.4 1251.3h7.2M504.9 1251.3h6.5M516.2 1251.3h2M527.2 1251.3h2.2M530.5 1251.3h4.5M541.7 1251.3h0.8M438.7 1252.3h1M451.2 1252.3h1.8M456.7 1252.3h6.5M467.2 1252.3h8M505.2 1252.3h6.2M516.2 1252.3h1.8M526.7 1252.3h8.8M458.9 1253.3h5M465.9 1253.3h10M504.9 1253.3h7M516 1253.3h2.5M526.2 1253.3h7M537.7 1253.3h0.8M444.4 1254.3h2.5M448.2 1254.3h1.5M460.2 1254.3h15.2M504.4 1254.3h5.8M515.2 1254.3h5.8M525.5 1254.3h7M461.7 1255.3h12.5M503.9 1255.3h5M514 1255.3h7.5M525.5 1255.3h3.8M462.2 1256.3h11.5M503.9 1256.3h4.8M514 1256.3h8.5M524.7 1256.3h3.8M455.9 1257.3h1M463.2 1257.3h10.8M503.9 1257.3h4.5M513.5 1257.3h14.5M455.7 1258.3h3M464.2 1258.3h11M503.9 1258.3h4.8M513 1258.3h11M526 1258.3h2M434.4 1259.3h1.2M456.2 1259.3h3M464.4 1259.3h5M470.4 1259.3h5.2M503.4 1259.3h6M511.7 1259.3h11.2M526.7 1259.3h1.8M434.2 1260.3h2.2M443.4 1260.3h0.8M451.2 1260.3h1M456.2 1260.3h1.2M463.9 1260.3h4.2M471.7 1260.3h4.2M501.9 1260.3h20.8M527.2 1260.3h1.8M536.2 1260.3h1.5M435.4 1261.3h1M440.9 1261.3h2.5M450.7 1261.3h2.8M455.4 1261.3h1.5M462.7 1261.3h5.2M471.9 1261.3h4.5M502.4 1261.3h20.2M527.2 1261.3h1M536 1261.3h2.5M435.9 1262.3h1.2M440.4 1262.3h1.8M448.9 1262.3h8.2M462.2 1262.3h6.2M471.4 1262.3h5M502.7 1262.3h13.8M518.7 1262.3h4.8M526.7 1262.3h1M536.2 1262.3h3M436.2 1263.3h5.5M449.7 1263.3h8M462.2 1263.3h6M472.7 1263.3h4.2M502.9 1263.3h12.8M520 1263.3h8M436.7 1264.3h5M449.7 1264.3h9M461.4 1264.3h6.5M473.2 1264.3h5.2M502.4 1264.3h13M520.5 1264.3h4M525.5 1264.3h2.8M429.2 1265.3h0.8M437.7 1265.3h4.5M448.9 1265.3h19.2M472.9 1265.3h5M502.4 1265.3h13.5M520.2 1265.3h2.8M526.7 1265.3h1.5M535.5 1265.3h1M431.4 1266.3h1M438.2 1266.3h4.8M446.2 1266.3h23.2M471.9 1266.3h5.8M502.2 1266.3h15M519.5 1266.3h3M438.4 1267.3h3.2M446.7 1267.3h30.5M501.9 1267.3h20.8M438.4 1268.3h2.8M446.9 1268.3h30.8M501.7 1268.3h22M526.2 1268.3h1M448.7 1269.3h29.2M501.7 1269.3h17.2M522 1269.3h6M532 1269.3h1M536.5 1269.3h0.8M548 1269.3h0.8M435.9 1270.3h1.2M450.2 1270.3h28.2M501.4 1270.3h17M522.5 1270.3h6.8M531.2 1270.3h6.2M435.4 1271.3h1M450.9 1271.3h27.5M500.7 1271.3h18.2M525.2 1271.3h4.8M533 1271.3h4.5M433.2 1272.3h2.5M439.2 1272.3h1.2M450.9 1272.3h27M501.7 1272.3h19.2M525.7 1272.3h3.8M533.5 1272.3h3.5M432.9 1273.3h2.8M443.9 1273.3h1.8M450.4 1273.3h27.8M502.2 1273.3h18M526.2 1273.3h3.8M533 1273.3h4.2M444.4 1274.3h1M452.2 1274.3h27M501.9 1274.3h18M527 1274.3h11M452.7 1275.3h26.2M501.4 1275.3h19M527 1275.3h8M452.2 1276.3h26M500.9 1276.3h22M526.2 1276.3h7.5M421.9 1277.3h1.8M437.7 1277.3h1.2M449.2 1277.3h28.8M500.9 1277.3h32.5M581.7 1277.3h1M437.2 1278.3h1.2M448.7 1278.3h29.8M500.2 1278.3h16.8M522.7 1278.3h11.2M437.9 1279.3h0.8M447.2 1279.3h7.2M455.4 1279.3h24M500.7 1279.3h15.2M524 1279.3h11.2M552.7 1279.3h0.8M447.4 1280.3h5.8M456.7 1280.3h22.5M500.2 1280.3h15.5M524.5 1280.3h10.8M561.7 1280.3h1M424.2 1281.3h0.8M446.9 1281.3h6M457.2 1281.3h22.5M500.2 1281.3h16M524.2 1281.3h10.5M545.7 1281.3h1.2M415.9 1282.3h1M445.9 1282.3h7.5M456.7 1282.3h23.2M500.2 1282.3h19.2M523.7 1282.3h11.2M444.4 1283.3h15M460.7 1283.3h18.8M500.4 1283.3h35.2M433.9 1284.3h1.2M438.4 1284.3h1.5M444.7 1284.3h12.5M461.9 1284.3h17.8M500.2 1284.3h37M417.7 1285.3h0.8M420.7 1285.3h1.2M431.2 1285.3h1M447.4 1285.3h9.2M462.4 1285.3h17.2M500.4 1285.3h24.5M526.2 1285.3h11.2M420.9 1286.3h0.8M439.9 1286.3h1.2M448.2 1286.3h1.5M451.7 1286.3h4.8M462.4 1286.3h17.2M499.9 1286.3h23.8M529.7 1286.3h7M421.4 1287.3h0.8M448.2 1287.3h0.8M452.4 1287.3h4.2M461.9 1287.3h17.8M499.4 1287.3h24M530.2 1287.3h1.5M421.7 1288.3h1.2M447.4 1288.3h1.5M452.4 1288.3h4.8M460.7 1288.3h19.5M499.9 1288.3h24M530.5 1288.3h0.8M436.2 1289.3h2M445.2 1289.3h4.5M451.7 1289.3h28.2M500.2 1289.3h19.5M521.7 1289.3h3.5M541.2 1289.3h1.5M435.7 1290.3h3M444.9 1290.3h9.2M457.2 1290.3h22.8M500.2 1290.3h18.8M522.5 1290.3h4.2M541.7 1290.3h1.2M435.2 1291.3h4.5M446.2 1291.3h7.5M458.7 1291.3h21.5M499.7 1291.3h19.2M522.5 1291.3h4M534.7 1291.3h3M433.2 1292.3h6M446.7 1292.3h7.2M459.2 1292.3h20.5M498.7 1292.3h21M521.7 1292.3h4.5M537.7 1292.3h1.2M431.4 1293.3h2M435.7 1293.3h3.2M446.7 1293.3h7.2M458.9 1293.3h21M498.2 1293.3h27.5M538.2 1293.3h1.5M426.7 1294.3h0.8M437.4 1294.3h2M446.4 1294.3h5.8M458.4 1294.3h22.5M498.9 1294.3h27.2M532.7 1294.3h1M538.2 1294.3h2M405.7 1295.3h0.8M426.2 1295.3h0.8M437.9 1295.3h2.5M445.7 1295.3h5.2M457.7 1295.3h22.8M499.2 1295.3h34.2M539.5 1295.3h2.2M419.9 1296.3h1.2M437.9 1296.3h12.8M456.9 1296.3h23.5M498.7 1296.3h34.8M539.7 1296.3h2.2M418.7 1297.3h1M437.4 1297.3h13.8M454.4 1297.3h26M498.4 1297.3h33.2M433.2 1298.3h8.2M444.7 1298.3h1.2M448.9 1298.3h31.5M498.7 1298.3h18.8M520.5 1298.3h10M431.9 1299.3h1.8M435.2 1299.3h5.5M449.4 1299.3h31.5M498.9 1299.3h18M521 1299.3h8.5M534.5 1299.3h1.2M431.4 1300.3h1M436.4 1300.3h1.8M451.7 1300.3h29.8M498.7 1300.3h18.8M520.5 1300.3h8.5M534.2 1300.3h1.5M425.7 1301.3h1.2M436.7 1301.3h0.8M452.2 1301.3h28.8M498.4 1301.3h28.8M543.5 1301.3h2.2M422.2 1302.3h4M436.2 1302.3h0.8M451.9 1302.3h1M453.9 1302.3h26.8M498.2 1302.3h28.2M544 1302.3h0.8M422.4 1303.3h3.5M435.4 1303.3h0.8M456.2 1303.3h24.8M498.2 1303.3h28M422.2 1304.3h3.8M440.7 1304.3h1.8M447.9 1304.3h3.5M456.7 1304.3h24.8M498.4 1304.3h24.2M525 1304.3h1.5M422.7 1305.3h2M439.2 1305.3h4M445.2 1305.3h6.8M456.4 1305.3h25.5M497.9 1305.3h24M525.7 1305.3h0.8M422.4 1306.3h1.5M439.2 1306.3h12.8M458.9 1306.3h22.8M497.7 1306.3h24M438.7 1307.3h12.8M459.4 1307.3h22.5M497.7 1307.3h24.5M547.5 1307.3h2.8M551.2 1307.3h1.2M437.4 1308.3h14.2M459.2 1308.3h23.2M496.9 1308.3h26.5M525.5 1308.3h1M531 1308.3h1M540.2 1308.3h2.5M547.2 1308.3h3.5M437.9 1309.3h12.5M461.9 1309.3h20.2M497.4 1309.3h24.8M525.2 1309.3h2.5M529 1309.3h2.8M541 1309.3h4M546 1309.3h3M439.2 1310.3h11M454.9 1310.3h3.2M462.4 1310.3h19.2M497.7 1310.3h24M525.7 1310.3h1.8M529.5 1310.3h2.8M541 1310.3h3.2M545.5 1310.3h1.5M559 1310.3h0.8M440.4 1311.3h10.2M456.7 1311.3h1.8M462.2 1311.3h19.2M497.7 1311.3h24.5M525.2 1311.3h1.5M530.2 1311.3h0.8M540.7 1311.3h2.2M407.2 1312.3h0.8M433.2 1312.3h1.5M441.2 1312.3h9.8M458.9 1312.3h0.8M460.9 1312.3h21M497.2 1312.3h29.5M540 1312.3h2.8M562.7 1312.3h1M429.9 1313.3h4.2M441.4 1313.3h1.8M446.4 1313.3h4.8M459.4 1313.3h23M497.2 1313.3h30.2M529.5 1313.3h1.8M538.7 1313.3h4.5M431.2 1314.3h3.2M441.7 1314.3h1M446.9 1314.3h5.5M458.9 1314.3h1.5M462.4 1314.3h19.5M496.9 1314.3h33M537.2 1314.3h7.5M431.7 1315.3h4M441.2 1315.3h1.2M447.7 1315.3h7.5M458.2 1315.3h1.5M463.2 1315.3h19M496.7 1315.3h32.5M536.5 1315.3h2.2M539.7 1315.3h4.5M432.2 1316.3h10.5M447.9 1316.3h11.8M463.2 1316.3h19.5M496.9 1316.3h31.8M534.7 1316.3h2.8M541 1316.3h3.2M431.7 1317.3h5M447.7 1317.3h12.8M462.4 1317.3h20M497.4 1317.3h23.8M524.2 1317.3h4.8M534 1317.3h3M542.7 1317.3h1.2M433.7 1318.3h1.8M447.9 1318.3h34.2M497.4 1318.3h23.2M524.7 1318.3h5M533.7 1318.3h3.2M543.2 1318.3h1.2M434.2 1319.3h0.8M447.4 1319.3h4M452.4 1319.3h30M497.4 1319.3h23.5M524.5 1319.3h6.8M532.5 1319.3h4M543.5 1319.3h0.8M433.9 1320.3h1.2M438.9 1320.3h0.8M442.4 1320.3h0.8M446.9 1320.3h3.2M454.4 1320.3h28.2M496.9 1320.3h25.2M523.2 1320.3h13.5M573.7 1320.3h0.8M445.7 1321.3h4.2M454.9 1321.3h27.5M496.2 1321.3h35.2M534 1321.3h3.2M444.9 1322.3h5.5M455.7 1322.3h27M496.7 1322.3h33.5M534.7 1322.3h2.2M445.7 1323.3h5.8M455.9 1323.3h27.5M496.9 1323.3h33M534.7 1323.3h0.8M446.2 1324.3h6M455.4 1324.3h27.8M496.7 1324.3h33.8M446.4 1325.3h37M496.4 1325.3h34.2M445.9 1326.3h37.2M496.2 1326.3h34M443.9 1327.3h5.5M452.7 1327.3h30M495.9 1327.3h34.2M549.2 1327.3h1.2M444.9 1328.3h4M453.2 1328.3h29.5M495.4 1328.3h35M548.2 1328.3h1.2M424.7 1329.3h0.8M431.7 1329.3h3.2M445.2 1329.3h2.5M452.9 1329.3h29.8M495.7 1329.3h35.8M534.2 1329.3h0.8M432.2 1330.3h2.5M445.2 1330.3h1.2M451.7 1330.3h3M455.9 1330.3h27.2M496.2 1330.3h30M527.2 1330.3h3M534 1330.3h1.2M450.7 1331.3h2.8M457.2 1331.3h0.8M461.4 1331.3h21.8M495.9 1331.3h29M528.5 1331.3h1.5M437.9 1332.3h0.8M439.9 1332.3h1M442.2 1332.3h1.8M450.9 1332.3h2.2M462.2 1332.3h21.5M495.4 1332.3h29.2M528.7 1332.3h1M438.2 1333.3h3.2M450.4 1333.3h3.2M462.4 1333.3h20.8M495.4 1333.3h29.8M528.7 1333.3h1.2M437.9 1334.3h2.8M449.4 1334.3h7M461.9 1334.3h21.2M495.7 1334.3h30.2M433.9 1335.3h1.2M438.2 1335.3h2.2M445.2 1335.3h11.5M460.7 1335.3h22.5M495.7 1335.3h24.2M523 1335.3h2.8M530.5 1335.3h1.2M445.2 1336.3h12.8M458.9 1336.3h24.8M496.2 1336.3h23.2M523.5 1336.3h2.5M530 1336.3h2M444.7 1337.3h39.2M495.9 1337.3h23.2M523.7 1337.3h3.5M528.5 1337.3h3.8M444.2 1338.3h39.2M495.4 1338.3h24.2M523.5 1338.3h7.8M538.7 1338.3h0.8M445.4 1339.3h11.5M457.9 1339.3h25.5M495.2 1339.3h25.5M522.7 1339.3h3M527.7 1339.3h3.2M448.2 1340.3h7.5M459.2 1340.3h24.8M495.2 1340.3h29.5M528.5 1340.3h3M438.9 1341.3h1.5M448.9 1341.3h6.2M459.9 1341.3h24.5M495.4 1341.3h29M528.7 1341.3h8M430.4 1342.3h1.2M438.9 1342.3h2.8M448.9 1342.3h0.8M452.7 1342.3h2.5M460.4 1342.3h23.8M495.4 1342.3h29.5M528.2 1342.3h6.2M448.2 1343.3h0.8M453.7 1343.3h1.5M459.9 1343.3h24.5M495.2 1343.3h33M532 1343.3h1.8M442.4 1344.3h0.8M453.9 1344.3h1.2M459.4 1344.3h25M494.9 1344.3h32.8M532.5 1344.3h1M442.2 1345.3h1.8M453.4 1345.3h2.2M458.9 1345.3h25M494.7 1345.3h29M524.7 1345.3h3.2M532.2 1345.3h0.8M537 1345.3h2.2M434.4 1346.3h1M441.4 1346.3h1.8M448.9 1346.3h6.2M456.2 1346.3h27.8M495.2 1346.3h27.2M526 1346.3h2.5M531.7 1346.3h1M536.7 1346.3h2.8M413.7 1347.3h0.8M447.7 1347.3h6.2M457.4 1347.3h27.2M495.4 1347.3h26.5M526.5 1347.3h3M530.7 1347.3h2.5M537.5 1347.3h2.5M449.4 1348.3h4.2M457.7 1348.3h26.8M495.2 1348.3h26.5M532 1348.3h3M538.7 1348.3h2M542.7 1348.3h0.8M449.9 1349.3h2.2M457.7 1349.3h26.2M494.9 1349.3h27.2M532.2 1349.3h2.2M539 1349.3h4.8M449.7 1350.3h2M457.9 1350.3h26.2M494.7 1350.3h28.8M525 1350.3h1.2M531.7 1350.3h3M540.2 1350.3h1M444.2 1351.3h1.5M449.2 1351.3h2.5M457.4 1351.3h27.2M494.4 1351.3h32.2M529.7 1351.3h5.8M442.9 1352.3h9.2M455.4 1352.3h28.8M494.9 1352.3h41M445.2 1353.3h38.8M495.2 1353.3h39.2M431.9 1354.3h1.2M445.9 1354.3h38.5M494.9 1354.3h38.5M542.2 1354.3h0.8M429.2 1355.3h4.5M445.9 1355.3h39.2M495.2 1355.3h37.8M428.4 1356.3h3.8M445.2 1356.3h39.8M494.9 1356.3h38M538.7 1356.3h1.8M426.7 1357.3h4.5M444.7 1357.3h40.2M494.4 1357.3h39M538 1357.3h0.8M427.4 1358.3h3.2M444.2 1358.3h0.8M448.2 1358.3h37.2M494.2 1358.3h43.8M427.4 1359.3h3.2M443.4 1359.3h1M448.9 1359.3h36M494.2 1359.3h43.8M428.2 1360.3h3M443.9 1360.3h0.8M449.2 1360.3h35.8M494.2 1360.3h43.8M558.7 1360.3h1.8M428.7 1361.3h1M450.2 1361.3h35.2M494.4 1361.3h39.2M535.7 1361.3h2M548.5 1361.3h2.8M450.7 1362.3h34.5M494.7 1362.3h36.2M537 1362.3h1.2M450.2 1363.3h35.2M494.7 1363.3h35.5M537.7 1363.3h2.5M442.7 1364.3h1.8M448.7 1364.3h36.5M494.4 1364.3h35.8M541 1364.3h1.2M438.2 1365.3h1.8M441.9 1365.3h2M448.7 1365.3h4.8M456.4 1365.3h29M493.9 1365.3h37M433.9 1366.3h8.5M448.9 1366.3h4M457.4 1366.3h28M494.2 1366.3h38.5M434.2 1367.3h5.2M448.4 1367.3h4.8M457.9 1367.3h27.5M493.9 1367.3h37.5M535 1367.3h1.8M541 1367.3h1M445.9 1368.3h7.8M457.4 1368.3h28.2M493.9 1368.3h37.2M535.2 1368.3h1.8M540.5 1368.3h3.2M445.7 1369.3h9.2M455.9 1369.3h29.8M493.9 1369.3h34.8M530 1369.3h1.8M534.7 1369.3h3.2M444.4 1370.3h41M493.7 1370.3h33.8M531.2 1370.3h6.5M444.4 1371.3h2.2M449.7 1371.3h1.8M454.7 1371.3h31M493.4 1371.3h33.8M531.5 1371.3h2.5M536 1371.3h2.2M439.7 1372.3h0.8M444.7 1372.3h1.5M455.4 1372.3h30M493.7 1372.3h34M531 1372.3h2M536.7 1372.3h1.8M439.4 1373.3h1.5M455.9 1373.3h29.5M493.7 1373.3h39M538 1373.3h1M438.9 1374.3h3.2M455.7 1374.3h30M493.7 1374.3h32.2M528 1374.3h5.2M538.5 1374.3h1M438.7 1375.3h4.8M450.7 1375.3h1.2M455.2 1375.3h2.2M458.4 1375.3h27.2M493.2 1375.3h32M528.7 1375.3h4.8M538 1375.3h1.8M438.2 1376.3h5.8M448.4 1376.3h7.8M459.7 1376.3h26M493.7 1376.3h31.5M528.7 1376.3h5.2M438.9 1377.3h4.5M448.9 1377.3h7M459.9 1377.3h26M493.4 1377.3h32.5M528 1377.3h3.2M532.2 1377.3h4.5M439.7 1378.3h4M448.4 1378.3h8M459.4 1378.3h26.5M493.2 1378.3h36.8M533.5 1378.3h3.5M439.9 1379.3h4.5M447.2 1379.3h5.5M453.7 1379.3h32.5M492.9 1379.3h36.8M533.7 1379.3h1.8M439.7 1380.3h7.5M449.7 1380.3h1.8M454.9 1380.3h31.8M492.9 1380.3h36M533.2 1380.3h1M441.9 1381.3h1.5M455.2 1381.3h31.2M493.2 1381.3h34.5M531.2 1381.3h2.8M454.7 1382.3h31.8M492.9 1382.3h34.5M531.5 1382.3h3M454.4 1383.3h32.5M492.7 1383.3h34.5M453.9 1384.3h3.5M460.4 1384.3h26M492.9 1384.3h34M453.7 1385.3h3.2M460.9 1385.3h25.8M492.9 1385.3h33.8M453.2 1386.3h4.2M460.4 1386.3h26.5M492.7 1386.3h34.5M449.9 1387.3h36.8M492.7 1387.3h35.2M530.2 1387.3h0.8M449.4 1388.3h37.5M492.4 1388.3h39.5M449.4 1389.3h37.5M492.4 1389.3h35.8M530.2 1389.3h1M452.2 1390.3h34.8M492.4 1390.3h34M452.9 1391.3h34M492.2 1391.3h33.8M453.2 1392.3h34.2M491.9 1392.3h32.8M452.7 1393.3h34.8M492.2 1393.3h32.2M454.4 1394.3h33.2M491.9 1394.3h32.2M454.9 1395.3h33M491.9 1395.3h32.8M454.4 1396.3h33.2M491.7 1396.3h30.8M456.7 1397.3h30.8M491.7 1397.3h29.5M457.2 1398.3h30.5M491.7 1398.3h29M458.9 1399.3h29.2M491.2 1399.3h29.2M459.7 1400.3h61.2M460.4 1401.3h56M461.4 1402.3h54.5M462.2 1403.3h54M463.7 1404.3h53.2M465.7 1405.3h46.5M467.9 1406.3h1M470.2 1406.3h40M472.2 1407.3h37M474.4 1408.3h30.2M477.2 1409.3h26.5M480.2 1410.3h19M483.2 1411.3h13.2M485.2 1412.3h8M512.2 1236.7h0M540.7 1248.9h0M545.7 1236.8h0M441.3 1251.5h0M434.8 1273.5h0M445.7 1304.7h0M465.1 1237.5h0M556.8 1338.1h0M605.1 1300.6h0M539.8 1263.3h0M478.9 1270.8h0M515.6 1223.7h0M443.5 1265.9h0M438.5 1320.6h0M453 1319.6h0M551.4 1297h0M421.4 1277.7h0M536.8 1301.8h0M476.6 1261h0M536.4 1301.3h0M434.9 1307.3h0M518.9 1197.8h0M518.2 1233.1h0M530.4 1326.7h0M455.2 1161.1h0M525.8 1242.5h0M536.9 1357.7h0M447.4 1144h0M417.4 1302.7h0M419.5 1310.2h0M455.3 1217.4h0M371.9 1298.1h0M513.9 1192.8h0M521.9 1244.7h0M565.2 1314.4h0M423.2 1333.9h0M501.8 1267.1h0M462.7 1203h0M394 1280.3h0M464.8 1249.7h0M537 1221.1h0M522.5 1249h0M522.8 1307.5h0M554.1 1278.9h0M445.8 1339.6h0M534.3 1331h0M493.2 1378.2h0M549.9 1179.2h0M543.7 1300.6h0M536.1 1379h0M456.6 1211.7h0M430.6 1351.2h0M557.2 1318.6h0M538 1185.8h0M555.5 1283.3h0M384.5 1285.5h0M444.7 1276.2h0M452 1301.9h0M498.8 1291.8h0M444.2 1188.6h0M431.1 1262h0M506.6 1239.1h0M517.7 1199.5h0M420.7 1282.3h0M449.9 1232.9h0M405.3 1281.3h0M542.7 1297.1h0M463.3 1211.3h0M446.9 1192.8h0M531.7 1147.3h0M439.4 1372.6h0M497.1 1313.4h0M448.7 1254.1h0M535.3 1161.8h0M497.3 1318.1h0M445.4 1219.6h0M395.4 1300.6h0M569.7 1289.6h0M558.9 1360.9h0M424.8 1282.4h0M444.5 1290h0M358.3 1292.1h0M542.7 1354h0M446.8 1281.2h0M453 1191.3h0M529 1148.6h0M547.3 1328.9h0M509 1256.5h0M569.1 1304.2h0M485.9 1376.1h0M454.8 1184.8h0M449.6 1299.9h0M435 1250.6h0M487.2 1388.4h0M438.4 1324h0M453.2 1246.9h0M543.6 1275.3h0M549.9 1174.8h0M537.9 1245.7h0M494 1358.6h0M517.8 1226h0M482.7 1313h0M507.7 1237.9h0M548.7 1180.1h0M544.7 1265.8h0M617.4 1289.3h0M576.3 1324.3h0M537.9 1294h0M440.2 1283.9h0M445.9 1169.2h0M445.9 1324.1h0M557.1 1279.1h0M535.4 1328h0M534.1 1189.3h0M432.3 1292.4h0M519.5 1227.2h0M395.7 1300.2h0M517.3 1192h0M561.9 1308h0M450.8 1198.7h0M525.7 1205.8h0M492.5 1412.7h0M541.4 1201.1h0M426.5 1288.9h0M555.2 1356.5h0M475.4 1409.2h0M498.7 1299h0M485.8 1368h0M484.7 1343.9h0M559.5 1344h0M439.3 1342.7h0M562.8 1336.7h0M431.2 1321.5h0M552.7 1305.7h0M514.1 1200.5h0M426.2 1311.1h0M399.5 1282.3h0M546.5 1269.1h0M533.4 1297.6h0M416.7 1322.1h0M385.5 1294.6h0M525.7 1248.9h0M537.1 1266h0M562.3 1313.1h0M438 1317.4h0M438.4 1186.3h0M384.3 1304.5h0M582.7 1321.4h0M546.7 1334.4h0M466.1 1223.8h0M549.7 1360.8h0M537.4 1271.5h0M557.5 1359.7h0M419 1328.7h0M460.1 1193.6h0M556 1341.1h0M430.7 1343.5h0M517.4 1178.3h0M422.5 1351h0M533.3 1262.2h0M438.6 1335.5h0M470.5 1234.4h0M487.1 1391.6h0M536 1186.7h0M541.5 1234.9h0M536.6 1315.1h0M452.5 1370.8h0M556.2 1279.9h0M536.4 1133.5h0M422.3 1319.8h0M435 1346.5h0M530.4 1231h0M499.3 1287.6h0M429.9 1263.2h0M542 1297.6h0M458.3 1204.9h0M536.7 1197.2h0M557.2 1293.7h0M527.6 1382.6h0M496.4 1320.5h0M525.6 1237.1h0M465.4 1229.1h0M498.2 1296.5h0M459.9 1335.7h0M536.2 1304.4h0M445.1 1312.5h0M447.5 1220.4h0M439 1228.2h0M442.6 1314.7h0M539.4 1373.7h0M436.6 1212.3h0M435.3 1109.4h0M522.6 1183.2h0M447 1279.1h0M573.3 1318.2h0M470.5 1227.6h0M526.5 1153h0M443 1252.5h0M443.6 1301.8h0M449.1 1269.9h0M527.5 1285.9h0M423.4 1329.4h0M544.7 1245.1h0M610.5 1271.4h0M548.7 1376.7h0M433.2 1361.6h0M451.7 1393.8h0M548 1338h0M429.9 1166.6h0M626.9 1276.6h0M561 1305.3h0M445 1360.7h0M585.4 1330.3h0M483.1 1316.6h0M559.6 1286.2h0M544.5 1190.2h0M532.5 1189.7h0M431.4 1317.7h0M428.6 1242.7h0M440.7 1372.5h0M436.4 1368.8h0M535.9 1298.8h0M447.1 1230.6h0M418.7 1293.8h0M457.6 1205.7h0M425.7 1328.7h0M460 1401.2h0M572.9 1283.3h0M541.6 1307.6h0M462.4 1232.4h0M478.7 1409.6h0M426.6 1350.2h0M527.7 1389.5h0M567.5 1312.5h0M546 1323.2h0M549.1 1346h0M580.5 1292.7h0M553.5 1308.6h0M527.2 1289.4h0M455.2 1165h0M545.9 1232h0M457.7 1263h0M466.7 1219.6h0M421.3 1288.9h0M426.8 1373.7h0M550.9 1277.2h0M402 1294h0M460.9 1176.6h0M461.5 1331.5h0M512 1212.9h0M550.1 1260.4h0M522 1255.7h0M446.4 1251.1h0M539 1337.3h0M530.2 1318.5h0M428.5 1214.8h0M379.3 1293.2h0M534.6 1291.1h0M450.2 1247.6h0M429 1277.4h0M584.2 1321.1h0M520.4 1180.2h0M458.4 1309h0M525.1 1395.8h0M511.5 1232.5h0M561.9 1328.4h0M536.2 1333.7h0M450 1210.5h0M530.6 1212.2h0M438.2 1167.6h0M581.4 1277.1h0M548.4 1258.5h0M544.6 1345.2h0M519.1 1278h0M453.8 1241.7h0M530.6 1389.9h0M519.9 1193.4h0M549 1268.8h0M461.6 1235.7h0M374.2 1309.5h0M550.6 1323.4h0M413.4 1302.9h0M519.6 1187.6h0M430.1 1302.9h0M551.8 1339.4h0M422.2 1308h0M450.2 1224.2h0M450.2 1244.6h0M453.1 1218.6h0M445 1217h0M449.8 1246h0M460.6 1240.9h0M431.3 1373.6h0M417.2 1283.7h0M448.2 1211h0M460.9 1199.7h0M530.3 1303h0M442.3 1220.1h0M485 1359.6h0M527.8 1244.1h0M528.7 1343.1h0M538.4 1274.6h0M439.5 1287.6h0M548.6 1373.1h0M444.9 1215.8h0M461.8 1164.2h0M391.1 1295.9h0M448 1304h0M456.9 1238.3h0M543.1 1337.3h0M494.8 1344.1h0M526.4 1198.5h0M424.6 1296.9h0M448.6 1227.1h0M542.5 1179h0M560.4 1297.3h0M466.4 1223.2h0M526.9 1215.9h0M440.9 1295.5h0M557.5 1323.2h0M562.1 1279.3h0M525.7 1200.6h0M549.4 1326.5h0M534.3 1300.1h0M442.4 1247.4h0M439.9 1324.4h0M532.2 1321h0M536.6 1303.2h0M463.1 1194.3h0M458 1234.3h0M537.6 1268.6h0M404.4 1273.2h0M438.5 1279.8h0M536.5 1341.8h0M434.7 1334.9h0M445.2 1350.9h0M533.7 1365.1h0M441.3 1174.5h0M548.6 1306.7h0M534.6 1253h0M502.5 1261.8h0M519.8 1210.9h0M549.4 1156.7h0M517.3 1281.8h0M434.5 1268.3h0M578.5 1340.3h0M539.7 1307.3h0M514.7 1212.7h0M532 1335h0M429.5 1354.6h0M559.5 1314.3h0M538.3 1308.4h0M544 1349.6h0M558.8 1307.8h0M553.7 1345.1h0M533.4 1257.6h0M555.5 1275.8h0M521.1 1244.2h0M532.6 1244.8h0M542.8 1199.5h0M453.6 1185.8h0M482 1410.7h0M521.9 1215.4h0M440.1 1271.8h0M438.8 1244.3h0M574.1 1333.1h0M461.9 1287h0M583.6 1300.7h0M448.7 1303.8h0M541.4 1332.2h0M534.6 1269.5h0M407.5 1342h0M431.2 1357.6h0M437.6 1377h0M550.5 1297.4h0M574.9 1320.6h0M439.3 1206.2h0M448 1347.5h0M358.5 1304.4h0M517.1 1404.7h0M530.3 1331.5h0M532.9 1191.1h0M426.3 1314.5h0M529.4 1305h0M533.9 1237.4h0M415.8 1334.7h0M593.2 1316.1h0M497.9 1305h0M529.4 1246.8h0M536.4 1275.6h0M466.7 1206.2h0M454.8 1220.4h0M533.7 1374.5h0M574.4 1334h0M457.6 1398.9h0M441.8 1338.8h0M423.6 1354.9h0M536.9 1237.9h0M439.2 1152.2h0M528.1 1194.6h0M432.7 1260.5h0M584.1 1322.1h0M538.6 1166.4h0M526.4 1348.7h0M531.1 1382.9h0M545.6 1167h0M533 1305.9h0M420.9 1331.8h0M431.3 1286.9h0M441.9 1250.8h0M380.2 1298.9h0M443.4 1111.2h0M473.8 1243.4h0M560.9 1285.7h0M347.1 1310.8h0M448.3 1298.1h0M531.1 1210.6h0M445.1 1190.7h0M418.1 1356h0M548.2 1360.9h0M536.7 1287.8h0M528.4 1264h0M460.2 1254.4h0M528.2 1258.6h0M496.5 1324.1h0M539.4 1176.6h0M551.3 1354.4h0M404 1306.6h0M548.5 1278h0M459.7 1259.8h0M419.8 1291.5h0M548.8 1310.1h0M495.6 1334.6h0M479.8 1274.7h0M549.9 1174.9h0M437 1140.1h0M392.3 1314.4h0M575.9 1278h0M494.3 1362.7h0M582.5 1296h0M522 1229.4h0M445.6 1367.5h0M463.7 1200.2h0M543.9 1346.8h0M439.7 1304.2h0M521.4 1282.8h0M461.9 1403.2h0M449.7 1225.6h0M468.6 1406.6h0M525.7 1191h0M544.4 1286h0M521.2 1253.9h0M431.7 1256.5h0M451.7 1233.1h0M404.3 1272.8h0M458.1 1198.6h0M523.9 1231h0M550.2 1291h0M446.7 1347.5h0M427 1296h0M520 1164.9h0M454.1 1220h0M443.4 1243.5h0M443.8 1240.2h0M508.5 1227.2h0M467.5 1230.3h0M462 1284.5h0M545.3 1216.9h0M527.8 1266h0M464.8 1228.8h0M557 1330h0M583.9 1312h0M498 1303h0M558.4 1317.5h0M443.7 1285.5h0M474.4 1246.2h0M555.7 1311.6h0M426.4 1336.3h0M573.5 1309.8h0M482.1 1309.7h0M548.4 1322.8h0M448.3 1200.1h0M605.7 1306.3h0M440.2 1355.4h0M449.1 1388.7h0M438.2 1254.6h0M442.6 1223.9h0M400.7 1304.2h0M425 1332.9h0M453.9 1384h0M434.8 1305.7h0M453.6 1348.5h0M537.5 1289.7h0M439.7 1340.3h0M454.1 1193h0M439.3 1173.6h0M540.5 1264.6h0M442.5 1326h0M433.6 1354.5h0M459 1283.5h0M387.6 1289.6h0M441.3 1150.2h0M433.3 1183.8h0M367.4 1294.1h0M486.9 1386h0M518.9 1201.8h0M557.3 1296.3h0M474.3 1249.9h0M455.6 1184.5h0M555.2 1318.1h0M430.4 1253.7h0M539.5 1168.6h0M559.6 1357.3h0M513.4 1216.5h0M537.5 1174.5h0M544.1 1304.3h0M542.4 1367.5h0M534.6 1341h0M451.4 1198.5h0M433.8 1242h0M439.8 1245.6h0M461.9 1170.9h0M416.8 1366.1h0M527.3 1213.1h0M533.6 1258.4h0M543.4 1321.9h0M437.9 1367.5h0M447 1255.1h0M514.8 1233.1h0M551.9 1284.2h0M614.2 1303.5h0M386.7 1295.4h0M548.4 1340.6h0M416.3 1281.8h0M442.6 1242.3h0M546.6 1164h0M438.8 1364.4h0M541 1221.2h0M528.8 1259.6h0M429.2 1347.5h0M574.9 1340.9h0M561.4 1281.3h0M437.7 1332.7h0M536 1253.2h0M485.8 1370.9h0M549 1201.3h0M554.6 1271.2h0M442.7 1198.7h0M520.3 1240.8h0M575.3 1285.6h0M595.2 1311.4h0M459.2 1233.5h0M455.4 1166.1h0M533.1 1212.2h0M571.2 1324.2h0M423.6 1279.7h0M444.7 1337.2h0M552.2 1347.8h0M598.1 1289.1h0M571.3 1300.8h0M461.9 1174.4h0M493.5 1371.1h0M436.5 1288.6h0M569.9 1315.7h0M478.3 1268.9h0M519.7 1182.1h0M442.8 1332.1h0M443.5 1236h0M430.2 1211.7h0M548.8 1327.6h0M485.8 1375h0M546.6 1310.9h0M538.7 1325.2h0M444.7 1277.9h0M426.9 1301.5h0M444.5 1350.3h0M619.2 1291.1h0M455.6 1197.9h0M545.4 1250.3h0M553.8 1312h0M448 1222.7h0M433.3 1164.3h0M466.6 1216.9h0M434.8 1343.2h0M453.6 1229.9h0M522.7 1278.6h0M524.8 1262.8h0M507.8 1407.7h0M544.8 1331.8h0M530.4 1202.2h0M514.8 1206.1h0M546.9 1290.7h0M495.3 1342.7h0M437.5 1331h0M493.6 1371.9h0M382.6 1290.8h0M434.3 1330.8h0M454.9 1321.7h0M435.9 1279h0M506.8 1408.2h0M454.1 1186.2h0M437.8 1276.9h0M520.7 1399.5h0M551.8 1324.7h0M431.1 1197.2h0M568.4 1309.4h0M443.6 1195.9h0M548.5 1333.3h0M416.5 1277.5h0M444.2 1173.2h0M461.4 1402.5h0M442.8 1302.9h0M575.9 1295.8h0M532.4 1340.7h0M527.2 1384.2h0M435 1293.1h0M516.1 1189.2h0M452.8 1253.5h0M394.8 1312.2h0M390.7 1317.6h0M519.7 1161.3h0M456 1224h0M552.1 1340.3h0M432.3 1330.5h0M457.3 1332.7h0M544.8 1303.6h0M438.8 1203.7h0M442.8 1363.7h0M585 1306.5h0M455.3 1344.1h0M540.7 1351.5h0M402.1 1275.1h0M580.3 1331.3h0M435.2 1216.9h0M454.8 1203.9h0M433 1228.4h0M480.6 1297.8h0M529.9 1308.8h0M458.9 1191.4h0M358.7 1278.3h0M491.2 1413.2h0M492.6 1389.7h0M445.7 1249.7h0M411.1 1289.2h0M523.6 1265.2h0M428.9 1289.6h0M531.7 1290.4h0M550.8 1297.9h0M542.8 1301.9h0M543.8 1371.5h0M541.5 1159.3h0M533.6 1257h0M541.1 1369.1h0M508.1 1215.2h0M604.3 1278.7h0M431.6 1351.2h0M538.8 1363.7h0M444.6 1245.5h0M439.3 1380.9h0M573.8 1316.1h0M434.8 1221h0M430.8 1361.1h0M451.8 1199.4h0M401.7 1335.1h0M557.9 1297.1h0M449.9 1330h0M402.3 1293.8h0M454.4 1333.8h0M453.3 1250.8h0M493 1381.5h0M419.5 1324.5h0M543 1221.4h0M432 1232.9h0M520.7 1221.5h0M531.4 1313.6h0M481.2 1410.8h0M430.5 1348.8h0M573.8 1327.6h0M550.2 1238.8h0M495.2 1347.1h0M496 1326h0M483 1328.8h0M533.4 1370h0M455.6 1373.1h0M462 1216.4h0M542.6 1266.8h0M548.8 1271.2h0M454.5 1302.6h0M451.5 1323.1h0M487.9 1398.7h0M434.5 1245.2h0M443.8 1282.4h0M407.3 1312.2h0M532.6 1362h0M523.4 1217.1h0M422.2 1295h0M434.1 1212.9h0M432.4 1353.2h0M541.8 1295h0M577 1303.5h0M536.9 1352.2h0M446.9 1245.3h0M415.6 1355.6h0M494.9 1348.8h0M460.6 1199.8h0M524.5 1395.9h0M522.2 1316.8h0M417.1 1286h0M546.3 1336h0M432.5 1300.6h0M434.9 1364.7h0M517.9 1194.5h0M541.5 1273.8h0M564.5 1303.2h0M427.8 1365.6h0M535.9 1145.6h0M546.8 1295.6h0M442 1279.3h0M521 1401.4h0M454 1237.2h0M549.4 1284.3h0M419.5 1271.3h0M404.1 1333.4h0M584.7 1278h0M532.1 1250.1h0M502.2 1264.8h0M427.5 1285h0M557.4 1349h0M411.8 1343h0M530.3 1379.9h0M540.9 1212.8h0M549.8 1330.8h0M462.4 1238h0M431.3 1216h0M447.1 1385.2h0M425.7 1331.6h0M417.7 1284.2h0M438.8 1182.8h0M522.8 1176.9h0M504 1249.9h0M427.8 1318.6h0M518.9 1238.5h0M542.9 1288.7h0M534.6 1382.6h0M561.8 1353.8h0M443.3 1178.2h0M434.6 1258.6h0M495.1 1332.9h0M412.8 1290.4h0M483.2 1331.1h0M427.7 1370.2h0M451.2 1166.7h0M517.1 1220.5h0M446.7 1214.3h0M431.6 1230.2h0M511.2 1238h0M541.9 1354.7h0M382.8 1279.7h0M563 1280h0M538 1154.5h0M580.5 1281.3h0M538.5 1382.8h0M433.5 1335.6h0M532 1268.3h0M541.7 1145.6h0M402.1 1342.3h0M532.1 1345.1h0M444.8 1322.7h0M529.5 1260.4h0M455.5 1342.9h0M417.6 1289h0M547.8 1221.4h0M449.2 1360.5h0M466.5 1406.1h0M426.9 1347.4h0M580.7 1301.7h0M526.7 1265.7h0M429.5 1313h0M416.6 1304h0M455.4 1352.1h0M445.4 1270.5h0M436.8 1229.1h0M544.5 1240.5h0M461.5 1195.1h0M379.4 1307.6h0M423.1 1301.5h0M443.6 1386.9h0M487.6 1397.9h0M522.1 1347.1h0M488.7 1413.4h0M566.7 1277.7h0M576.5 1316.4h0M592.6 1279.8h0M566.9 1346.3h0M549.7 1330.2h0M456.9 1226.9h0M439 1305.7h0M578.9 1342.6h0M503.6 1256.9h0M494.9 1355.7h0M440.4 1311.5h0M522.8 1149.3h0M536.9 1376h0M536.4 1345.5h0M529.9 1347h0M420.1 1354.7h0M534.1 1300.6h0M440.4 1337.5h0M443.8 1345.8h0M458.6 1345.6h0M431.8 1293.9h0M520.2 1204.4h0M549.6 1195.1h0M494.6 1350.8h0M542.9 1318.8h0M536.7 1283.7h0M546.6 1313.6h0M539.9 1292.2h0M527.2 1232.9h0M444.1 1388.9h0M436.9 1283.3h0M409.4 1279.8h0M541.6 1227.9h0M548 1282.6h0M551.7 1360.5h0M471.4 1231.7h0M512.7 1254h0M546 1236h0M444.2 1334h0M512.4 1222.8h0M418.4 1317.3h0M540.6 1159.7h0M523.3 1205.9h0M434.1 1346.1h0M406.6 1319.2h0M461.8 1207.4h0M421 1338.6h0M422.2 1284.8h0M482.1 1304.8h0M468.6 1238.1h0M508.2 1232.8h0M408.8 1307.3h0M521.9 1179.1h0M534.4 1265.8h0M456.4 1365.6h0M469.8 1234.7h0M515.8 1405.3h0M545.5 1318.9h0M545.9 1358.2h0M419.4 1336.7h0M520.9 1235.6h0M529.6 1299h0M416.4 1300.1h0M549.7 1274.9h0M539.3 1223h0M431.7 1312.5h0M446.4 1269.2h0M443.8 1298.1h0M504.4 1250.5h0M547.9 1301h0M450.1 1233.6h0M436 1361.5h0M516 1251.2h0M494.2 1357.9h0M548.8 1207.7h0M446.7 1238.5h0M580 1286.8h0M448.8 1161.2h0M448.4 1150.4h0M509.3 1407.6h0M414.7 1297.6h0M518.2 1240.5h0M378.5 1271.9h0M494.7 1412h0M538.1 1359.9h0M516.4 1203.9h0M531.7 1387.9h0M558.2 1306.6h0M433.7 1279.1h0M544.4 1315.9h0M425.5 1290.2h0M431.3 1369.6h0M541.8 1100.5h0M551 1240.1h0M514.5 1227.7h0M431 1144.2h0M563.4 1350.1h0M456.2 1196.5h0M429.2 1103.8h0M431.7 1267.1h0M504.1 1242.3h0M573.6 1296.1h0M464.1 1200.7h0M532.5 1240.8h0M430.7 1370.1h0M484.3 1336.7h0M541.2 1341.7h0M537.3 1240.7h0M422.2 1344h0M545.4 1273.7h0M457.7 1193.4h0M515.9 1215.8h0M520 1338.6h0M542.9 1268.3h0M443.4 1247.6h0M538.6 1225.9h0M525.4 1272.2h0M530.1 1199.8h0M580.9 1327.1h0M556.6 1301.5h0M437.4 1315.1h0M433.5 1238.8h0M562.4 1318.2h0M537.6 1303.5h0M531.9 1221.5h0M449.3 1254.9h0M448.1 1173.2h0M472.1 1238.6h0M449.4 1334h0M529.9 1287h0M428.4 1270.9h0M532.7 1336.9h0M576.3 1338h0M491.8 1395.6h0M525.6 1153.8h0M430.2 1313.8h0M536.5 1361.8h0M555.6 1305.4h0M504.2 1408.8h0M540.7 1270.7h0M534.6 1357.8h0M547.8 1294.6h0M459.3 1340.6h0M526 1346.4h0M536.6 1279h0M440.9 1316.7h0M470.1 1219.7h0M421.3 1296.6h0M398.2 1307h0M537.4 1323.4h0M561.7 1347.3h0M438.3 1218.5h0M542.7 1274.1h0M616.9 1272.7h0M437.8 1204h0M596.6 1320.1h0M432.4 1205.2h0M540.2 1381.9h0M443.3 1370.3h0M573.5 1304h0M577.3 1294.6h0M429.4 1292.8h0M380.6 1318h0M518 1183.3h0M528.5 1348.1h0M451.1 1311.4h0M596.3 1321.2h0M566.2 1339.1h0M450.2 1148.2h0M456.8 1236.2h0M451.2 1210.6h0M538 1379.3h0M427.1 1323.3h0M429.7 1312h0M503.8 1254.8h0M435.5 1249.5h0M456 1164.9h0M533.8 1294.7h0M455.5 1309.4h0M497 1312.6h0M520.5 1189.9h0M451 1241h0M426.8 1280h0M539.4 1162.5h0M537.2 1335.4h0M533.4 1266.2h0M544 1378.4h0M526.7 1209.5h0M519.4 1401.4h0M529.2 1301h0M469.8 1246.5h0M566.7 1286.5h0M537.2 1307.5h0M396.3 1307.5h0M389.6 1328.4h0M423.4 1280.7h0M577.9 1313.6h0M549.7 1351.4h0M580.3 1291.1h0M558.5 1310.7h0M537.2 1317.7h0M513.2 1236h0M446.2 1381.1h0M445.3 1258.7h0M455.8 1215.1h0M391.7 1333.9h0M541.2 1230.7h0M543 1322.7h0M463.8 1219h0M501.6 1410.2h0M534.3 1286.5h0M433.7 1361.1h0M437.4 1185h0M450.4 1217.3h0M464.1 1172.9h0M417 1309.6h0M444.3 1373.6h0M525.8 1335h0M431.2 1270.6h0M442.3 1369.9h0M478.9 1264.2h0M435.2 1303.8h0M442 1263.1h0M500.3 1271.5h0M549.4 1286.5h0M566.7 1345.1h0M507 1235.9h0M595.6 1312.8h0M546.5 1282.4h0M439.5 1371.5h0M548.8 1263.4h0M447 1384.5h0M440.5 1328.5h0M554.1 1300.4h0M532.3 1308h0M337.9 1280.9h0M436.6 1264.8h0M519.5 1282.1h0M420 1285.8h0M426.1 1292.5h0M372.5 1324.9h0M446.1 1177.4h0M437.9 1247.3h0M458.1 1315h0M447.2 1146.5h0M557.8 1289h0M424.8 1273.8h0M408.5 1314.9h0M537.3 1205h0M457.5 1219.5h0M446.2 1331.1h0M446.7 1343.7h0M536 1260h0M447.8 1241.9h0M487.7 1393h0M511.1 1259.5h0M548.2 1255.9h0M535.4 1330.6h0M419.8 1323h0M446.8 1351.8h0M534.9 1387.9h0M530.1 1372.9h0M433.1 1342.6h0M446.1 1274.1h0M454.3 1250.6h0M571.6 1352.7h0M423.6 1289.4h0M548.7 1286h0M449.8 1386.6h0M495.2 1328.1h0M442.3 1209.1h0M444.3 1332h0M449.9 1253.6h0M446.4 1265.2h0M501.5 1260h0M368.6 1295.6h0M443.5 1326.9h0M491.7 1393.9h0M433.2 1236.6h0M531.6 1200h0M439.6 1291.4h0M469.4 1221.1h0M419.6 1349.5h0M544.5 1356h0M444.1 1349.2h0M468.9 1234.7h0M480.9 1302.6h0M419.3 1298.6h0M439.2 1274.1h0M543.3 1248.5h0M519 1282h0M534.9 1281h0M444.9 1329.8h0M431.7 1203h0M474.1 1248.1h0M513.4 1245.2h0M535.1 1184.1h0M520.3 1230h0M524.4 1288.6h0M523 1225.3h0M541 1150.7h0M523.4 1190.7h0M462.5 1207h0M545.2 1178.1h0M519.9 1247.7h0M537.1 1268.8h0M540.3 1145.1h0M483.6 1325h0M441.1 1315h0M494.4 1363.1h0M542.8 1354.1h0M585.7 1279.4h0M440.4 1338.1h0M493.6 1369.6h0M435.7 1321.1h0M428.7 1237.1h0M529.7 1315h0M453.7 1207h0M440.7 1335.9h0M448.2 1221.5h0M522.8 1239.8h0M381 1304.5h0M461.7 1218.2h0M456.3 1333.7h0M439.6 1367.6h0M485.8 1373.7h0M440.3 1355.5h0M458.4 1306.1h0M447.5 1176.3h0M356.8 1271.5h0M531.7 1389h0M450.5 1257.4h0M487.9 1395.1h0M442.1 1352.3h0M618.1 1287.3h0M530.1 1182.2h0M413.7 1329.3h0M573.3 1338.3h0M452.4 1232.8h0M539.9 1312.1h0M402.1 1325.3h0M408.6 1310.1h0M445.1 1339h0M564.4 1282.5h0M535.8 1347.6h0M513.3 1200h0M555 1298.3h0M431.5 1243.9h0M447.5 1317h0M536.5 1264h0M533.8 1227.7h0M391.7 1330.1h0M539.2 1355.1h0M538.4 1165.3h0M435.6 1262.7h0M555 1319.8h0M450.6 1326.8h0M589.7 1324.1h0M532.8 1229.8h0M450.6 1215.2h0M451.6 1237.7h0M545.3 1280.9h0M552.2 1280.4h0M404.8 1335.8h0M575.9 1277.8h0M546.7 1253.7h0M582.1 1276.2h0M541 1141.3h0M432.1 1275.2h0M431.8 1228.4h0M437.3 1259.1h0M445 1344.3h0M428.4 1259.5h0M459.5 1378h0M539.4 1251.3h0M446.3 1273.5h0M438.6 1223.4h0M440.7 1355.1h0M544.1 1153.5h0M549.4 1318.6h0M387.9 1295.9h0M494.9 1412.1h0M421.4 1346.7h0M456.5 1305h0M484.7 1412h0M433.3 1207.5h0M535 1353.1h0M522.7 1237.8h0M538.5 1284.9h0M625 1286.6h0M458.9 1330.7h0M517.6 1215.7h0M480.7 1295.9h0M443.5 1358.8h0M533.8 1316.2h0M433.4 1331h0M543.9 1263h0M566.1 1361.8h0M464 1405.1h0M559.1 1331.5h0M548 1328.7h0M458.7 1188.8h0M472.5 1226.8h0M450.3 1193.1h0M436.8 1311.6h0M531.9 1161.6h0M420.5 1295.5h0M446.5 1181h0M536.4 1108.9h0M457.6 1209.8h0M472.2 1407.6h0M524.3 1156.4h0M535.1 1311.4h0M454.4 1292.9h0M407.5 1311.7h0M504.8 1253.7h0M547.2 1306.2h0M538.3 1260.5h0M534.4 1293h0M520.5 1181.8h0M489.6 1413.4h0M457.2 1167.1h0M454.7 1229.6h0M466.2 1204.6h0M537.8 1376h0M440.3 1384.6h0M532.8 1220.7h0M526.7 1190.7h0M532.8 1329.3h0M497.4 1411h0M435.6 1376.6h0M493.5 1373.6h0M487 1386.8h0M511.7 1405.7h0M450.2 1380.7h0M528.1 1242h0M436.1 1354.5h0M459.2 1289h0M495.1 1340.6h0M501.1 1271.1h0M461.2 1308.9h0M517.9 1230.5h0M494.3 1351.7h0M500.2 1285.6h0M483.4 1333.8h0M518.9 1174.7h0M453.3 1294.4h0M529.8 1205.6h0M539.2 1243.9h0M543.3 1372.2h0M556.9 1328.9h0M485.6 1371.8h0M448.2 1380h0M434.3 1282.6h0M398.9 1303.6h0M540.2 1376.1h0M434.3 1367.5h0M410.1 1284.7h0M535.9 1236.5h0M462.3 1228.4h0M507 1230.7h0M449.6 1261.7h0M419.9 1355.8h0M389.9 1299h0M442.9 1319.8h0M501.5 1269.1h0M415 1347.1h0M403.9 1321.8h0M442.8 1252.1h0M538.8 1349.7h0M445.4 1274.6h0M561.5 1314.6h0M545.8 1380.9h0M449.9 1226.6h0M442.9 1382.2h0M566.5 1277h0M457.1 1290.5h0M443.6 1255.9h0M482.4 1319.1h0M439.3 1235.7h0M578.5 1314.7h0M546.9 1232.9h0M422.9 1333.7h0M534 1233.2h0M538 1233.7h0M462.2 1256.9h0M404 1286.1h0M421.9 1274.8h0M589.3 1290.3h0M543.3 1290.5h0M541.3 1185.7h0M464 1213h0M435.4 1345.9h0M541.3 1331.3h0M499.4 1287h0M458.7 1257.5h0M529.8 1351h0M581.4 1279.4h0M415.7 1292.7h0M425 1318.1h0M565.5 1300.6h0M445.5 1363.7h0M515.5 1186h0M436.1 1219.1h0M591.1 1282.3h0M495.6 1331.9h0M520.5 1250.4h0M537.1 1253.2h0M448.3 1344.1h0M452.3 1260.1h0M426.5 1294.4h0M442.9 1273.5h0M444.8 1235.5h0M543 1241.6h0M524.5 1181.8h0M543.2 1347.8h0M543.6 1261.2h0M436.5 1351.1h0M471 1224.6h0M464.8 1206.3h0M533.2 1324.9h0M422.7 1287.5h0M549.7 1068.8h0M575.1 1278.3h0M554.3 1314h0M455.3 1211.2h0M433.9 1320.1h0M537.8 1213.5h0M435 1097.9h0M492.5 1386.7h0M394.2 1335.6h0M410.1 1297.6h0M436.7 1234.8h0M559.5 1275.7h0M541.6 1365h0M461.2 1224.6h0M421.9 1303.9h0M452 1234.8h0M549.4 1353.4h0M591.4 1335.5h0M453.7 1282.5h0M444.2 1366.2h0M448 1145h0M413.4 1347.9h0M436.1 1370.4h0M418.1 1281h0M450.2 1389.8h0M454.8 1375.5h0M479.1 1278.7h0M558.6 1332.6h0M439.5 1276.7h0M540.2 1204.1h0M544.3 1254.5h0M440.4 1217.7h0M538.5 1249.5h0M424.1 1277.1h0M444.9 1232.6h0M450.2 1345.9h0M579.4 1288.2h0M434.2 1320.6h0M434.9 1285.9h0M453.5 1209.3h0M438.1 1266.9h0M553.3 1291.2h0M451 1374.7h0M534.1 1126.3h0M480 1285.8h0M385.1 1286.2h0M433 1200.1h0M577.1 1298h0M532.5 1170.2h0M435 1382.2h0M430.9 1299.3h0M522.5 1349.6h0M582.3 1302.2h0M500.1 1282.5h0M546.3 1252.3h0M449.7 1206.5h0M441.9 1354.4h0M447.2 1373.7h0M551.2 1314.3h0M548.9 1362.5h0M578.6 1311.5h0M423.4 1318.3h0M449 1276.6h0M431.6 1234.4h0M465.8 1233.3h0M547.9 1082.9h0M339.6 1298.3h0M436.7 1324.1h0M566.9 1309.2h0M498 1302h0M493.5 1376.9h0M537.1 1229.4h0M456.2 1242.6h0M550.5 1273.5h0M486.6 1384.8h0M524.1 1227.3h0M527.6 1197h0M428.2 1182.3h0M537.1 1339.5h0M449.3 1195.2h0M543.2 1215.2h0M519.8 1189.7h0M523.3 1210.1h0M420.6 1291.3h0M487.8 1395.9h0M480.4 1281.7h0M484 1340h0M445.1 1254.2h0M384.3 1301.2h0M512.9 1249.8h0M608.8 1322.1h0M553.3 1278.9h0M537.2 1363.1h0M472 1238.2h0M552.3 1363.2h0M444.5 1200.8h0M411.3 1340.2h0M566.6 1332h0M593.9 1300.4h0M534.7 1241.7h0M515.6 1211h0M509.6 1220.1h0M442.5 1347h0M431.2 1190.3h0M573.7 1310.9h0M455.4 1307.2h0M546.5 1300.4h0M476.2 1258.4h0M615.8 1310.3h0M553 1273h0M470.1 1232h0M433.6 1296.5h0M527.4 1223.4h0M599.1 1287.7h0M445.9 1247.6h0M393.7 1274.3h0M587.7 1308.8h0M435.6 1178.2h0M412.5 1319.2h0M485.7 1366.5h0M388.3 1274.1h0M399.5 1342.2h0M577.8 1325.7h0M373.1 1286.5h0M492.5 1388.5h0M457.4 1348.8h0M517.6 1220.8h0M492 1391.6h0M513.6 1206.3h0M511.1 1254.3h0M438.7 1250.9h0M516.2 1221.8h0M527.2 1260.9h0M427.7 1279.4h0M414.2 1342.8h0M550.8 1315.5h0M415.4 1282.6h0M392.2 1311.2h0M467.5 1225.7h0M537.7 1342.3h0M563.2 1344.8h0M512.5 1219.8h0M432.2 1360.9h0M541 1277.5h0M445.6 1301.1h0M429 1240.2h0M446.6 1293.2h0M540.5 1332.3h0M574.1 1308.1h0M540.3 1357h0M509.3 1222.3h0M528 1165.2h0M559.8 1299.8h0M422.1 1301h0M437.4 1303.3h0M439.6 1300h0M523.8 1217.2h0M550.9 1243.3h0M536.9 1225.1h0M431.1 1235.1h0M482.9 1320.6h0M452 1227.7h0M413.2 1344.9h0M539.5 1296.7h0M518.8 1214.8h0M443.7 1295.4h0M496.5 1315.7h0M455.4 1258.1h0M408 1309.8h0M451.9 1223h0M446.8 1357.8h0M441.1 1304.2h0M453 1176.1h0M452 1323.8h0M543.4 1369h0M455.7 1340.6h0M434.6 1312.6h0M434.6 1337.3h0M521 1277.4h0M461.3 1261.2h0M531.4 1243.2h0M540 1285.2h0M443.9 1318.2h0M414.6 1305.1h0M435.9 1361.4h0M451.5 1381.6h0M429.4 1250.7h0M454.2 1314.9h0M424.1 1284.2h0M530.9 1342.9h0M542.1 1251.9h0M432.6 1278.7h0M426.1 1321.6h0M432.4 1266.1h0M541.8 1249h0M352.1 1293.1h0M400.7 1284h0M457.1 1242.9h0M500 1280.8h0M566.7 1347.2h0M523.9 1185.1h0M436.4 1347.3h0M630.9 1277.2h0M534.7 1324h0M546.6 1280.8h0M535.2 1251.5h0M610.1 1291.3h0M491.5 1396.8h0M538.7 1193.6h0M550.8 1343.8h0M500.2 1289.4h0M543 1324.4h0M551.1 1291.8h0M527 1304.9h0M452.1 1188.5h0M426.7 1356.7h0M426.1 1285.6h0M442 1174.6h0M451.3 1216.2h0M463.5 1229h0M404.5 1296.3h0M433.9 1166.2h0M435.3 1302.8h0M453.3 1397.6h0M406.5 1292.3h0M536.6 1231.1h0M562.8 1312.1h0M521.3 1174.7h0M435.1 1328.9h0M493.9 1360.1h0M523.3 1238h0M395.9 1297.3h0M458.1 1221h0M428.3 1362.8h0M511.8 1248.5h0M515.7 1264.6h0M438.4 1374.5h0M452 1181.1h0M580.3 1336.9h0M513.5 1197.9h0M434 1311.4h0M587.8 1273.9h0M431.1 1301.3h0M409.4 1313.7h0M524.4 1393.7h0M534.6 1331.4h0M522 1165.6h0M443.3 1260.1h0M589.4 1283.8h0M542.4 1214h0M476.4 1254.3h0M535.4 1351h0M540.3 1274.3h0M537.3 1366.4h0M522.3 1250h0M376 1288.7h0M549.4 1244.8h0M432.7 1104.9h0M543 1254.2h0M598.4 1292.7h0M451.7 1350.8h0M542.2 1349.9h0M533.7 1295.8h0M352.6 1304.9h0M532.9 1164.6h0M533.4 1354.6h0M519 1404.4h0M432.6 1285.1h0M438.3 1232.1h0M441.6 1281.9h0M356.7 1297.5h0M435.1 1339.7h0M438.4 1219.8h0M450.7 1250.4h0M438.1 1246.9h0M470.7 1220.9h0M428.3 1278.8h0M459.4 1343.9h0M538.4 1371.8h0M493 1384.7h0M425.6 1339.8h0M537.4 1321.1h0M428.1 1327.6h0M559.7 1332.1h0M453.4 1385.6h0M557.7 1292.6h0M408.1 1287.9h0M447.4 1143.4h0M445.5 1223.2h0M451 1381.6h0M578.6 1307.5h0M452.9 1345.5h0M406.1 1304.5h0M508.9 1218.7h0M469.8 1215.8h0M547.6 1298.2h0M425.1 1325.5h0M493.7 1367.8h0M525.9 1209.1h0M491.8 1398.1h0M515.2 1182.5h0M558.9 1275.5h0M542.2 1288.6h0M564.2 1311.1h0M453.6 1224.4h0M533.8 1286.7h0M527.1 1285.9h0M523.5 1232.6h0M411.5 1300.6h0M369.3 1302.7h0M428.2 1237.4h0M461.9 1188.2h0M438.1 1361.9h0M596.7 1285.7h0M569.5 1293.2h0M427.9 1299.4h0M459 1258.6h0M421.1 1343.1h0M559.3 1278.7h0M438.7 1158.1h0M526 1176.1h0M528.7 1234.1h0M447 1334.5h0M455.1 1296.5h0M566.1 1275.9h0M472.6 1230.8h0M573.8 1312.1h0M540.9 1366.6h0M428.8 1241h0M535.6 1310.3h0M448 1375.9h0M430.3 1337.7h0M540.9 1332.5h0M415 1326.8h0M558.1 1272.5h0M558.8 1300.5h0M465.9 1197h0M433.6 1371.4h0M389.7 1323.4h0M460.5 1219.6h0M494.8 1353.6h0M416.3 1295.2h0M530.3 1323.5h0M405 1292.7h0M371.4 1314h0M480.3 1290.1h0M422.6 1272.5h0M521.5 1272h0M452.5 1305.9h0M552.8 1284.3h0M432.7 1181.2h0M589 1302.3h0M498.4 1298.1h0M435.8 1158.6h0M508.2 1242.8h0M442.3 1267.2h0M526.7 1166.4h0M541.2 1167.7h0M439.7 1379.6h0M428.4 1266.4h0M547.6 1288.8h0M526.2 1210.6h0M533.9 1277.9h0M470.8 1262.6h0M445.5 1288.5h0M457.7 1253.2h0M456.6 1311.4h0M544.9 1266h0M440.8 1260.5h0M460.6 1183.5h0M531.6 1267.6h0M464.1 1197h0M430.2 1284.3h0M492.7 1383.6h0M528.6 1265.7h0M437.6 1206.5h0M508.9 1215.5h0M532.6 1306.1h0M541 1288.7h0M444.7 1356.5h0M435.3 1279h0M390.1 1300.8h0M433.6 1292h0M439.3 1293.5h0M518 1266.5h0M459.3 1225.7h0M439.5 1161.3h0M447.5 1364.3h0M418.8 1351.4h0M426.3 1304.7h0M516.8 1179.9h0M444.3 1183.6h0M529.4 1294.3h0M474 1231.2h0M549.1 1197.8h0M496.2 1321.5h0M443.8 1358.5h0M453.5 1353.1h0M436.5 1093.5h0M592.8 1289.4h0M456.4 1247.6h0M641.1 1273.1h0M470.7 1406.6h0M483.4 1335.6h0M562.5 1277h0M545.1 1070.5h0M417.6 1312.4h0M521.8 1193.2h0M521.2 1400.8h0M525.9 1233.6h0M548 1373.7h0M542.7 1291.3h0M380.7 1298.5h0M541.3 1343.4h0M437.5 1236.1h0M427.2 1359.9h0M527.1 1342.9h0M459.4 1205.5h0M526.6 1291.8h0M531 1384.2h0M540.6 1339.5h0M545.5 1332.1h0M429.2 1264.2h0M453.2 1228.9h0M529.5 1217h0M572.1 1290.3h0M441.6 1290.2h0M449.1 1236.4h0M380.3 1286.7h0M440.4 1104h0M422 1302.2h0M473.9 1408h0M446.3 1229.8h0M449.3 1390h0M525.7 1276.6h0M404.6 1300h0M444.4 1260.6h0M537.8 1313.3h0M538.8 1253.9h0M567.8 1298.6h0M464.7 1229.6h0M535.5 1215.7h0M433.7 1272.2h0M423.1 1319h0M544.1 1292.9h0M531.8 1255.3h0M479.9 1284.9h0M585.8 1298.6h0M430.8 1340.2h0M449.9 1371.8h0M537.7 1226.3h0M463.8 1222h0M473.8 1246.1h0M401.8 1296.9h0M426.1 1356.9h0M593.6 1303.2h0M557.4 1290.5h0M443.9 1285.6h0M445.1 1228.2h0M457.5 1227.6h0M555.9 1352.2h0M531.7 1306.8h0M546.3 1341.3h0M432.8 1327.9h0M441.4 1361.7h0M427.6 1333.3h0M487.2 1389.8h0M512 1206.4h0M443 1360.3h0M525.7 1217.5h0M407.7 1285.3h0M451.1 1259.5h0M440 1346.3h0M487.5 1412.9h0M545.8 1344.6h0M416.5 1273.6h0M463.8 1246h0M492.6 1382.9h0M589.4 1324.2h0M527.7 1176.3h0M559.8 1314.4h0M486.1 1377.6h0M531.1 1207.9h0M442.7 1291.2h0M554.8 1316.8h0M408.7 1285.7h0M441.6 1206.4h0M485.6 1364.7h0M480.8 1410.7h0M440.5 1158.2h0M542.4 1278h0M441.3 1299h0M397.6 1328.4h0M466.4 1198.3h0M430.1 1341.7h0M531.3 1384.6h0M430.1 1235.8h0M439.9 1169.6h0M537.3 1219.6h0M454 1154.5h0M449.4 1273.8h0M433.6 1355.8h0M535.4 1131.5h0M513.1 1257.5h0M456.8 1286.1h0M485.8 1369h0M438 1341.7h0M440.3 1386.3h0M521 1209.4h0M522.3 1271h0M436.1 1253.9h0M541.2 1269.5h0M462.9 1182.1h0M525.3 1253.8h0M561 1292.8h0M467.4 1214h0M594 1326h0M471.1 1222h0M494.4 1361.8h0M459.4 1204.6h0M569.3 1335h0M484.3 1336.6h0M412.4 1287.4h0M455.6 1255.4h0M548.8 1303.1h0M444.3 1138.3h0M550.6 1354.2h0M443.1 1179h0M537.2 1258.5h0M513.9 1188h0M531.3 1236.4h0M537.3 1193.1h0M400.2 1310.2h0M529.7 1239.7h0M457.7 1288.5h0M564.5 1294.5h0M514.8 1405.1h0M441.4 1268.9h0M495.2 1338.8h0M437.2 1335.3h0M539.7 1346.6h0M459.5 1245h0M483.2 1326.6h0M546.2 1233.3h0M539 1261.8h0M484.6 1340.9h0M451.7 1374.8h0M444.9 1272.6h0M521.5 1275.9h0M487.8 1396.9h0M547.5 1298h0M430.1 979.2h0M443.3 1032.4h0M527.8 1061h0M453.7 1069.2h0M437.3 1088.9h0M269.4 1368.7h0M294.6 1367.6h0M322.6 1304h0M352.2 1367.1h0M355.5 1347.9h0M664.4 1373.1h0M674.3 1372h0M638.1 1317.2h0M624.3 1310.6h0M630.9 1347.9h0M628.2 1358.9h0M610.6 1363.3h0M592.5 1396.7h0M625.4 1278.8h0"/>
<path fill="none" stroke="#1fa37b" stroke-width="3.6" stroke-linecap="round" d="M392.9 1191.3h0.8M392.9 1216.3h1.2M422.9 1239.3h1.2M413.4 1240.3h1M423.9 1240.3h1.5M424.4 1256.3h0.8M413.2 1268.3h1M411.4 1239.3h0M399.8 1142.5h0M409.8 1183.9h0M391.3 1267.9h0M397.1 1238h0M396.3 1235.3h0M331.1 1258.2h0M415.6 1227.7h0M417.9 1268.3h0M409.7 1143.1h0M414.4 1268.7h0M361.7 1224.7h0M407 1264.8h0M414.8 1238.7h0M421.8 1259.5h0M387.6 1258.6h0M425.2 1249.2h0M358.5 1246.9h0M363.2 1270.9h0M415.3 1189.9h0M384.2 1261h0M404.5 1170.6h0M420.4 1220.9h0M393.9 1191h0M419.6 1235.7h0M386.3 1230.2h0M398.8 1263.2h0M360.8 1233.9h0M397 1183.1h0M417.2 1112.5h0M425.6 1214.6h0M352.2 1267.4h0M389.3 1242.5h0M424.5 1250.1h0M405.7 1251.2h0M410.7 1267h0M417.7 1236.2h0M427.2 1253.6h0M348.1 1260.5h0M386.4 1209.5h0M330 1262.4h0M416.6 1256h0M425.5 1196.4h0M427.7 1246.2h0M423.8 1161h0M426.9 1108.8h0M377.8 1173.8h0M402 1070.2h0M414.3 1206.9h0M357.1 1251.9h0M426.4 1109.6h0M407.4 1269.6h0M421.6 1205.3h0M420.7 1221h0M370.5 1167.7h0M421.4 1194.9h0M371.5 1232.1h0M407.8 1243.6h0M401.4 1206.4h0M379.7 1229.4h0M397.7 1216.2h0M424.8 1267.3h0M403.2 1251.7h0M424.8 1166.7h0M391.5 1200.1h0M394.6 1224.2h0M415.7 1200.9h0M408.7 1249.6h0M405 1123.1h0M414.5 1225.8h0M413.5 1240.5h0M399.2 1254.9h0M427.3 1261.1h0M357.9 1265.5h0M427.4 1211.4h0M418.7 1137.4h0M348.3 1260.9h0M402.9 1262.4h0M375.6 1265.9h0M369.2 1240.3h0M424.2 1171.6h0M386.8 1259.2h0M403.2 1205.9h0M423.3 1249.4h0M420.5 1227.8h0M411.5 1226h0M377.6 1199.4h0M380.6 1189.5h0M394.8 1260.7h0M427.6 1251.6h0M353 1221.3h0M414.7 1145.6h0M369.7 1258.6h0M397.7 1236h0M413.1 1258.9h0M380.8 1231.2h0M417.7 1254.5h0M422.6 1270h0M393 1157.4h0M338.2 1258.1h0M416.7 1223h0M394.5 1216h0M426.7 1139.8h0M362.3 1197.2h0M381.4 1181.6h0M412.4 1267.5h0M426.4 1255.4h0M413.4 1269.8h0M398 1251.3h0M388.9 1236.7h0M363.4 1219h0M408.8 1232.6h0M390.9 1266.9h0M374.6 1261.9h0M397.9 1213.1h0M425 1166h0M417.2 1134.4h0M368.4 1105.2h0M405.6 1256.1h0M424.5 1242.8h0M421 1261.5h0M412.5 1236.4h0M397.2 1091.3h0M412.9 1172.1h0M331.8 1206.3h0M382.9 1217h0M360.4 1208.7h0M417.6 1197.1h0M377.7 1214.6h0M421.7 1240.2h0M419 1250.1h0M393.9 1218.1h0M421.9 1259.1h0M377.4 1184.9h0M358.9 1255.9h0M400.5 1240.1h0M421.4 1267.8h0M402.1 1270.4h0M412.9 1232h0M377.5 1173.2h0M408.3 1197.8h0M400.8 1245.7h0M364.3 1218.5h0M413.3 1126.2h0M427.2 1247.2h0M423.1 1238.6h0M357 1089.3h0M425.3 1231.6h0M405.7 1269.2h0M409.7 1112.8h0M359.9 1227.9h0M428 1267.5h0M414.6 1213.2h0M368.4 1231.2h0M364.7 1161.4h0M375.5 1238.1h0M397.6 1250.7h0M394.8 1249.7h0M390 1227h0M375.2 1232.1h0M403.9 1229.8h0M341.7 1220.4h0M404.6 1228.3h0M420.9 1231.6h0M408 1152.3h0M392.9 1247.9h0M382.2 1217.7h0M346.2 1248.6h0M385 1209.6h0M364.6 1225.4h0M405.8 1245.2h0M421.5 1112.6h0M419.2 1215.1h0M406.4 1236.7h0M426.2 1169h0M399.6 1181.7h0M426.7 1151.1h0M398 1170.7h0M414.3 1164.9h0M400.1 1237.4h0M427.3 1179.7h0M409.2 1229.5h0M374.7 1243.5h0M421.2 1208.3h0M395.9 1182h0M409 1256.8h0M384 1192.1h0M416.1 1253.3h0M394.6 1214.9h0M425.1 1213.4h0M409.8 1204.5h0M424.6 1226.2h0M387.5 1200.4h0M419.3 1206.2h0M403.9 1263.6h0M423.6 1212.4h0M425.2 1232.2h0M424.2 1266.4h0M407.1 1214.6h0M405.5 1211.9h0M339.3 1265.4h0M425.2 1239.4h0M415 1265.8h0M394.1 1260h0M414.7 1240.9h0M370.6 1248.6h0M395.2 1230.7h0M427.4 1254.7h0M339.2 1237.2h0M391.6 1265.8h0M408.4 1188.7h0M344.1 1219.8h0M424.4 1270.1h0M424.1 1256.1h0M387.9 1236.6h0M390.2 1268.8h0M402.4 1222.6h0M420.4 1146.5h0M397.2 1223h0M421.2 1234.2h0M419.5 1164.2h0M424.9 1256.7h0M381.6 1104.2h0M342 1250.3h0M354.3 1158.4h0M393.9 1192.1h0M360.2 1237.7h0M404.7 1194.7h0M425.3 1141.1h0M411.5 1212.8h0M374.1 1258.6h0M398.8 1082.9h0M412.5 1176.7h0M392.5 1174.8h0M421.4 1145.5h0M427.4 1241.1h0M427 1228.9h0M416.5 1260.9h0M407.6 1242.6h0M356.5 1108.4h0M424.9 1208.8h0M318.7 1176.7h0M284.2 893.6h0M350 893.6h0M206.3 921.1h0M393.4 915.6h0M193.7 944.6h0M393.9 974.8h0M136.1 1020.4h0M404.9 1009.4h0M327 1032.4h0M412 1032.4h0M306.1 1048.3h0M318.2 1051.1h0M291.9 1081.8h0M334.1 1086.7h0M266.1 1152h0M294.1 1132.3h0M297.9 1154.2h0M286.9 1164.6h0M297.4 1165.7h0M279.8 1171.8h0M301.8 1220.6h0M308.3 1242h0M273.2 1255.7h0M319.3 1203.6h0M338 1235.4h0"/>
<path fill="none" stroke="#f4511e" stroke-width="3.6" stroke-linecap="round" d="M576.6 1253.7h0M626.4 1252.3h0M565.9 1148.1h0M567.1 1244.8h0M555.7 1258.5h0M630 1246.8h0M564.9 1241.5h0M570.7 1168.2h0M554.5 1114h0M619.2 1127.4h0M564.2 1268.6h0M562.8 1223.9h0M632.1 1135h0M578.8 1258.8h0M554.3 1224.5h0M565.2 1204.1h0M565.1 1149.1h0M554.6 1063.9h0M579.7 1206h0M551.2 1210.7h0M551.3 1263.8h0M582.3 1228h0M587 1102.1h0M551.8 1266.2h0M575.3 1254.2h0M572.9 1263.9h0M558.8 1269.1h0M561.1 1223.1h0M623.7 1215.3h0M595.8 1243.8h0M633.6 1269.7h0M572.3 1257.7h0M579.1 1224.7h0M558.2 1254h0M555.2 1268.5h0M573.5 1229.5h0M580.3 1253.2h0M578.5 1226.2h0M605 1236h0M575.3 1230.7h0M564 1229.3h0M551.4 1265.6h0M598.2 1168.9h0M564.3 1269.2h0M571.8 1138.6h0M575.3 1233h0M560.8 1149.2h0M557.8 1224.3h0M584 1175h0M566.8 1184.4h0M558.3 1270.7h0M594.7 1186.6h0M582 1261.8h0M592 1077h0M568.3 1091.9h0M569.6 1235.2h0M573.3 1239.6h0M554.7 1243.4h0M558.4 1193.3h0M590.6 1213.6h0M569.4 1249.2h0M591.8 1267.6h0M591.4 1081h0M577.1 1250.8h0M566.3 1118.8h0M602.3 1251.2h0M556 1195.1h0M612 1270h0M552.2 1215h0M586.1 1269.4h0M557.2 1270.5h0M597.5 1263.5h0M557.8 1200.3h0M560.9 1227.4h0M622 1205h0M556.1 1252h0M553.8 1113.2h0M612.5 1248.5h0M599.4 1144.6h0M601.9 1177.9h0M600.7 1239.7h0M560.6 1236.6h0M563.5 1258.9h0M606.2 1164.6h0M606.6 1252.1h0M555.7 1060.5h0M578 1231.7h0M553.8 1195.6h0M553 1190.2h0M568.8 1130.9h0M552.5 1179.5h0M554.9 1213.6h0M578.9 1229.9h0M565.5 1233.4h0M565 1248.3h0M567.5 1263.8h0M561.8 1034.1h0M565.1 1052.2h0M666.6 1052.2h0M674.8 1052.2h0M576.1 1108.7h0M595.8 1107.6h0M640.8 1132.8h0M634.2 1154.2h0M679.2 1172.3h0M660.6 1189.9h0M662.2 1207.4h0M654.5 1216.8h0M684.7 1229.9h0M647.9 1251.9h0M647.9 1261.2h0M605.1 1160.8h0M617.2 1161.4h0"/>
<path fill="none" stroke="#141414" stroke-width="2.2" stroke-linejoin="round" d="M83.7 837.3V1440.6H895.5M120.7 1440.6v4.7M305.2 1440.6v4.7M489.7 1440.6v4.7M674.2 1440.6v4.7M858.7 1440.6v4.7M83.7 1413.7h-4.7M83.7 1304h-4.7M83.7 1194.3h-4.7M83.7 1084.6h-4.7M83.7 974.9h-4.7M83.7 865.2h-4.7"/>
<g font-size="13.5" fill="#333" stroke="#333" stroke-width="0.2">
<text transform="translate(120.7 1459.1) scale(1 1.05)" text-anchor="middle">-6</text>
<text transform="translate(305.2 1459.1) scale(1 1.05)" text-anchor="middle">-3</text>
<text transform="translate(489.7 1459.1) scale(1 1.05)" text-anchor="middle">0</text>
<text transform="translate(674.2 1459.1) scale(1 1.05)" text-anchor="middle">3</text>
<text transform="translate(858.7 1459.1) scale(1 1.05)" text-anchor="middle">6</text>
<text transform="translate(75.7 1418.6) scale(1 1.05)" text-anchor="end">0</text>
<text transform="translate(75.7 1308.9) scale(1 1.05)" text-anchor="end">1</text>
<text transform="translate(75.7 1199.2) scale(1 1.05)" text-anchor="end">2</text>
<text transform="translate(75.7 1089.5) scale(1 1.05)" text-anchor="end">3</text>
<text transform="translate(75.7 979.8) scale(1 1.05)" text-anchor="end">4</text>
<text transform="translate(75.7 870.1) scale(1 1.05)" text-anchor="end">5</text>
</g>
<g stroke="#000" stroke-width="0.2">
<text transform="translate(489.7 1478.45) scale(1 1.05)" font-size="17.3" text-anchor="middle">Log2(FC)</text>
<text transform="translate(61 1137.45) rotate(-90) scale(1 1.05)" font-size="17.3" text-anchor="middle">FDR(BH adjust, -log10)</text>
<text transform="translate(490.5 864.96) scale(1 1.05)" font-size="20.1" text-anchor="middle">GSE98770</text>
<text transform="translate(243.7 981.15) scale(1 1.05)" font-size="17.3" text-anchor="middle">Down: 276</text>
<text transform="translate(735.7 981.15) scale(1 1.05)" font-size="17.3" text-anchor="middle">Up: 113</text>
<text transform="translate(922 1101.75) scale(1 1.05)" font-size="17.3">Type</text>
<circle cx="935" cy="1124.6" r="1.8" fill="#1fa37b" stroke="none"/>
<text transform="translate(956.8 1129.55) scale(1 1.05)" font-size="13.7">Down</text>
<circle cx="935" cy="1151.5" r="1.8" fill="#000000" stroke="none"/>
<text transform="translate(956.8 1156.45) scale(1 1.05)" font-size="13.7">NS</text>
<circle cx="935" cy="1178.4" r="1.8" fill="#f4511e" stroke="none"/>
<text transform="translate(956.8 1183.35) scale(1 1.05)" font-size="13.7">Up</text>
</g>
</g>
<text x="489.7" y="1478.15" font-size="17.3" text-anchor="middle">Log2(FC)</text>
<text transform="translate(61 1137.45) rotate(-90)" font-size="17.3" text-anchor="middle">FDR(BH adjust, -log10)</text>
<text x="490.5" y="864.58" font-size="20" text-anchor="middle">GSE98770</text>
<text x="243.7" y="980.85" font-size="17.3" text-anchor="middle">Down: 276</text>
<text x="735.7" y="980.85" font-size="17.3" text-anchor="middle">Up: 113</text>
<text x="922" y="1101.45" font-size="17.3">Type</text>
<circle cx="934.5" cy="1124.6" r="1.8" fill="#1fa37b"/>
<text x="957" y="1129.31" font-size="13.7">Down</text>
<circle cx="934.5" cy="1151.5" r="1.8" fill="#000000"/>
<text x="957" y="1156.21" font-size="13.7">NS</text>
<circle cx="934.5" cy="1178.4" r="1.8" fill="#f4511e"/>
<text x="957" y="1183.11" font-size="13.7">Up</text>
</g>
<g id="vC">
<path fill="none" stroke="#404040" stroke-width="2.9" stroke-linecap="round" stroke-dasharray="0.01 6.63" d="M463.1 2162.7V1560.5M524.1 2162.7V1560.5M91.7 2127.6H895.5"/>
<path fill="none" stroke="#000000" stroke-width="3.6" stroke-linecap="round" d="M520.7 2075h1.5M520 2076h2.5M518.7 2077h4.2M518.2 2078h4.8M519 2079h3.5M519.5 2080h3M519.2 2081h3.8M518.7 2082h4.2M464.4 2083h1M468.7 2083h1M518.2 2083h4.2M464.9 2084h5M517 2084h5.8M464.9 2085h6M516.5 2085h7.2M464.4 2086h7.2M515 2086h8.8M463.9 2087h9.2M514.7 2087h7.8M463.4 2088h9.2M515 2088h7.2M462.9 2089h9.8M514.7 2089h8M463.2 2090h9.5M513.7 2090h9M463.4 2091h9.8M512.7 2091h10M463.4 2092h11M511.9 2092h11.2M463.9 2093h6.8M473.7 2093h2.2M511.2 2093h11.5M463.7 2094h6.5M474.2 2094h2M511.2 2094h11.8M463.4 2095h7.2M473.7 2095h3M510.9 2095h12.8M464.4 2096h13.2M510.7 2096h12.5M464.7 2097h12.5M510.2 2097h13M464.2 2098h13.5M508.4 2098h15.5M463.7 2099h14.5M508.9 2099h14.5M463.7 2100h15.2M508.9 2100h14.8M463.7 2101h16.2M508.2 2101h15.5M467.2 2102h12.2M507.7 2102h16M467.7 2103h12M506.4 2103h17.2M467.4 2104h12.8M506.2 2104h17.8M466.9 2105h14M506.2 2105h17.5M463.9 2106h17.2M505.9 2106h17.5M464.2 2107h17.5M505.4 2107h18M463.7 2108h18M504.9 2108h18.8M464.2 2109h17.5M504.2 2109h19.5M464.4 2110h17.8M504.4 2110h18.8M463.9 2111h18.8M504.7 2111h18.5M462.9 2112h20.8M504.4 2112h18.5M463.4 2113h20.2M503.9 2113h19.5M463.4 2114h20.5M503.7 2114h20.2M463.4 2115h20.8M503.4 2115h20.2M463.2 2116h21.2M502.9 2116h20.2M463.7 2117h21.2M501.9 2117h21.8M463.9 2118h21.8M501.4 2118h22.2M463.7 2119h21.8M501.4 2119h22.2M463.4 2120h22.2M501.4 2120h22.8M463.4 2121h22.5M500.9 2121h23M463.7 2122h22.8M500.9 2122h22.5M463.4 2123h23.2M500.7 2123h23M463.7 2124h23.2M500.2 2124h23.2M463.7 2125h23.5M499.7 2125h24M463.4 2126h25M499.4 2126h24.2M462.9 2127h25.2M499.2 2127h25M412.2 2128h1M417.4 2128h3.5M424.2 2128h3.5M437.2 2128h1.8M447.4 2128h2M451.2 2128h9.2M461.7 2128h26.8M498.4 2128h28.5M529.5 2128h0.8M534.2 2128h1.2M540.2 2128h3.5M546 2128h1M548 2128h0.8M402.7 2129h2.8M407.4 2129h5.2M415.2 2129h14.8M431.2 2129h11.2M443.9 2129h45M497.7 2129h51.5M553.2 2129h0.8M557.2 2129h1.5M560.2 2129h2.2M565.2 2129h1M570 2129h1.5M403.2 2130h1.2M410.9 2130h1M415.9 2130h0.8M418.9 2130h71.2M497.2 2130h53.5M552 2130h13.8M568.7 2130h1.8M420.7 2131h70M496.4 2131h60.2M558.2 2131h2.8M424.4 2132h1M426.9 2132h1M429.9 2132h61.2M495.9 2132h54.5M552.7 2132h2.8M559.5 2132h1M430.9 2133h1.8M439.4 2133h6M447.7 2133h44.2M494.9 2133h40.2M542.5 2133h1M456.4 2134h73.8M531.2 2134h1.2M473.4 2135h41.2M516 2135h2.8M491.9 2135.5h0M425.3 2127.6h0M492.1 2133.1h0M523.9 2100.5h0M481.7 2135.4h0M463.3 2134.2h0M476.4 2093.2h0M536.1 2132.8h0M546.5 2127.9h0M513.9 2086.2h0M553.4 2127.9h0M543 2133.2h0M537.2 2128.3h0M538 2128.3h0M524 2108.1h0M517.3 2083.6h0M489.3 2135.5h0M414.5 2128h0M519.8 2134.7h0M549.4 2132.9h0M463.5 2087.3h0M524.1 2114.3h0M463.1 2115.5h0M582.3 2130.5h0M460.9 2134.5h0M499.5 2125.4h0M464.3 2078.5h0M479.6 2135.4h0M449.7 2133.7h0M405 2128.1h0M477.6 2135.4h0M404.1 2130.6h0M434.4 2132.3h0M484.9 2135.5h0M505.3 2135.3h0M482.1 2109.8h0M526.2 2134.3h0M514.1 2135.2h0M523.9 2134.5h0M445.7 2128h0M466.4 2134.6h0M427.6 2132.3h0M534.8 2127.8h0M405.7 2128.6h0M441 2133.8h0M517.8 2077.3h0M520.7 2134.5h0M483.8 2113.2h0M564.1 2129.4h0M464.6 2080h0M479 2099.9h0M523.2 2111.3h0M490 2135.5h0M557.8 2128.2h0M494 2135.5h0M538.9 2127.9h0M487 2122.2h0M471.6 2134.8h0M501.5 2119.2h0M412.8 2127.8h0M592.1 2130.2h0M492.1 2135.5h0M463.2 2102.9h0M555 2132.2h0M468.7 2079.9h0M574.2 2127.8h0M507.3 2135.4h0M449.2 2133.7h0M551.3 2131.7h0M467.2 2076.6h0M434.4 2128.1h0M481.7 2106.8h0M504.8 2135.2h0M511.7 2092.2h0M417.6 2127.8h0M522.2 2072.4h0M579.4 2128.3h0M523.9 2081.6h0M419.3 2127.6h0M500.6 2121.5h0M510.6 2095.6h0M531.7 2134.3h0M463.4 2098.4h0M520.1 2075.6h0M503.5 2114.6h0M455.9 2127.7h0M402 2129.2h0M529.7 2134.2h0M419.7 2130.9h0M496 2135.4h0M539.6 2132.9h0M469.2 2134.7h0M523.9 2121.3h0M474.8 2092.4h0M475.3 2135.4h0M473.6 2086.5h0M468.7 2080.8h0M561.5 2127.8h0M553.3 2132.2h0M450.4 2133.8h0M405 2129.5h0M501.5 2117.6h0M591.3 2128.1h0M409.1 2129.8h0M502.3 2116.4h0M532.9 2133.8h0M483 2135.3h0M463.2 2091.8h0M498.8 2135.4h0M469.9 2135.1h0M463.1 2116.1h0M522.7 2134.7h0M487.2 2135.4h0M498.5 2127.8h0M524 2113.2h0M494.5 2135.4h0M570.3 2128h0M500 2124.4h0M463.5 2119.4h0M445.3 2128h0M464.7 2074.6h0M484.4 2115.4h0M501.1 2135.4h0M545.3 2133.3h0M451.5 2134h0M527.6 2128.2h0M506.5 2102.7h0M564.3 2131h0M516 2085.2h0M473.1 2088.7h0M394.2 2129.3h0M496.8 2135.5h0M445.1 2128.2h0M464.2 2079.6h0M523.8 2123.4h0M488.8 2135.5h0M524.8 2134.1h0M500.5 2135.5h0M487.2 2123.7h0M557.2 2128.9h0M463.3 2101.7h0M501.6 2118.7h0M471.4 2085.3h0M463.7 2105.5h0M463.4 2122.4h0M538.6 2127.9h0M486.4 2135.4h0M492.9 2135.5h0M441.5 2128.4h0M511 2094.7h0M548.9 2127.6h0M416 2131h0M423.4 2131.5h0M508.5 2135.5h0M489.8 2129.7h0M482.1 2135.4h0M463.3 2100.2h0M503.8 2112.7h0M462.2 2134.8h0M495.3 2135.5h0M463.2 2090.4h0M484.2 2135.3h0M541.4 2127.8h0M411.9 2131.2h0M444.6 2133.9h0M438.4 2127.6h0M486 2135.4h0M464.6 2070.3h0M524 2102.5h0M539.1 2133.2h0M523.9 2077.4h0M457.8 2134.5h0M463.4 2123.3h0M523 2089.2h0M495.2 2132.5h0M508.6 2135.5h0M408.2 2128.4h0M459.3 2127.6h0M583.2 2128.8h0M504.2 2110.3h0M569.9 2131.4h0M505.9 2103.8h0M463.3 2103.4h0M428.8 2128.3h0M497.5 2135.5h0M463.2 2120.8h0M522.8 2090.4h0M523.7 2106.8h0M436.4 2132.5h0M464.2 2109.5h0M452.5 2127.7h0M453.6 2127.7h0M526.4 2134.2h0M565.7 2128.6h0M484 2111.8h0M534.8 2133.3h0M466 2083.3h0M459.2 2134.6h0M578.7 2129.6h0M456.9 2134.3h0M523.8 2098.6h0M443.3 2133.7h0M467.3 2134.8h0M431.2 2133.5h0M440.9 2127.7h0M523.9 2125.2h0M427.1 2127.7h0M432.9 2128.1h0M512.3 2091.3h0M559.8 2133h0M524 2118.3h0M472.4 2134.8h0M464.6 2134.3h0M523.9 2118.5h0M513.1 2135.2h0M420.6 2127.8h0M496.8 2130.3h0M518.1 2078.3h0M463.2 2068.3h0M409.1 2128h0M485.9 2120.3h0M440.4 2133.6h0M496.1 2131.3h0M463.3 2111.8h0M504 2135.2h0M531.8 2134.3h0M463.3 2124.4h0M459.9 2127.7h0M482 2107.7h0M531.6 2128h0M424.9 2132.2h0M502.2 2135.4h0M458.5 2127.6h0M566.7 2129.5h0M526.1 2127.8h0M480.2 2135.4h0M473.6 2091.4h0M528.4 2134.4h0M411 2128.1h0M417.7 2127.7h0M437.7 2127.6h0M464.3 2079.3h0M463.5 2104.2h0M508.4 2097.6h0M567.3 2129.9h0M571.6 2127.9h0M423 2128.1h0M553.3 2132.2h0M487.3 2135.4h0M463.1 2120.3h0M511 2093.7h0M432.3 2133.3h0M485.9 2117.5h0M474.2 2091.8h0M490.7 2135.5h0M465.7 2134.5h0M438.2 2132.4h0M522.8 2075.2h0M528.5 2128.2h0M523.7 2085.8h0M400.7 2130h0M510.9 2135.4h0M491.7 2132.8h0M571.6 2129.3h0M449 2127.8h0M454.2 2127.7h0M456.4 2134.2h0M505.7 2135.2h0M403.8 2128.4h0M517.4 2135.2h0M421.2 2131.2h0M453.9 2133.3h0M464.4 2101.4h0M464.2 2082h0M477.8 2095.6h0M584.2 2129.6h0M489.6 2129.6h0M478.8 2135.4h0M407.9 2129.4h0M499.8 2135.5h0M463.7 2104.2h0M543.3 2127.7h0M496.8 2130.6h0M548.1 2133.3h0M480.1 2100.9h0M573.4 2128.6h0M469.4 2080.5h0M517.6 2043h0M523.9 2042.1h0M520.3 2058.3h0"/>
<path fill="none" stroke="#1fa37b" stroke-width="3.6" stroke-linecap="round" d="M450.9 2082.7h0M352.8 2119.4h0M436.3 2064.9h0M450.9 2112.7h0M438.5 2083.2h0M364.6 2116.2h0M277.6 2006.6h0M316.9 2105.8h0M386.5 2119.2h0M420.9 2120.7h0M411.1 2125.4h0M382.1 2118.8h0M460.6 2093h0M438.3 2108.3h0M360 2100.1h0M452.2 2087.1h0M329.9 2123.1h0M445 2100.5h0M433.6 2127.4h0M443.7 2056h0M412.9 2086.6h0M409.5 2109.5h0M389.6 2123.9h0M451.7 2094.8h0M439.1 2100.6h0M407.8 2081.5h0M432.5 2099.3h0M413.6 2119.6h0M400.5 2117.3h0M341.7 2117.7h0M395.2 2112.4h0M458.8 2101.4h0M409.5 2125.3h0M434.3 2096.4h0M428.9 2095.3h0M407.1 2051.2h0M409.3 2113.5h0M443.2 2081.6h0M359.5 2109.7h0M457.1 2085.8h0M442.5 2113.2h0M380.8 2112.1h0M336.5 2116.2h0M453.7 2100.9h0M433.2 2092.5h0M402.7 2099.8h0M443.5 2076.9h0M409.9 2106.8h0M349.3 2121.5h0M462.3 2111.9h0M362.8 2103.2h0M442.2 2114.3h0M439.8 2110.2h0M433 2097.1h0M417.9 2090h0M349.4 2102.9h0M399.4 2091.1h0M461.1 2083.1h0M394.1 2117.7h0M462.6 2125.3h0M459.7 2080h0M462.8 2107.9h0M457.9 2089.6h0M417 2124.7h0M368.9 2096.1h0M418.3 2075.9h0M380.6 2125.4h0M418.5 2118.9h0M457.6 2084.3h0M439.6 2085.6h0M409 2118.4h0M453.2 2053.5h0M355.3 2118.2h0M430 2108.6h0M370.9 2092.2h0M359.1 2122.7h0M432.5 2077.7h0M390 2112.7h0M421.4 2100h0M400.9 2111.4h0M404.7 2109.3h0M364.6 2109h0M430.1 2103.5h0M407.3 2122.6h0M288.8 2065.9h0M380.7 2120.6h0M392.3 2098.3h0M415.8 2126.8h0M323.8 2107.6h0M388.4 2113.8h0M423.1 2110.7h0M356.3 2112.6h0M434 2105.6h0M282.7 2093.8h0M443.2 2069.2h0M458.4 2082.8h0M408.8 2030.1h0M405 2097.2h0M417.1 2105.7h0M401.9 2125.6h0M412.7 2098.1h0M440.9 2086.2h0M441.4 2126.1h0M445.8 2089.9h0M392.7 2081.8h0M407.3 2115.5h0M461.7 2104.9h0M448.3 2082.4h0M452.8 2090.5h0M369 2120.9h0M397.1 2103.5h0M440.8 2093.7h0M437.5 2092.8h0M454.2 2069.9h0M438.4 2076h0M419.5 2090.6h0M348.4 2123.3h0M394 2123.2h0M460.6 2104.5h0M307.8 2092.5h0M385.8 2126.2h0M377.4 2113.1h0M446.5 2099.7h0M394.3 2115.7h0M347.1 2121h0M426.9 2098.4h0M443.5 2083.8h0M391.6 2122.7h0M450.4 2085.3h0M376 2113.4h0M368.3 2102.8h0M432.8 2117.9h0M445.6 2099.3h0M328.1 2117.6h0M357 2121.3h0M330 2122.3h0M368.4 2117.5h0M447 2080.7h0M343.7 2109h0M430.1 2034.7h0M441 2102.5h0M426.9 2118.4h0M385.5 2114.1h0M441.2 2070.5h0M332.4 2043.7h0M428.1 2112.9h0M445.3 2096.1h0M443.3 2088h0M433 2096.4h0M426.5 2107.8h0M368.5 2111.3h0M412.7 2080.3h0M366.2 2095.1h0M371.1 2097.6h0M413 2113.5h0M418.4 2097.5h0M425.7 2097.2h0M451.9 2080.7h0M358.6 2103.7h0M445.4 2075.2h0M443.6 2107.8h0M437.3 2125.4h0M347.9 2117.3h0M373 2122.2h0M384.2 2127.4h0M437.5 2081.5h0M440.1 2104.2h0M394.1 2124.9h0M441.8 2106.8h0M462.2 2096.9h0M449.8 2094.6h0M375.4 2117h0M431.9 2108h0M350.9 2115.2h0M436.1 2101.6h0M457.7 2076h0M357 2113.1h0M359.9 2124.7h0M451.2 2105.9h0M444.3 2104.6h0M335.2 2104.8h0M446.2 2099.3h0M423.1 2105.7h0M404.7 2082.6h0M417.8 2093.8h0M413.5 2127.5h0M387 2110.6h0M439.8 2079.9h0M372.5 2107.1h0M371.6 2125h0M449.4 2093.7h0M427.7 2071.8h0M442.3 2109.2h0M363.7 2111.4h0M460.1 2087.4h0M313.7 2104.2h0M446.4 2106.5h0M417.3 2116.4h0M434.5 2093.3h0M379.3 2124.5h0M455 2055.6h0M393.3 2114.5h0M425.1 2072.7h0M417.4 2122.4h0M361.3 2105.8h0M442.6 2093.1h0M439.5 2116.3h0M389.9 2090.2h0M341 2118.2h0M424.8 2102.2h0M388.4 2126.2h0M401.2 2087.3h0M363.2 2069.3h0M438.8 2107.9h0M418.4 2110.9h0M374.9 2125.9h0M381.5 2103.2h0M410.6 2117.3h0M448.3 2065.9h0M437.1 2065.1h0M420.7 2112.6h0M401.8 2115.1h0M445.7 2126.7h0M420.2 2091.3h0M446.4 2056.1h0M447.7 2102h0M455.8 2097.2h0M291.8 2118.7h0M449.9 2038.4h0M415.1 2114.9h0M360.7 2112.6h0M406.2 2120.6h0M420.7 2069.5h0M444.2 2089.8h0M374.4 2125.6h0M420.6 2123.9h0M456.1 2126.6h0M457.1 2105.8h0M454.1 2126.9h0M419.6 2097.4h0M425 2127.5h0M433.6 2090.6h0M440.2 2087.1h0M433.4 2018.2h0M417.7 2064.8h0M370.3 2119.4h0M450 2107.4h0M416.6 2092.1h0M364.4 2105.5h0M424.2 2067.9h0M368.4 2098.6h0M432.7 2060.6h0M457.2 2069.5h0M436.4 2074.3h0M446.7 2105.2h0M451.6 2116.3h0M433.6 2109.7h0M429.5 2127.5h0M381.2 2109.3h0M445.4 2112.3h0M425.9 2116.3h0M429.9 2106.4h0M445.8 2065.2h0M441.1 2124.9h0M403.8 2125.2h0M459.4 2066.2h0M456 2095.6h0M289.8 2116h0M296.5 2109.8h0M456 2087.7h0M408.1 2101.6h0M396.2 2102.3h0M414.3 2108.5h0M365.5 2087h0M381.6 2121.4h0M450.8 2127.3h0M412 2110h0M423.2 2106.4h0M374.3 2118.7h0M451 2080.4h0M453.6 2112.7h0M435.5 2088.3h0M361.2 2104.3h0M334.8 2080h0M451.7 2091.5h0M439.7 2123.5h0M415 2108.2h0M417.4 2099.8h0M428.3 2072.1h0M368.6 2088.2h0M436.6 2127.3h0M382.3 2095.4h0M324.3 2116.8h0M305.6 2076.3h0M370.2 2099h0M448.5 2035.6h0M436.3 2084.8h0M422.4 2099.7h0M423.4 2125.6h0M420.5 2105.1h0M365.9 2103.3h0M403 2117.7h0M432.4 2008.8h0M433.4 2111.8h0M370.4 2107.5h0M411.5 2096.6h0M358.7 2118.2h0M463 2103.2h0M400.6 2122h0M345.5 2121.5h0M385.4 2111.3h0M403.4 2121.9h0M337.7 2106.4h0M389.8 2100.8h0M447.3 2113.8h0M398.8 2110.8h0M405.8 2126.2h0M383.1 2078.5h0M353.1 2099.6h0M386.5 2052.5h0M462.3 2081.5h0M448.7 2093.8h0M400.9 2101.8h0M413.5 2084.6h0M354 2124h0M408 2063.8h0M380.7 2106.4h0M454.9 2101.8h0M421.1 1992.6h0M407.4 2113.1h0M416.2 2093.3h0M460.5 2108.3h0M321.8 2044.7h0M447.9 2125.4h0M462.6 2122.3h0M415.1 2108.3h0M462.7 2126.5h0M391.1 2118.1h0M372.4 2098h0M358.5 2126h0M361.5 2123.7h0M456.9 2101.2h0M437 2095.5h0M409.8 2085h0M421.6 2117.5h0M456.3 2074.1h0M460 2126.6h0M462.8 2121.5h0M412.2 2107.1h0M446.8 2101h0M461.7 2099.8h0M369.6 2108.9h0M406.4 2095.4h0M441 2098.3h0M350.2 2112.4h0M435.9 2070.3h0M424.6 2073.4h0M376.9 2096.4h0M397.5 2126.1h0M375.4 2122.4h0M370.2 2107.7h0M423.6 2117.7h0M374.6 2106.5h0M437.7 2091.1h0M341.2 2119.1h0M459 2070h0M438.6 2054h0M448.3 2068h0M434.2 2113.8h0M312.4 2115h0M390.6 2123.1h0M379.9 2125h0M362.1 2031h0M390.6 2010.1h0M392.2 2126.9h0M363.7 2059.8h0M408 2089.5h0M369.7 2123.1h0M373.5 2041.2h0M404.6 2123.9h0M452.8 2104.4h0M419.6 2106.9h0M344.9 2124.4h0M366 2113.2h0M441.5 2097.1h0M291.9 2088.1h0M443 2060.6h0M419.5 2106.9h0M417.6 2079.3h0M462.5 2111.4h0M435.2 2103.7h0M395.1 2083h0M387.7 2114.3h0M412.6 2113h0M459.5 2093.5h0M454.6 2102.9h0M416.3 2080.7h0M444.7 2081.5h0M421.2 2081h0M431.8 2126.3h0M363.4 2117.6h0M365.4 2080.8h0M447.9 2071h0M427.8 2113.7h0M438 2104.9h0M462.6 2115.5h0M454.4 2090.3h0M387.4 2124.3h0M406.7 2099.6h0M454.1 2059.4h0M398.7 2113.5h0M345.8 2123.1h0M360.9 2094.9h0M429.8 2087.9h0M421.7 2084.6h0M437.1 2113.9h0M420 2081.5h0M457.6 2082.4h0M329.9 2100h0M444.4 2095.3h0M460.8 2104.3h0M457.5 2101.2h0M432 2079.2h0M419.7 2103h0M430.9 2114.2h0M420.6 2109.7h0M451.3 2039.4h0M452.9 2093.9h0M452.8 2081.4h0M426.4 2035.9h0M366.3 2115.1h0M451.7 2063.4h0M387.4 2085.5h0M406.1 2109.7h0M426.5 2086.8h0M461.7 2101.8h0M419.3 2117.6h0M299.9 2121.4h0M450.4 2127.1h0M354.4 2087.4h0M385.5 2105.3h0M444.7 2076.6h0M324.6 2124h0M382.3 2126.6h0M352.5 2110.9h0M445.3 2085.1h0M383.6 2108.1h0M357.3 2100.2h0M448.8 2050.3h0M424.1 2107.8h0M437.9 2097.2h0M390.3 2119.4h0M376.3 2120.5h0M334.4 2116.8h0M446.9 2111.3h0M452.6 2075.3h0M412.7 2083h0M451.7 2041.5h0M450.7 2109.7h0M435.5 2117.3h0M444.9 2126.7h0M392 2110.5h0M429.1 2088.9h0M397.4 2116.8h0M434.3 2104.9h0M434.4 2059h0M379.5 2113.7h0M411.9 2097.7h0M398.4 2080.1h0M448 2127.2h0M313.6 2115.7h0M450.9 2099.6h0M383.8 2114.3h0M432.9 2072h0M438.1 2096.4h0M339.9 2113.3h0M412 2083.2h0M311.5 2096.1h0M445.6 2079.6h0M388.2 2126.5h0M455.1 2074.9h0M422.1 2081.6h0M319.5 2113.8h0M444.3 2095.9h0M312.3 2122h0M418.3 2097.3h0M397.8 2120.8h0M341.6 2120.3h0M435.7 2103h0M363.7 2120h0M384.8 2119.4h0M447.3 2093.6h0M346.7 1883.2h0M180 1904.6h0M437.8 1932.6h0M203.5 1956.2h0M157.5 1972.7h0M237.6 1972.1h0M228.8 1977.1h0M414.2 1949.1h0M398.9 1956.2h0M418.6 1961.7h0M439.5 1969.4h0M378.6 1982.6h0M398.3 1981.5h0M314.4 1993.5h0M347.3 1994.1h0M341.3 2000.1h0M434 2007.8h0M186.5 2050.6h0M250.7 2034.1h0M239.2 2052.2h0M252.9 2048.4h0M265.5 2053.9h0M265 2060.5h0M295.7 2031.4h0M289.7 2042.4h0M315.5 2040.7h0M324.2 2044.5h0M346.7 2031.4h0"/>
<path fill="none" stroke="#5fc7a3" stroke-width="3.6" stroke-linecap="round" d="M450.7 2081h1.2M459.4 2081h0.8M420.2 2082h1.2M443.4 2082h0.8M449.9 2082h1.8M458.2 2082h4M419.9 2083h1M457.2 2086h1.2M456.7 2087h2.8M456.2 2088h3.2M457.4 2089h2.2M423.2 2091h0.8M433.2 2091h1.2M452.7 2091h2M431.7 2092h5.5M451.9 2092h3.2M434.2 2093h2.8M451.4 2093h3.2M449.2 2094h3.2M458.2 2094h1.2M455.9 2095h3.2M406.2 2096h0.8M456.2 2096h3.2M405.4 2097h0.8M457.2 2097h3.5M369.2 2098h2.2M438.4 2098h2.5M458.7 2098h2.5M438.2 2099h1.2M459.2 2099h2M437.4 2100h1.5M445.4 2100h1M458.7 2100h2.8M457.4 2101h3.8M460.7 2102h1M461.2 2103h1.2M361.9 2104h2M460.9 2104h1M360.9 2105h1M430.9 2105h0.8M443.9 2105h0.8M419.7 2106h0.8M430.4 2106h2.2M442.7 2106h3.8M450.9 2106h2.2M460.4 2106h0.8M385.7 2107h1.5M429.9 2107h2M442.4 2107h1.2M450.4 2107h11.2M384.4 2108h1.8M429.4 2108h1.5M450.4 2108h10.5M384.4 2109h1.5M436.7 2109h2.2M450.9 2109h8.2M384.9 2110h1.5M435.4 2110h4.2M450.9 2110h7.8M385.4 2111h1.5M419.2 2111h3M433.9 2111h3.5M450.7 2111h8.2M385.9 2112h1.5M398.9 2112h2M433.9 2112h3M445.9 2112h1.2M450.2 2112h10M461.4 2112h0.8M385.7 2113h3.8M398.4 2113h0.8M434.4 2113h2.2M446.4 2113h4M453.9 2113h7.8M387.2 2114h0.8M407.9 2114h0.8M435.9 2114h1.2M442.4 2114h1.2M447.4 2114h2.5M454.4 2114h7.5M407.4 2115h0.8M414.2 2115h1M436.7 2115h1.2M454.2 2115h8.2M413.9 2116h2.5M429.9 2116h0.8M436.7 2116h2.2M453.4 2116h8.5M400.9 2117h1M409.2 2117h0.8M412.7 2117h5.2M435.9 2117h3.8M443.2 2117h2M446.4 2117h1.8M451.2 2117h10.2M399.2 2118h2M409.2 2118h6M418.2 2118h8.2M430.7 2118h2.8M434.4 2118h27.2M390.7 2119h3.8M399.4 2119h1M408.9 2119h5M419.9 2119h8M429.9 2119h32.2M374.2 2120h1M392.7 2120h3M398.9 2120h1.5M408.4 2120h4.5M420.7 2120h42M373.2 2121h2.5M393.2 2121h0.8M405.9 2121h6.5M421.2 2121h41.5M345.7 2122h3.2M373.2 2122h2M392.7 2122h0.8M404.7 2122h8M421.7 2122h25M447.7 2122h15M357.2 2123h2M372.7 2123h1.8M392.4 2123h1.2M402.4 2123h2.2M408.2 2123h5.8M421.4 2123h24M448.9 2123h13M356.2 2124h4.8M371.2 2124h2.8M402.9 2124h1.2M408.7 2124h9.2M422.4 2124h15.2M440.7 2124h4.5M449.2 2124h12.5M357.9 2125h1.5M387.2 2125h1.2M402.4 2125h2M409.4 2125h7M423.2 2125h3M427.4 2125h9.8M441.4 2125h4.2M448.7 2125h13.5M387.2 2126h1M413.2 2126h2.8M428.9 2126h8M444.7 2126h11.8M459.7 2126h2.8M433.2 2127h0.8M447.4 2127h4.2"/>
<path fill="none" stroke="#f4511e" stroke-width="3.6" stroke-linecap="round" d="M565.7 2100.3h0M559.5 2027.6h0M530.8 2077.4h0M533.3 2077.4h0M558.9 2105.3h0M547.3 2120.7h0M574 2075.5h0M544.4 2125.5h0M571 2116.8h0M550.2 2100.1h0M535.7 2126.1h0M552.2 2117.6h0M565.1 2123.8h0M548.6 2077.8h0M527.8 2068.3h0M568.4 2072.1h0M574.7 2043.3h0M555.7 2114.2h0M527.7 2127.2h0M525.2 2084.1h0M600.5 2124.3h0M528.7 2090.4h0M524.2 2114.4h0M607.9 2093.6h0M540.9 2111.7h0M559.8 2080.3h0M606.2 2109.5h0M684.9 2073.9h0M553.8 2125.4h0M568.4 2098.3h0M529.1 2095.1h0M533.3 2095.8h0M572.2 2118.5h0M539 2116.6h0M524.8 2082.7h0M530.8 2062.5h0M623.7 2066.5h0M529.4 2099.8h0M541.5 2060.6h0M554.8 2112.7h0M551.2 2123.5h0M559.2 2109.2h0M598.7 2108.3h0M540.1 2118.6h0M590.5 2056.6h0M575.5 2119.2h0M525.4 2122.4h0M536.3 2111.2h0M557.8 2111.9h0M539.9 2089.7h0M572.6 2114.6h0M537.5 2081.1h0M528.4 2092.8h0M609.4 2106h0M596 2109.3h0M564.8 2119.7h0M557.1 2070.5h0M551.1 2103.4h0M562 2122.1h0M538.1 2111.7h0M583.5 2072.7h0M570.5 2102.6h0M535.6 2103.1h0M544.3 2067.1h0M556.5 2121.6h0M541.2 2119.3h0M555.4 2094.6h0M545.6 2109.7h0M532.4 2126.6h0M536.9 2075.4h0M540.3 2096.3h0M532.6 2101.2h0M569 2075.1h0M532.9 2096.7h0M573.8 2080.3h0M606.6 2080.8h0M527.4 2059.3h0M544 2070.9h0M555.5 2072.8h0M611.9 2106.9h0M567.5 2085.1h0M545.2 2058.6h0M530 2126.7h0M547 2104.6h0M542.7 2071.7h0M562.1 2115.7h0M599.4 2079.3h0M542 2121.2h0M585.1 2075.4h0M595.9 2124.3h0M567.6 2116.9h0M568.3 2097.6h0M548.7 2076.9h0M533.7 2106.9h0M543.9 2115.3h0M553.9 2057.6h0M540.8 2090.5h0M586.5 2090h0M641.4 2049.8h0M560.1 2120.8h0M585.6 2122.8h0M591.8 2120.3h0M551.6 2111.3h0M530.9 2087.8h0M580.1 2104.7h0M557.3 2103.5h0M561.1 2120.6h0M565.9 2119.3h0M549.4 2077.9h0M540.5 2070.2h0M662.4 1961.6h0M565.1 2069.7h0M567.1 2101.2h0M524.2 2117.3h0M591.2 2058.9h0M535.6 2094.6h0M613.5 2070h0M538.1 2125.8h0M524.8 2069.8h0M641.3 2051.4h0M530.3 2105.3h0M534.6 2068.7h0M598.4 2120.6h0M530.3 2076.4h0M569.6 2074.5h0M554.9 2114.2h0M550 2083.7h0M650.7 2099.7h0M537.8 2104.6h0M549.5 2098.3h0M566.1 2097.5h0M531 2126.6h0M556.7 2090.2h0M598 2100.5h0M578.6 2099.9h0M594.9 2108.1h0M551.2 2097.4h0M571.8 2122.6h0M543.5 2123.3h0M557.1 2087.8h0M614.9 2121.8h0M567.8 2115.7h0M532.6 2109.7h0M618 2113.9h0M532 2051h0M559.4 2116.8h0M561.2 2103h0M566.9 2106.1h0M582.4 2117.5h0M524.9 2064.9h0M528.8 2076.4h0M548.2 2074.4h0M631.1 2117.6h0M582.4 1997.3h0M544 2117.4h0M598.6 2071.1h0M611.2 2094.7h0M578.5 2095.7h0M578.3 2109.2h0M534.2 2098.7h0M545.9 2095.6h0M525.1 2073.7h0M532.5 2063.8h0M536.9 2048.4h0M528.8 2075.7h0M610.8 2084.1h0M590.2 2017.1h0M543.5 2081.5h0M578.3 2084.9h0M628.7 2047.5h0M557.4 2047.9h0M569 2100.2h0M554 2094.1h0M556.3 2093.2h0M601.1 2113.9h0M548.2 2120.8h0M528.4 2116.3h0M551.2 2107.6h0M538.7 2107.1h0M524.7 2103.7h0M530.3 2092.3h0M581.2 2108.7h0M631.5 2076.7h0M558 2127.1h0M562.5 2077.2h0M536.2 2085.3h0M575.9 2057.7h0M590 2071.1h0M524.9 2119.8h0M574.1 2108.3h0M552 2109.7h0M559.6 2127.2h0M564.9 2123.6h0M530.3 2054.1h0M528 2101.1h0M537.2 2127.4h0M541.9 2126.4h0M593.2 2127h0M560 2105.5h0M526 2110.3h0M539.9 2088.1h0M546.4 2052.9h0M598.4 2124.9h0M544.5 2092.6h0M610.7 2121.9h0M531.8 2070.8h0M543.6 2117.2h0M529.2 2112.7h0M554.4 2088.7h0M636.2 2025.7h0M589.7 2020.4h0M566.2 2124.9h0M540.7 2056.1h0M545 2118.2h0M587.7 2125.5h0M525.8 2096.6h0M573.2 2116.8h0M540.4 2074h0M585.1 2101.8h0M539.2 2055.6h0M546.6 2118.7h0M535 2048.3h0M555.3 2122.7h0M553.7 2101.8h0M552.4 2082.1h0M524.3 2114.7h0M529.6 2078.4h0M607.4 2104.6h0M561.3 2115.2h0M535.7 2075.6h0M528.2 2114.2h0M571.5 2075.7h0M541.3 2100.1h0M542.6 2096.9h0M646.6 2087h0M622.4 2104.7h0M524.4 2118.2h0M551.1 2125h0M538.8 2099.2h0M545 2096.6h0M545 2098h0M537.4 2100h0M567.9 2094.8h0M534 2068.9h0M561.9 2080.5h0M608.9 2093.2h0M574.6 2007.6h0M534.5 2104.7h0M590.2 2073.6h0M559 2121.7h0M543 2065.4h0M553.2 2107.8h0M534.2 2087.6h0M577.9 2060.5h0M542.2 2106.1h0M601.4 2126.6h0M527.6 2087h0M573.6 2038.8h0M555.8 2104.2h0M545.1 2112.2h0M552.7 2104.1h0M603.9 2026.9h0M558.3 2108.9h0M532.2 2092.3h0M547.3 2095.1h0M537.1 2101.2h0M607.6 2084.5h0M547.5 2110.4h0M588.1 2065.5h0M557 2048.2h0M584.7 2114h0M549.9 2086.8h0M592.3 2059.7h0M586.3 2116.9h0M545.6 2100.9h0M550.1 2065.5h0M554 2118.7h0M640.8 2020.5h0M562.2 2110.4h0M551.9 2075.8h0M619.8 2125.8h0M535.5 2054.3h0M533.5 2047.4h0M540.6 2105.2h0M576.6 2052.2h0M526.5 2107.2h0M559.7 2047.8h0M526.4 2085.8h0M536.5 2109.8h0M535 2046.5h0M553.4 2068.3h0M608 2079h0M604.7 2070.2h0M601.5 2073.8h0M586.4 2073.3h0M544.8 2089.7h0M529.6 2126.7h0M529.3 2088.3h0M688.2 2097.4h0M580.9 2119.5h0M525.1 2123.7h0M572.9 2018.2h0M563.7 2017.6h0M538.6 2113.2h0M532.6 2110.7h0M551.2 2044.5h0M548.8 2127.3h0M574.5 2075.3h0M537.4 2094.5h0M545 2059.4h0M580.6 2100.5h0M645.1 2118.8h0M530.8 2072.7h0M564.6 2107.8h0M595.9 2103.7h0M532.8 2091.7h0M525.2 2093.9h0M563.9 2078.8h0M546.9 2073.3h0M527.5 2103.8h0M533.4 2097h0M549.1 2058.4h0M550.3 2119.8h0M549 2118.3h0M675.7 2120.4h0M547.1 2073.7h0M563.1 2095.3h0M641.2 2065h0M586.1 2126.2h0M542.5 2126.1h0M534.3 2076.1h0M569 2114.3h0M525 2111.1h0M543.4 2122.9h0M552.2 2126.5h0M527.3 2084.9h0M592.5 2120.9h0M538.9 2115.6h0M576.8 2115.9h0M528.7 2084h0M552.1 2090.9h0M544.1 2109.4h0M542.9 2105.3h0M575.1 2120.3h0M524.8 2093.5h0M567.4 2116.6h0M550.6 2114.7h0M528.6 2067.9h0M565.2 2109.9h0M552.3 2063.2h0M541.3 2094.6h0M530.5 2108.2h0M538.4 2077.4h0M548.2 2110h0M573.9 2106.5h0M542.9 2090.6h0M570 2118h0M575 2053.7h0M563.3 2037.1h0M579.9 2088.8h0M594.5 2120.9h0M567.2 2110.3h0M534.2 2121.5h0M577.7 2124h0M546.6 2113.3h0M564.9 2073.3h0M545.7 2100.8h0M545.9 2125.5h0M554.3 2127.2h0M582.4 2123.8h0M527.8 2055.4h0M569.2 2124.7h0M544.5 2066.8h0M562.9 1591.4h0M578.8 1669.3h0M614.5 1743.9h0M596.4 1819.6h0M610.1 1822.3h0M556.3 1916.2h0M561.8 1922.2h0M797.2 1956.2h0M624.9 1956.8h0M649.6 1977.1h0M754.4 2006.7h0M621.1 1983.6h0M757.7 2062.7h0M688.5 2065.9h0M696.2 2064.8h0M699 2084h0M739.6 2088.4h0M669.3 2078.6h0M665.5 2091.2h0M655.6 2094.5h0M681.4 2098.3h0M678.7 2104.3h0M585.4 1977.1h0M573.3 1979.3h0M560.2 1970.5h0M555.8 1970.5h0"/>
<path fill="none" stroke="#ff8a5c" stroke-width="3.6" stroke-linecap="round" d="M534.5 2047h0.8M534.5 2048h1.5M529.7 2077h0.8M528 2088h0.8M528 2089h0.8M554.7 2089h1.5M554.5 2090h2M553.2 2091h2.8M529 2092h0.8M553.7 2092h2M554.2 2093h2M554.2 2094h1.5M540.2 2096h1.2M544 2097h0.8M567.2 2097h0.8M566.5 2098h1.8M566.7 2099h1.5M534.2 2100h1.2M566.2 2100h2.5M535.7 2101h1.5M527.2 2105h0.8M527.2 2106h2.5M526.5 2107h3M527 2108h3M551 2108h1.8M527 2109h5.2M549.7 2109h2.5M527.5 2110h5M545.2 2110h0.8M550.5 2110h1.2M528.7 2111h3.5M545.7 2111h0.8M529.2 2112h2.5M537 2112h1.8M529.2 2113h2.8M536.7 2113h2M545 2113h1.2M528.7 2114h4.5M536 2114h2.5M544.2 2114h1.8M526.7 2115h12M544.2 2115h2M524.7 2116h14.2M544.2 2116h1.5M568 2116h1.2M524.5 2117h2.5M530.2 2117h8.8M544 2117h1.8M568.7 2117h4.5M524.5 2118h2M530.7 2118h8.8M545 2118h1.5M571.2 2118h4M525 2119h1.8M530.5 2119h10.2M547 2119h3.5M525.5 2120h2.5M529.2 2120h11.8M547.5 2120h1.8M526 2121h8.8M536.7 2121h4.8M560.2 2121h1.5M525.7 2122h8M537.5 2122h4.8M556.2 2122h1.2M525.5 2123h7.8M537.5 2123h6M555.5 2123h1.8M525.5 2124h8M537 2124h2.2M541.5 2124h1.8M555.2 2124h1.8M585.5 2124h1.2M526 2125h8.8M535.7 2125h2.8M542.2 2125h1.5M554.7 2125h2.8M586.2 2125h1M526.7 2126h6M535.7 2126h2M551.2 2126h4.2M556.7 2126h1.2M527.2 2127h1M558 2127h1"/>
<path fill="none" stroke="#141414" stroke-width="2.2" stroke-linejoin="round" d="M91.7 1560V2162.7H895.5M188.1 2162.7v4.7M340.9 2162.7v4.7M493.6 2162.7v4.7M646.4 2162.7v4.7M799.1 2162.7v4.7M91.7 2135.5h-4.7M91.7 1982.6h-4.7M91.7 1829.8h-4.7M91.7 1676.9h-4.7"/>
<g font-size="13.5" fill="#333" stroke="#333" stroke-width="0.2">
<text transform="translate(188.1 2180.5) scale(1 1.05)" text-anchor="middle">-10</text>
<text transform="translate(340.9 2180.5) scale(1 1.05)" text-anchor="middle">-5</text>
<text transform="translate(493.6 2180.5) scale(1 1.05)" text-anchor="middle">0</text>
<text transform="translate(646.4 2180.5) scale(1 1.05)" text-anchor="middle">5</text>
<text transform="translate(799.1 2180.5) scale(1 1.05)" text-anchor="middle">10</text>
<text transform="translate(83.7 2140.4) scale(1 1.05)" text-anchor="end">0</text>
<text transform="translate(83.7 1987.5) scale(1 1.05)" text-anchor="end">25</text>
<text transform="translate(83.7 1834.6) scale(1 1.05)" text-anchor="end">50</text>
<text transform="translate(83.7 1681.8) scale(1 1.05)" text-anchor="end">75</text>
</g>
<g stroke="#000" stroke-width="0.2">
<text transform="translate(493.6 2200.45) scale(1 1.05)" font-size="17.3" text-anchor="middle">Log2(FC)</text>
<text transform="translate(61 1859.85) rotate(-90) scale(1 1.05)" font-size="17.3" text-anchor="middle">FDR(BH adjust, -log10)</text>
<text transform="translate(495 1584.26) scale(1 1.05)" font-size="20.1" text-anchor="middle">GSE153434</text>
<text transform="translate(249.2 1652.55) scale(1 1.05)" font-size="17.3" text-anchor="middle">Down: 882</text>
<text transform="translate(738 1652.55) scale(1 1.05)" font-size="17.3" text-anchor="middle">Up: 514</text>
<text transform="translate(922 1823.15) scale(1 1.05)" font-size="17.3">Type</text>
<circle cx="935" cy="1846.5" r="1.8" fill="#1fa37b" stroke="none"/>
<text transform="translate(956.8 1851.45) scale(1 1.05)" font-size="13.7">Down</text>
<circle cx="935" cy="1873.4" r="1.8" fill="#000000" stroke="none"/>
<text transform="translate(956.8 1878.35) scale(1 1.05)" font-size="13.7">NS</text>
<circle cx="935" cy="1900.3" r="1.8" fill="#f4511e" stroke="none"/>
<text transform="translate(956.8 1905.25) scale(1 1.05)" font-size="13.7">Up</text>
</g>
</g>
<text x="493.6" y="2200.15" font-size="17.3" text-anchor="middle">Log2(FC)</text>
<text transform="translate(61 1859.85) rotate(-90)" font-size="17.3" text-anchor="middle">FDR(BH adjust, -log10)</text>
<text x="495" y="1583.88" font-size="20" text-anchor="middle">GSE153434</text>
<text x="249.2" y="1652.25" font-size="17.3" text-anchor="middle">Down: 882</text>
<text x="738" y="1652.25" font-size="17.3" text-anchor="middle">Up: 514</text>
<text x="922" y="1822.85" font-size="17.3">Type</text>
<circle cx="934.5" cy="1846.5" r="1.8" fill="#1fa37b"/>
<text x="957" y="1851.21" font-size="13.7">Down</text>
<circle cx="934.5" cy="1873.4" r="1.8" fill="#000000"/>
<text x="957" y="1878.11" font-size="13.7">NS</text>
<circle cx="934.5" cy="1900.3" r="1.8" fill="#f4511e"/>
<text x="957" y="1905.01" font-size="13.7">Up</text>
</g>
<g id="hD1">
<g shape-rendering="crispEdges">
<path fill="#5888be" d="M1089 537.4H1142.7V548.3H1089zM1089 548.3H1142.7V559.2H1089zM1303.9 613.6H1357.6V624.5H1303.9z"/>
<path fill="#6b9ac8" d="M1357.6 134.9H1411.3V145.8H1357.6zM1411.3 276.3H1465V287.2H1411.3zM1518.8 309H1572.5V319.8H1518.8zM1465 319.8H1518.8V330.7H1465zM1518.8 330.7H1572.5V341.6H1518.8zM1357.6 406.9H1411.3V417.8H1357.6zM1250.2 504.8H1303.9V515.7H1250.2zM1089 526.6H1142.7V537.4H1089zM1142.7 581H1196.4V591.8H1142.7zM1196.4 581H1250.2V591.8H1196.4zM1303.9 591.8H1357.6V602.7H1303.9z"/>
<path fill="#7eacd1" d="M1465 287.2H1518.8V298.1H1465zM1518.8 287.2H1572.5V298.1H1518.8zM1572.5 341.6H1626.2V352.5H1572.5zM1465 352.5H1518.8V363.4H1465zM1357.6 374.2H1411.3V385.1H1357.6zM1518.8 439.5H1572.5V450.4H1518.8zM1089 450.4H1142.7V461.3H1089zM1089 461.3H1142.7V472.2H1089zM1250.2 493.9H1303.9V504.8H1250.2zM1089 646.2H1142.7V657.1H1089z"/>
<path fill="#91bfdb" d="M1357.6 145.8H1411.3V156.6H1357.6zM1411.3 145.8H1465V156.6H1411.3zM1518.8 145.8H1572.5V156.6H1518.8zM1357.6 167.5H1411.3V178.4H1357.6zM1572.5 167.5H1626.2V178.4H1572.5zM1357.6 200.2H1411.3V211H1357.6zM1465 211H1518.8V221.9H1465zM1357.6 221.9H1411.3V232.8H1357.6zM1518.8 232.8H1572.5V243.7H1518.8zM1465 243.7H1518.8V254.6H1465zM1518.8 243.7H1572.5V254.6H1518.8zM1411.3 265.4H1465V276.3H1411.3zM1518.8 276.3H1572.5V287.2H1518.8zM1465 298.1H1518.8V309H1465zM1518.8 298.1H1572.5V309H1518.8zM1465 309H1518.8V319.8H1465zM1465 330.7H1518.8V341.6H1465zM1465 341.6H1518.8V352.5H1465zM1357.6 352.5H1411.3V363.4H1357.6zM1357.6 363.4H1411.3V374.2H1357.6zM1465 363.4H1518.8V374.2H1465zM1465 374.2H1518.8V385.1H1465zM1465 417.8H1518.8V428.6H1465zM1679.9 417.8H1733.6V428.6H1679.9zM1357.6 439.5H1411.3V450.4H1357.6zM1142.7 461.3H1196.4V472.2H1142.7zM1089 472.2H1142.7V483H1089zM1196.4 472.2H1250.2V483H1196.4zM1303.9 472.2H1357.6V483H1303.9zM1196.4 483H1250.2V493.9H1196.4zM1250.2 483H1303.9V493.9H1250.2zM1089 493.9H1142.7V504.8H1089zM1142.7 493.9H1196.4V504.8H1142.7zM1142.7 504.8H1196.4V515.7H1142.7zM1089 515.7H1142.7V526.6H1089zM1250.2 515.7H1303.9V526.6H1250.2zM1142.7 526.6H1196.4V537.4H1142.7zM1250.2 526.6H1303.9V537.4H1250.2zM1250.2 537.4H1303.9V548.3H1250.2zM1142.7 559.2H1196.4V570.1H1142.7zM1250.2 559.2H1303.9V570.1H1250.2zM1303.9 559.2H1357.6V570.1H1303.9zM1089 570.1H1142.7V581H1089zM1303.9 570.1H1357.6V581H1303.9zM1089 591.8H1142.7V602.7H1089zM1089 602.7H1142.7V613.6H1089zM1142.7 602.7H1196.4V613.6H1142.7zM1196.4 602.7H1250.2V613.6H1196.4zM1303.9 624.5H1357.6V635.4H1303.9zM1089 657.1H1142.7V668H1089zM1250.2 657.1H1303.9V668H1250.2z"/>
<path fill="#a5cce2" d="M1465 178.4H1518.8V189.3H1465zM1626.2 189.3H1679.9V200.2H1626.2zM1626.2 211H1679.9V221.9H1626.2zM1518.8 221.9H1572.5V232.8H1518.8zM1465 232.8H1518.8V243.7H1465zM1679.9 254.6H1733.6V265.4H1679.9zM1357.6 265.4H1411.3V276.3H1357.6zM1572.5 287.2H1626.2V298.1H1572.5zM1411.3 298.1H1465V309H1411.3zM1357.6 309H1411.3V319.8H1357.6zM1411.3 319.8H1465V330.7H1411.3zM1518.8 319.8H1572.5V330.7H1518.8zM1357.6 330.7H1411.3V341.6H1357.6zM1518.8 352.5H1572.5V363.4H1518.8zM1518.8 363.4H1572.5V374.2H1518.8zM1518.8 374.2H1572.5V385.1H1518.8zM1357.6 385.1H1411.3V396H1357.6zM1465 385.1H1518.8V396H1465zM1357.6 396H1411.3V406.9H1357.6zM1518.8 396H1572.5V406.9H1518.8zM1518.8 406.9H1572.5V417.8H1518.8zM1357.6 417.8H1411.3V428.6H1357.6zM1518.8 417.8H1572.5V428.6H1518.8zM1518.8 428.6H1572.5V439.5H1518.8zM1250.2 450.4H1303.9V461.3H1250.2zM1303.9 450.4H1357.6V461.3H1303.9zM1196.4 461.3H1250.2V472.2H1196.4zM1142.7 472.2H1196.4V483H1142.7zM1142.7 483H1196.4V493.9H1142.7zM1196.4 493.9H1250.2V504.8H1196.4zM1250.2 548.3H1303.9V559.2H1250.2zM1089 559.2H1142.7V570.1H1089zM1142.7 570.1H1196.4V581H1142.7zM1303.9 602.7H1357.6V613.6H1303.9zM1089 613.6H1142.7V624.5H1089zM1142.7 624.5H1196.4V635.4H1142.7zM1142.7 635.4H1196.4V646.2H1142.7zM1196.4 646.2H1250.2V657.1H1196.4zM1142.7 657.1H1196.4V668H1142.7zM1196.4 657.1H1250.2V668H1196.4z"/>
<path fill="#b8d9ea" d="M1411.3 124H1465V134.9H1411.3zM1518.8 124H1572.5V134.9H1518.8zM1572.5 124H1626.2V134.9H1572.5zM1626.2 124H1679.9V134.9H1626.2zM1411.3 134.9H1465V145.8H1411.3zM1572.5 134.9H1626.2V145.8H1572.5zM1357.6 156.6H1411.3V167.5H1357.6zM1411.3 156.6H1465V167.5H1411.3zM1465 156.6H1518.8V167.5H1465zM1518.8 156.6H1572.5V167.5H1518.8zM1572.5 156.6H1626.2V167.5H1572.5zM1679.9 156.6H1733.6V167.5H1679.9zM1465 167.5H1518.8V178.4H1465zM1357.6 178.4H1411.3V189.3H1357.6zM1572.5 178.4H1626.2V189.3H1572.5zM1465 189.3H1518.8V200.2H1465zM1572.5 189.3H1626.2V200.2H1572.5zM1411.3 200.2H1465V211H1411.3zM1465 200.2H1518.8V211H1465zM1572.5 200.2H1626.2V211H1572.5zM1357.6 211H1411.3V221.9H1357.6zM1572.5 211H1626.2V221.9H1572.5zM1411.3 221.9H1465V232.8H1411.3zM1465 221.9H1518.8V232.8H1465zM1357.6 232.8H1411.3V243.7H1357.6zM1411.3 232.8H1465V243.7H1411.3zM1357.6 243.7H1411.3V254.6H1357.6zM1411.3 243.7H1465V254.6H1411.3zM1357.6 254.6H1411.3V265.4H1357.6zM1518.8 265.4H1572.5V276.3H1518.8zM1679.9 265.4H1733.6V276.3H1679.9zM1679.9 276.3H1733.6V287.2H1679.9zM1572.5 298.1H1626.2V309H1572.5zM1411.3 309H1465V319.8H1411.3zM1357.6 319.8H1411.3V330.7H1357.6zM1411.3 330.7H1465V341.6H1411.3zM1572.5 374.2H1626.2V385.1H1572.5zM1518.8 385.1H1572.5V396H1518.8zM1572.5 385.1H1626.2V396H1572.5zM1572.5 396H1626.2V406.9H1572.5zM1572.5 406.9H1626.2V417.8H1572.5zM1357.6 428.6H1411.3V439.5H1357.6zM1411.3 428.6H1465V439.5H1411.3zM1465 428.6H1518.8V439.5H1465zM1465 439.5H1518.8V450.4H1465zM1142.7 450.4H1196.4V461.3H1142.7zM1196.4 450.4H1250.2V461.3H1196.4zM1303.9 461.3H1357.6V472.2H1303.9zM1089 483H1142.7V493.9H1089zM1303.9 483H1357.6V493.9H1303.9zM1089 504.8H1142.7V515.7H1089zM1196.4 504.8H1250.2V515.7H1196.4zM1142.7 515.7H1196.4V526.6H1142.7zM1196.4 515.7H1250.2V526.6H1196.4zM1303.9 515.7H1357.6V526.6H1303.9zM1303.9 526.6H1357.6V537.4H1303.9zM1142.7 548.3H1196.4V559.2H1142.7zM1303.9 548.3H1357.6V559.2H1303.9zM1196.4 559.2H1250.2V570.1H1196.4zM1250.2 570.1H1303.9V581H1250.2zM1303.9 581H1357.6V591.8H1303.9zM1142.7 591.8H1196.4V602.7H1142.7zM1196.4 591.8H1250.2V602.7H1196.4zM1250.2 591.8H1303.9V602.7H1250.2zM1250.2 602.7H1303.9V613.6H1250.2zM1142.7 613.6H1196.4V624.5H1142.7zM1196.4 613.6H1250.2V624.5H1196.4zM1250.2 613.6H1303.9V624.5H1250.2zM1089 624.5H1142.7V635.4H1089zM1196.4 624.5H1250.2V635.4H1196.4zM1250.2 624.5H1303.9V635.4H1250.2zM1089 635.4H1142.7V646.2H1089zM1196.4 635.4H1250.2V646.2H1196.4zM1250.2 635.4H1303.9V646.2H1250.2zM1303.9 635.4H1357.6V646.2H1303.9zM1250.2 646.2H1303.9V657.1H1250.2zM1303.9 646.2H1357.6V657.1H1303.9z"/>
<path fill="#cce6f1" d="M1518.8 167.5H1572.5V178.4H1518.8zM1518.8 211H1572.5V221.9H1518.8zM1411.3 254.6H1465V265.4H1411.3zM1518.8 254.6H1572.5V265.4H1518.8zM1465 276.3H1518.8V287.2H1465zM1411.3 287.2H1465V298.1H1411.3zM1518.8 341.6H1572.5V352.5H1518.8zM1679.9 341.6H1733.6V352.5H1679.9zM1572.5 352.5H1626.2V363.4H1572.5zM1572.5 363.4H1626.2V374.2H1572.5zM1679.9 396H1733.6V406.9H1679.9zM1465 406.9H1518.8V417.8H1465zM1679.9 428.6H1733.6V439.5H1679.9zM1142.7 537.4H1196.4V548.3H1142.7zM1196.4 537.4H1250.2V548.3H1196.4zM1303.9 537.4H1357.6V548.3H1303.9zM1196.4 570.1H1250.2V581H1196.4zM1142.7 646.2H1196.4V657.1H1142.7z"/>
<path fill="#e0f3f8" d="M1357.6 124H1411.3V134.9H1357.6zM1679.9 124H1733.6V134.9H1679.9zM1465 134.9H1518.8V145.8H1465zM1626.2 134.9H1679.9V145.8H1626.2zM1465 145.8H1518.8V156.6H1465zM1411.3 167.5H1465V178.4H1411.3zM1679.9 167.5H1733.6V178.4H1679.9zM1411.3 178.4H1465V189.3H1411.3zM1518.8 178.4H1572.5V189.3H1518.8zM1357.6 189.3H1411.3V200.2H1357.6zM1518.8 189.3H1572.5V200.2H1518.8zM1518.8 200.2H1572.5V211H1518.8zM1411.3 211H1465V221.9H1411.3zM1465 254.6H1518.8V265.4H1465zM1572.5 254.6H1626.2V265.4H1572.5zM1357.6 287.2H1411.3V298.1H1357.6zM1572.5 330.7H1626.2V341.6H1572.5zM1357.6 341.6H1411.3V352.5H1357.6zM1411.3 363.4H1465V374.2H1411.3zM1411.3 385.1H1465V396H1411.3zM1411.3 396H1465V406.9H1411.3zM1411.3 439.5H1465V450.4H1411.3zM1679.9 439.5H1733.6V450.4H1679.9zM1250.2 472.2H1303.9V483H1250.2zM1303.9 504.8H1357.6V515.7H1303.9zM1196.4 548.3H1250.2V559.2H1196.4zM1089 581H1142.7V591.8H1089zM1250.2 581H1303.9V591.8H1250.2zM1303.9 657.1H1357.6V668H1303.9z"/>
<path fill="#e8f6ea" d="M1679.9 178.4H1733.6V189.3H1679.9zM1572.5 221.9H1626.2V232.8H1572.5zM1626.2 221.9H1679.9V232.8H1626.2zM1465 265.4H1518.8V276.3H1465zM1357.6 276.3H1411.3V287.2H1357.6zM1626.2 341.6H1679.9V352.5H1626.2zM1626.2 363.4H1679.9V374.2H1626.2zM1411.3 374.2H1465V385.1H1411.3zM1626.2 385.1H1679.9V396H1626.2zM1626.2 396H1679.9V406.9H1626.2zM1250.2 461.3H1303.9V472.2H1250.2zM1303.9 493.9H1357.6V504.8H1303.9z"/>
<path fill="#f0f9dc" d="M1465 124H1518.8V134.9H1465zM1679.9 134.9H1733.6V145.8H1679.9zM1626.2 145.8H1679.9V156.6H1626.2zM1679.9 145.8H1733.6V156.6H1679.9zM1626.2 178.4H1679.9V189.3H1626.2zM1411.3 189.3H1465V200.2H1411.3zM1679.9 189.3H1733.6V200.2H1679.9zM1626.2 200.2H1679.9V211H1626.2zM1626.2 232.8H1679.9V243.7H1626.2zM1679.9 232.8H1733.6V243.7H1679.9zM1626.2 243.7H1679.9V254.6H1626.2zM1626.2 254.6H1679.9V265.4H1626.2zM1572.5 265.4H1626.2V276.3H1572.5zM1357.6 298.1H1411.3V309H1357.6zM1572.5 309H1626.2V319.8H1572.5zM1572.5 319.8H1626.2V330.7H1572.5zM1411.3 341.6H1465V352.5H1411.3zM1411.3 352.5H1465V363.4H1411.3zM1679.9 352.5H1733.6V363.4H1679.9zM1679.9 363.4H1733.6V374.2H1679.9zM1679.9 374.2H1733.6V385.1H1679.9zM1679.9 385.1H1733.6V396H1679.9zM1465 396H1518.8V406.9H1465zM1411.3 406.9H1465V417.8H1411.3zM1626.2 406.9H1679.9V417.8H1626.2zM1411.3 417.8H1465V428.6H1411.3zM1626.2 428.6H1679.9V439.5H1626.2zM1572.5 439.5H1626.2V450.4H1572.5zM1626.2 657.1H1679.9V668H1626.2z"/>
<path fill="#f7fccd" d="M1572.5 243.7H1626.2V254.6H1572.5zM1679.9 319.8H1733.6V330.7H1679.9zM1626.2 352.5H1679.9V363.4H1626.2zM1626.2 374.2H1679.9V385.1H1626.2zM1679.9 406.9H1733.6V417.8H1679.9zM1572.5 417.8H1626.2V428.6H1572.5zM1196.4 526.6H1250.2V537.4H1196.4z"/>
<path fill="#ffffbf" d="M1518.8 134.9H1572.5V145.8H1518.8zM1572.5 145.8H1626.2V156.6H1572.5zM1626.2 156.6H1679.9V167.5H1626.2zM1626.2 167.5H1679.9V178.4H1626.2zM1679.9 200.2H1733.6V211H1679.9zM1679.9 211H1733.6V221.9H1679.9zM1679.9 221.9H1733.6V232.8H1679.9zM1572.5 232.8H1626.2V243.7H1572.5zM1626.2 265.4H1679.9V276.3H1626.2zM1572.5 276.3H1626.2V287.2H1572.5zM1626.2 276.3H1679.9V287.2H1626.2zM1626.2 287.2H1679.9V298.1H1626.2zM1679.9 287.2H1733.6V298.1H1679.9zM1679.9 298.1H1733.6V309H1679.9zM1626.2 309H1679.9V319.8H1626.2zM1679.9 309H1733.6V319.8H1679.9zM1626.2 319.8H1679.9V330.7H1626.2zM1626.2 330.7H1679.9V341.6H1626.2zM1679.9 330.7H1733.6V341.6H1679.9zM1572.5 428.6H1626.2V439.5H1572.5zM1626.2 439.5H1679.9V450.4H1626.2zM1626.2 515.7H1679.9V526.6H1626.2zM1626.2 526.6H1679.9V537.4H1626.2zM1626.2 537.4H1679.9V548.3H1626.2zM1626.2 548.3H1679.9V559.2H1626.2z"/>
<path fill="#fff7b3" d="M1679.9 243.7H1733.6V254.6H1679.9zM1626.2 298.1H1679.9V309H1626.2zM1572.5 450.4H1626.2V461.3H1572.5zM1626.2 624.5H1679.9V635.4H1626.2zM1626.2 635.4H1679.9V646.2H1626.2zM1626.2 646.2H1679.9V657.1H1626.2z"/>
<path fill="#fef0a8" d="M1142.7 189.3H1196.4V200.2H1142.7zM1250.2 254.6H1303.9V265.4H1250.2zM1626.2 417.8H1679.9V428.6H1626.2zM1572.5 483H1626.2V493.9H1572.5zM1572.5 493.9H1626.2V504.8H1572.5zM1572.5 504.8H1626.2V515.7H1572.5zM1572.5 515.7H1626.2V526.6H1572.5zM1411.3 581H1465V591.8H1411.3zM1626.2 581H1679.9V591.8H1626.2zM1626.2 591.8H1679.9V602.7H1626.2z"/>
<path fill="#fee89c" d="M1250.2 352.5H1303.9V363.4H1250.2zM1089 385.1H1142.7V396H1089zM1572.5 472.2H1626.2V483H1572.5zM1626.2 493.9H1679.9V504.8H1626.2zM1411.3 504.8H1465V515.7H1411.3zM1626.2 570.1H1679.9V581H1626.2zM1679.9 570.1H1733.6V581H1679.9zM1411.3 602.7H1465V613.6H1411.3zM1679.9 635.4H1733.6V646.2H1679.9zM1679.9 657.1H1733.6V668H1679.9z"/>
<path fill="#fee090" d="M1303.9 124H1357.6V134.9H1303.9zM1089 134.9H1142.7V145.8H1089zM1303.9 134.9H1357.6V145.8H1303.9zM1303.9 145.8H1357.6V156.6H1303.9zM1089 156.6H1142.7V167.5H1089zM1303.9 156.6H1357.6V167.5H1303.9zM1142.7 167.5H1196.4V178.4H1142.7zM1196.4 167.5H1250.2V178.4H1196.4zM1142.7 178.4H1196.4V189.3H1142.7zM1196.4 178.4H1250.2V189.3H1196.4zM1303.9 200.2H1357.6V211H1303.9zM1303.9 211H1357.6V221.9H1303.9zM1303.9 221.9H1357.6V232.8H1303.9zM1142.7 232.8H1196.4V243.7H1142.7zM1303.9 232.8H1357.6V243.7H1303.9zM1142.7 243.7H1196.4V254.6H1142.7zM1142.7 254.6H1196.4V265.4H1142.7zM1196.4 363.4H1250.2V374.2H1196.4zM1089 428.6H1142.7V439.5H1089zM1357.6 450.4H1411.3V461.3H1357.6zM1626.2 450.4H1679.9V461.3H1626.2zM1357.6 461.3H1411.3V472.2H1357.6zM1572.5 461.3H1626.2V472.2H1572.5zM1626.2 461.3H1679.9V472.2H1626.2zM1679.9 461.3H1733.6V472.2H1679.9zM1357.6 472.2H1411.3V483H1357.6zM1626.2 472.2H1679.9V483H1626.2zM1679.9 472.2H1733.6V483H1679.9zM1626.2 483H1679.9V493.9H1626.2zM1679.9 483H1733.6V493.9H1679.9zM1679.9 493.9H1733.6V504.8H1679.9zM1626.2 504.8H1679.9V515.7H1626.2zM1679.9 504.8H1733.6V515.7H1679.9zM1679.9 515.7H1733.6V526.6H1679.9zM1679.9 526.6H1733.6V537.4H1679.9zM1679.9 537.4H1733.6V548.3H1679.9zM1572.5 548.3H1626.2V559.2H1572.5zM1679.9 548.3H1733.6V559.2H1679.9zM1411.3 559.2H1465V570.1H1411.3zM1465 559.2H1518.8V570.1H1465zM1518.8 559.2H1572.5V570.1H1518.8zM1679.9 559.2H1733.6V570.1H1679.9zM1357.6 570.1H1411.3V581H1357.6zM1518.8 570.1H1572.5V581H1518.8zM1518.8 581H1572.5V591.8H1518.8zM1411.3 591.8H1465V602.7H1411.3zM1679.9 591.8H1733.6V602.7H1679.9zM1626.2 602.7H1679.9V613.6H1626.2zM1572.5 613.6H1626.2V624.5H1572.5zM1626.2 613.6H1679.9V624.5H1626.2zM1679.9 613.6H1733.6V624.5H1679.9zM1572.5 624.5H1626.2V635.4H1572.5zM1679.9 624.5H1733.6V635.4H1679.9zM1572.5 635.4H1626.2V646.2H1572.5zM1679.9 646.2H1733.6V657.1H1679.9z"/>
<path fill="#fdc37d" d="M1196.4 221.9H1250.2V232.8H1196.4zM1303.9 265.4H1357.6V276.3H1303.9zM1250.2 276.3H1303.9V287.2H1250.2zM1196.4 374.2H1250.2V385.1H1196.4zM1196.4 385.1H1250.2V396H1196.4zM1142.7 396H1196.4V406.9H1142.7zM1142.7 417.8H1196.4V428.6H1142.7zM1089 439.5H1142.7V450.4H1089zM1465 450.4H1518.8V461.3H1465zM1411.3 483H1465V493.9H1411.3zM1465 591.8H1518.8V602.7H1465zM1411.3 624.5H1465V635.4H1411.3zM1411.3 635.4H1465V646.2H1411.3zM1411.3 657.1H1465V668H1411.3zM1572.5 657.1H1626.2V668H1572.5z"/>
<path fill="#fdae6f" d="M1196.4 124H1250.2V134.9H1196.4zM1250.2 124H1303.9V134.9H1250.2zM1196.4 145.8H1250.2V156.6H1196.4zM1196.4 156.6H1250.2V167.5H1196.4zM1303.9 178.4H1357.6V189.3H1303.9zM1196.4 189.3H1250.2V200.2H1196.4zM1142.7 200.2H1196.4V211H1142.7zM1250.2 200.2H1303.9V211H1250.2zM1142.7 211H1196.4V221.9H1142.7zM1196.4 211H1250.2V221.9H1196.4zM1250.2 211H1303.9V221.9H1250.2zM1142.7 221.9H1196.4V232.8H1142.7zM1250.2 221.9H1303.9V232.8H1250.2zM1250.2 232.8H1303.9V243.7H1250.2zM1196.4 243.7H1250.2V254.6H1196.4zM1250.2 243.7H1303.9V254.6H1250.2zM1089 265.4H1142.7V276.3H1089zM1250.2 265.4H1303.9V276.3H1250.2zM1089 276.3H1142.7V287.2H1089zM1303.9 276.3H1357.6V287.2H1303.9zM1142.7 287.2H1196.4V298.1H1142.7zM1142.7 298.1H1196.4V309H1142.7zM1250.2 298.1H1303.9V309H1250.2zM1142.7 309H1196.4V319.8H1142.7zM1196.4 309H1250.2V319.8H1196.4zM1089 319.8H1142.7V330.7H1089zM1303.9 319.8H1357.6V330.7H1303.9zM1089 330.7H1142.7V341.6H1089zM1250.2 330.7H1303.9V341.6H1250.2zM1303.9 330.7H1357.6V341.6H1303.9zM1196.4 341.6H1250.2V352.5H1196.4zM1250.2 363.4H1303.9V374.2H1250.2zM1250.2 374.2H1303.9V385.1H1250.2zM1089 396H1142.7V406.9H1089zM1142.7 406.9H1196.4V417.8H1142.7zM1142.7 439.5H1196.4V450.4H1142.7zM1411.3 461.3H1465V472.2H1411.3zM1411.3 493.9H1465V504.8H1411.3zM1465 515.7H1518.8V526.6H1465zM1411.3 526.6H1465V537.4H1411.3zM1465 526.6H1518.8V537.4H1465zM1572.5 526.6H1626.2V537.4H1572.5zM1357.6 537.4H1411.3V548.3H1357.6zM1465 537.4H1518.8V548.3H1465zM1572.5 537.4H1626.2V548.3H1572.5zM1411.3 548.3H1465V559.2H1411.3zM1465 548.3H1518.8V559.2H1465zM1357.6 559.2H1411.3V570.1H1357.6zM1411.3 570.1H1465V581H1411.3zM1465 570.1H1518.8V581H1465zM1465 581H1518.8V591.8H1465zM1679.9 581H1733.6V591.8H1679.9zM1465 602.7H1518.8V613.6H1465zM1572.5 602.7H1626.2V613.6H1572.5zM1679.9 602.7H1733.6V613.6H1679.9zM1411.3 613.6H1465V624.5H1411.3zM1465 613.6H1518.8V624.5H1465zM1518.8 613.6H1572.5V624.5H1518.8zM1411.3 646.2H1465V657.1H1411.3zM1518.8 646.2H1572.5V657.1H1518.8z"/>
<path fill="#fc9961" d="M1142.7 265.4H1196.4V276.3H1142.7zM1196.4 287.2H1250.2V298.1H1196.4zM1250.2 287.2H1303.9V298.1H1250.2zM1303.9 287.2H1357.6V298.1H1303.9zM1303.9 309H1357.6V319.8H1303.9zM1250.2 319.8H1303.9V330.7H1250.2zM1250.2 341.6H1303.9V352.5H1250.2zM1303.9 341.6H1357.6V352.5H1303.9zM1303.9 352.5H1357.6V363.4H1303.9zM1303.9 363.4H1357.6V374.2H1303.9zM1142.7 385.1H1196.4V396H1142.7zM1250.2 406.9H1303.9V417.8H1250.2zM1196.4 417.8H1250.2V428.6H1196.4zM1142.7 428.6H1196.4V439.5H1142.7zM1303.9 439.5H1357.6V450.4H1303.9zM1465 483H1518.8V493.9H1465zM1357.6 602.7H1411.3V613.6H1357.6zM1518.8 624.5H1572.5V635.4H1518.8zM1465 657.1H1518.8V668H1465z"/>
<path fill="#f88454" d="M1196.4 134.9H1250.2V145.8H1196.4zM1250.2 134.9H1303.9V145.8H1250.2zM1089 145.8H1142.7V156.6H1089zM1142.7 145.8H1196.4V156.6H1142.7zM1250.2 145.8H1303.9V156.6H1250.2zM1250.2 167.5H1303.9V178.4H1250.2zM1303.9 167.5H1357.6V178.4H1303.9zM1250.2 189.3H1303.9V200.2H1250.2zM1303.9 189.3H1357.6V200.2H1303.9zM1303.9 243.7H1357.6V254.6H1303.9zM1142.7 276.3H1196.4V287.2H1142.7zM1089 287.2H1142.7V298.1H1089zM1089 298.1H1142.7V309H1089zM1196.4 298.1H1250.2V309H1196.4zM1303.9 298.1H1357.6V309H1303.9zM1089 309H1142.7V319.8H1089zM1250.2 309H1303.9V319.8H1250.2zM1142.7 319.8H1196.4V330.7H1142.7zM1196.4 330.7H1250.2V341.6H1196.4zM1089 341.6H1142.7V352.5H1089zM1089 352.5H1142.7V363.4H1089zM1196.4 352.5H1250.2V363.4H1196.4zM1142.7 363.4H1196.4V374.2H1142.7zM1089 374.2H1142.7V385.1H1089zM1142.7 374.2H1196.4V385.1H1142.7zM1303.9 374.2H1357.6V385.1H1303.9zM1303.9 396H1357.6V406.9H1303.9zM1089 406.9H1142.7V417.8H1089zM1303.9 406.9H1357.6V417.8H1303.9zM1089 417.8H1142.7V428.6H1089zM1250.2 417.8H1303.9V428.6H1250.2zM1303.9 417.8H1357.6V428.6H1303.9zM1250.2 428.6H1303.9V439.5H1250.2zM1303.9 428.6H1357.6V439.5H1303.9zM1250.2 439.5H1303.9V450.4H1250.2zM1411.3 450.4H1465V461.3H1411.3zM1679.9 450.4H1733.6V461.3H1679.9zM1465 461.3H1518.8V472.2H1465zM1411.3 472.2H1465V483H1411.3zM1465 472.2H1518.8V483H1465zM1357.6 483H1411.3V493.9H1357.6zM1357.6 493.9H1411.3V504.8H1357.6zM1465 493.9H1518.8V504.8H1465zM1518.8 493.9H1572.5V504.8H1518.8zM1518.8 504.8H1572.5V515.7H1518.8zM1357.6 515.7H1411.3V526.6H1357.6zM1411.3 515.7H1465V526.6H1411.3zM1357.6 526.6H1411.3V537.4H1357.6zM1518.8 526.6H1572.5V537.4H1518.8zM1411.3 537.4H1465V548.3H1411.3zM1357.6 548.3H1411.3V559.2H1357.6zM1626.2 559.2H1679.9V570.1H1626.2zM1572.5 581H1626.2V591.8H1572.5zM1357.6 591.8H1411.3V602.7H1357.6zM1518.8 591.8H1572.5V602.7H1518.8zM1572.5 591.8H1626.2V602.7H1572.5zM1518.8 602.7H1572.5V613.6H1518.8zM1357.6 613.6H1411.3V624.5H1357.6zM1465 624.5H1518.8V635.4H1465zM1465 635.4H1518.8V646.2H1465zM1357.6 646.2H1411.3V657.1H1357.6zM1572.5 646.2H1626.2V657.1H1572.5zM1357.6 657.1H1411.3V668H1357.6z"/>
<path fill="#eb6342" d="M1303.9 254.6H1357.6V265.4H1303.9zM1196.4 276.3H1250.2V287.2H1196.4zM1196.4 319.8H1250.2V330.7H1196.4zM1142.7 330.7H1196.4V341.6H1142.7zM1142.7 341.6H1196.4V352.5H1142.7zM1196.4 396H1250.2V406.9H1196.4zM1196.4 406.9H1250.2V417.8H1196.4zM1518.8 461.3H1572.5V472.2H1518.8zM1357.6 504.8H1411.3V515.7H1357.6zM1465 504.8H1518.8V515.7H1465zM1518.8 537.4H1572.5V548.3H1518.8zM1518.8 635.4H1572.5V646.2H1518.8zM1465 646.2H1518.8V657.1H1465zM1518.8 657.1H1572.5V668H1518.8z"/>
<path fill="#e24c36" d="M1142.7 124H1196.4V134.9H1142.7zM1142.7 134.9H1196.4V145.8H1142.7zM1142.7 156.6H1196.4V167.5H1142.7zM1250.2 156.6H1303.9V167.5H1250.2zM1089 167.5H1142.7V178.4H1089zM1250.2 178.4H1303.9V189.3H1250.2zM1089 200.2H1142.7V211H1089zM1196.4 200.2H1250.2V211H1196.4zM1089 211H1142.7V221.9H1089zM1196.4 232.8H1250.2V243.7H1196.4zM1089 254.6H1142.7V265.4H1089zM1142.7 352.5H1196.4V363.4H1142.7zM1089 363.4H1142.7V374.2H1089zM1250.2 385.1H1303.9V396H1250.2zM1303.9 385.1H1357.6V396H1303.9zM1250.2 396H1303.9V406.9H1250.2zM1196.4 428.6H1250.2V439.5H1196.4zM1196.4 439.5H1250.2V450.4H1196.4zM1518.8 450.4H1572.5V461.3H1518.8zM1518.8 472.2H1572.5V483H1518.8zM1518.8 548.3H1572.5V559.2H1518.8zM1572.5 559.2H1626.2V570.1H1572.5zM1357.6 581H1411.3V591.8H1357.6zM1357.6 624.5H1411.3V635.4H1357.6zM1357.6 635.4H1411.3V646.2H1357.6z"/>
<path fill="#d93529" d="M1089 124H1142.7V134.9H1089zM1089 232.8H1142.7V243.7H1089zM1089 243.7H1142.7V254.6H1089zM1196.4 254.6H1250.2V265.4H1196.4zM1518.8 515.7H1572.5V526.6H1518.8z"/>
<path fill="#d73027" d="M1089 178.4H1142.7V189.3H1089zM1089 189.3H1142.7V200.2H1089zM1089 221.9H1142.7V232.8H1089zM1196.4 265.4H1250.2V276.3H1196.4zM1518.8 483H1572.5V493.9H1518.8zM1572.5 570.1H1626.2V581H1572.5z"/>
<rect x="1089" y="104" width="268.6" height="15" fill="#f8766d"/>
<rect x="1357.6" y="104" width="376" height="15" fill="#1fcfd2"/>
</g>
<path fill="none" stroke="#111" stroke-width="1.45" stroke-linejoin="round" d="M1169.6 101.5V94.6H1223.3V101.5M1277 101.5V94.3H1330.7V101.5M1196.4 94.6V93.4H1303.9V94.3M1115.9 101.5V92.4H1250.2V93.4M1491.9 101.5V96.8H1545.6V101.5M1438.2 101.5V94.7H1518.8V96.8M1384.5 101.5V93.2H1478.5V94.7M1653.1 101.5V95H1706.8V101.5M1599.3 101.5V93.2H1679.9V95M1431.5 93.2V88H1639.6V93.2M1183 92.4V64.9H1535.5V88M1088.4 151.2H1081.8V162.1H1088.4M1088.4 140.3H1079V156.6H1081.8M1088.4 129.4H1076.9V148.5H1079M1088.4 183.8H1081V194.7H1088.4M1088.4 173H1078.5V189.3H1081M1088.4 216.5H1082V227.4H1088.4M1088.4 205.6H1079.8V221.9H1082M1088.4 238.2H1082.5V249.1H1088.4M1079.8 213.8H1076.4V243.7H1082.5M1078.5 181.1H1074V228.7H1076.4M1088.4 270.9H1081.9V281.8H1088.4M1088.4 260H1078.4V276.3H1081.9M1088.4 292.6H1082.3V303.5H1088.4M1088.4 325.3H1081.6V336.2H1088.4M1088.4 314.4H1079.6V330.7H1081.6M1082.3 298.1H1076.2V322.6H1079.6M1088.4 368.8H1081.4V379.7H1088.4M1088.4 357.9H1079.3V374.2H1081.4M1088.4 347H1077.3V366.1H1079.3M1088.4 401.4H1082.3V412.3H1088.4M1088.4 434.1H1081.2V445H1088.4M1088.4 423.2H1078.6V439.5H1081.2M1082.3 406.9H1076.5V431.4H1078.6M1088.4 390.6H1073.7V419.1H1076.5M1077.3 356.6H1071.4V404.8H1073.7M1076.2 310.3H1069.8V380.7H1071.4M1078.4 268.2H1068.2V345.5H1069.8M1074 204.9H1071.6V306.8H1068.2M1076.9 139H1069.7V262H1071.6M1088.4 466.7H1081.4V477.6H1088.4M1088.4 455.8H1079V472.2H1081.4M1088.4 499.4H1081.8V510.2H1088.4M1088.4 488.5H1079.1V504.8H1081.8M1088.4 542.9H1082V553.8H1088.4M1088.4 532H1078.8V548.3H1082M1088.4 521.1H1076.3V540.2H1078.8M1079.1 496.6H1074.5V530.6H1076.3M1079 464H1071.4V513.6H1074.5M1088.4 564.6H1082V575.5H1088.4M1088.4 608.2H1081.2V619H1088.4M1088.4 597.3H1078.4V613.6H1081.2M1088.4 586.4H1076.3V605.4H1078.4M1088.4 629.9H1081.8V640.8H1088.4M1088.4 651.7H1081.8V662.6H1088.4M1081.8 635.4H1076.8V657.1H1081.8M1076.3 595.9H1074V646.2H1076.8M1082 570.1H1071.8V621.1H1074M1071.4 488.6H1069.4V587.2H1071.8M1069.7 200.6H1036.1V537H1069.4"/>
<g stroke="#000" stroke-width="0.3">
<g font-size="10.7">
<text x="1738.7" y="133.12">PAK5</text>
<text x="1738.7" y="144">MAP3K7CL</text>
<text x="1738.7" y="154.88">DNER</text>
<text x="1738.7" y="165.76">TPH1</text>
<text x="1738.7" y="176.64">C5orf24</text>
<text x="1738.7" y="187.52">SRPK3</text>
<text x="1738.7" y="198.4">HOTAIRM1///HOXA2</text>
<text x="1738.7" y="209.28">THSD4</text>
<text x="1738.7" y="220.16">RYR2</text>
<text x="1738.7" y="231.04">TBL1X</text>
<text x="1738.7" y="241.92">PNCK</text>
<text x="1738.7" y="252.8">MRGPRF</text>
<text x="1738.7" y="263.68">DACT2</text>
<text x="1738.7" y="274.56">MYOZ2</text>
<text x="1738.7" y="285.44">BAMBI</text>
<text x="1738.7" y="296.32">REEP1</text>
<text x="1738.7" y="307.2">ACTC1</text>
<text x="1738.7" y="318.08">CNN1</text>
<text x="1738.7" y="328.96">PDLIM5</text>
<text x="1738.7" y="339.84">SLMAP</text>
<text x="1738.7" y="350.72">CFL2</text>
<text x="1738.7" y="361.6">RNF115</text>
<text x="1738.7" y="372.48">AKAP6</text>
<text x="1738.7" y="383.36">JAK2</text>
<text x="1738.7" y="394.24">ZCCHC5</text>
<text x="1738.7" y="405.12">FABP3</text>
<text x="1738.7" y="416">MPC1</text>
<text x="1738.7" y="426.88">FHOD3</text>
<text x="1738.7" y="437.76">PEBP4</text>
<text x="1738.7" y="448.64">LMO3</text>
<text x="1738.7" y="459.52">COL6A3</text>
<text x="1738.7" y="470.4">TSPAN5</text>
<text x="1738.7" y="481.28">GDI2</text>
<text x="1738.7" y="492.16">NT5DC2</text>
<text x="1738.7" y="503.04">TUBB3</text>
<text x="1738.7" y="513.92">CDC7</text>
<text x="1738.7" y="524.8">ECT2</text>
<text x="1738.7" y="535.68">GPR137</text>
<text x="1738.7" y="546.56">CCDC34</text>
<text x="1738.7" y="557.44">WDR54</text>
<text x="1738.7" y="568.32">PHLDA1</text>
<text x="1738.7" y="579.2">CHSY1</text>
<text x="1738.7" y="590.08">CHST1</text>
<text x="1738.7" y="600.96">TMEM158</text>
<text x="1738.7" y="611.84">TIMP1</text>
<text x="1738.7" y="622.72">LHFPL2</text>
<text x="1738.7" y="633.6">XPNPEP1</text>
<text x="1738.7" y="644.48">GINS2</text>
<text x="1738.7" y="655.36">GGCT</text>
<text x="1738.7" y="666.24">SLC20A1</text>
</g>
<g font-size="14.25">
<text transform="translate(1109.62 672.2) rotate(90) scale(1 1.15)">GSM1259279</text>
<text transform="translate(1163.34 672.2) rotate(90) scale(1 1.15)">GSM1259285</text>
<text transform="translate(1217.06 672.2) rotate(90) scale(1 1.15)">GSM1259286</text>
<text transform="translate(1270.78 672.2) rotate(90) scale(1 1.15)">GSM1259280</text>
<text transform="translate(1324.5 672.2) rotate(90) scale(1 1.15)">GSM1259281</text>
<text transform="translate(1378.22 672.2) rotate(90) scale(1 1.15)">GSM1259284</text>
<text transform="translate(1431.94 672.2) rotate(90) scale(1 1.15)">GSM1259282</text>
<text transform="translate(1485.66 672.2) rotate(90) scale(1 1.15)">GSM1259276</text>
<text transform="translate(1539.38 672.2) rotate(90) scale(1 1.15)">GSM1259283</text>
<text transform="translate(1593.1 672.2) rotate(90) scale(1 1.15)">GSM1259275</text>
<text transform="translate(1646.82 672.2) rotate(90) scale(1 1.15)">GSM1259277</text>
<text transform="translate(1700.54 672.2) rotate(90) scale(1 1.15)">GSM1259278</text>
</g>
<text transform="translate(1738.7 116.7) scale(1.08 1)" font-size="14.3" font-weight="bold">group</text>
<text transform="translate(1842.2 91.2) scale(1.07 1)" font-size="19.5">GSE52093</text>
<defs><linearGradient id="ghD1" x1="0" y1="0" x2="0" y2="1"><stop offset="0" stop-color="#D73027"/><stop offset="0.17" stop-color="#FC8D59"/><stop offset="0.33" stop-color="#FEE090"/><stop offset="0.5" stop-color="#FFFFBF"/><stop offset="0.67" stop-color="#E0F3F8"/><stop offset="0.83" stop-color="#91BFDB"/><stop offset="1" stop-color="#4575B4"/></linearGradient></defs>
<rect x="1852" y="102.5" width="15.1" height="232.8" fill="url(#ghD1)"/>
<text transform="translate(1874 133.68) scale(1.06 1)" font-size="14.2">1.5</text>
<text transform="translate(1874 163.96) scale(1.06 1)" font-size="14.2">1</text>
<text transform="translate(1874 194.24) scale(1.06 1)" font-size="14.2">0.5</text>
<text transform="translate(1874 224.52) scale(1.06 1)" font-size="14.2">0</text>
<text transform="translate(1874 254.8) scale(1.06 1)" font-size="14.2">-0.5</text>
<text transform="translate(1874 285.08) scale(1.06 1)" font-size="14.2">-1</text>
<text transform="translate(1874 315.36) scale(1.06 1)" font-size="14.2">-1.5</text>
<text transform="translate(1905.7 113.1) scale(1.08 1)" font-size="14.3" font-weight="bold">group</text>
<rect x="1905.7" y="119" width="21.9" height="21.9" fill="#1fcfd2"/>
<text transform="translate(1932.3 135.53) scale(1.06 1)" font-size="14.2">dissected</text>
<rect x="1905.7" y="140.9" width="21.9" height="21.9" fill="#f8766d"/>
<text transform="translate(1932.3 157.43) scale(1.06 1)" font-size="14.2">normal</text>
</g>
</g>
<g id="hD2">
<g shape-rendering="crispEdges">
<path fill="#4575b4" d="M1089.3 921.1H1152.3V932H1089.3z"/>
<path fill="#5888be" d="M1152.3 997.2H1215.4V1008H1152.3zM1341.5 1301.5H1404.5V1312.4H1341.5z"/>
<path fill="#6b9ac8" d="M1719.7 845H1782.7V855.9H1719.7zM1530.6 877.6H1593.6V888.5H1530.6zM1719.7 877.6H1782.7V888.5H1719.7zM1530.6 888.5H1593.6V899.4H1530.6zM1656.7 899.4H1719.7V910.2H1656.7zM1719.7 910.2H1782.7V921.1H1719.7zM1089.3 1062.4H1152.3V1073.3H1089.3zM1089.3 1073.3H1152.3V1084.1H1089.3zM1404.5 1323.3H1467.5V1334.2H1404.5z"/>
<path fill="#7eacd1" d="M1467.5 845H1530.6V855.9H1467.5zM1467.5 855.9H1530.6V866.7H1467.5zM1467.5 866.7H1530.6V877.6H1467.5zM1593.6 866.7H1656.7V877.6H1593.6zM1719.7 888.5H1782.7V899.4H1719.7zM1593.6 910.2H1656.7V921.1H1593.6zM1089.3 986.3H1152.3V997.2H1089.3zM1215.4 1018.9H1278.4V1029.8H1215.4zM1215.4 1029.8H1278.4V1040.7H1215.4zM1215.4 1040.7H1278.4V1051.5H1215.4zM1278.4 1073.3H1341.5V1084.1H1278.4zM1215.4 1084.1H1278.4V1095H1215.4zM1404.5 1258.1H1467.5V1268.9H1404.5zM1215.4 1334.2H1278.4V1345H1215.4zM1341.5 1355.9H1404.5V1366.8H1341.5z"/>
<path fill="#91bfdb" d="M1656.7 845H1719.7V855.9H1656.7zM1656.7 855.9H1719.7V866.7H1656.7zM1719.7 855.9H1782.7V866.7H1719.7zM1656.7 866.7H1719.7V877.6H1656.7zM1719.7 866.7H1782.7V877.6H1719.7zM1530.6 899.4H1593.6V910.2H1530.6zM1719.7 899.4H1782.7V910.2H1719.7zM1656.7 910.2H1719.7V921.1H1656.7zM1089.3 932H1152.3V942.8H1089.3zM1089.3 942.8H1152.3V953.7H1089.3zM1089.3 953.7H1152.3V964.6H1089.3zM1089.3 964.6H1152.3V975.4H1089.3zM1341.5 964.6H1404.5V975.4H1341.5zM1089.3 975.4H1152.3V986.3H1089.3zM1341.5 975.4H1404.5V986.3H1341.5zM1215.4 1008H1278.4V1018.9H1215.4zM1152.3 1018.9H1215.4V1029.8H1152.3zM1404.5 1062.4H1467.5V1073.3H1404.5zM1089.3 1225.5H1152.3V1236.3H1089.3zM1089.3 1236.3H1152.3V1247.2H1089.3zM1089.3 1247.2H1152.3V1258.1H1089.3zM1215.4 1268.9H1278.4V1279.8H1215.4zM1341.5 1268.9H1404.5V1279.8H1341.5zM1152.3 1279.8H1215.4V1290.7H1152.3zM1215.4 1279.8H1278.4V1290.7H1215.4zM1215.4 1290.7H1278.4V1301.5H1215.4zM1341.5 1312.4H1404.5V1323.3H1341.5zM1215.4 1345H1278.4V1355.9H1215.4z"/>
<path fill="#a5cce2" d="M1656.7 888.5H1719.7V899.4H1656.7zM1152.3 921.1H1215.4V932H1152.3zM1152.3 953.7H1215.4V964.6H1152.3zM1341.5 986.3H1404.5V997.2H1341.5zM1278.4 1008H1341.5V1018.9H1278.4zM1089.3 1029.8H1152.3V1040.7H1089.3zM1089.3 1040.7H1152.3V1051.5H1089.3zM1215.4 1051.5H1278.4V1062.4H1215.4zM1152.3 1084.1H1215.4V1095H1152.3zM1215.4 1149.4H1278.4V1160.2H1215.4zM1152.3 1182H1215.4V1192.8H1152.3zM1404.5 1182H1467.5V1192.8H1404.5zM1089.3 1192.8H1152.3V1203.7H1089.3zM1089.3 1203.7H1152.3V1214.6H1089.3zM1152.3 1225.5H1215.4V1236.3H1152.3zM1341.5 1247.2H1404.5V1258.1H1341.5zM1089.3 1258.1H1152.3V1268.9H1089.3zM1152.3 1258.1H1215.4V1268.9H1152.3zM1404.5 1268.9H1467.5V1279.8H1404.5zM1215.4 1301.5H1278.4V1312.4H1215.4zM1215.4 1312.4H1278.4V1323.3H1215.4zM1278.4 1323.3H1341.5V1334.2H1278.4zM1341.5 1323.3H1404.5V1334.2H1341.5zM1215.4 1355.9H1278.4V1366.8H1215.4zM1404.5 1377.6H1467.5V1388.5H1404.5z"/>
<path fill="#b8d9ea" d="M1530.6 845H1593.6V855.9H1530.6zM1593.6 845H1656.7V855.9H1593.6zM1593.6 855.9H1656.7V866.7H1593.6zM1467.5 877.6H1530.6V888.5H1467.5zM1656.7 877.6H1719.7V888.5H1656.7zM1593.6 899.4H1656.7V910.2H1593.6zM1530.6 910.2H1593.6V921.1H1530.6zM1341.5 921.1H1404.5V932H1341.5zM1152.3 932H1215.4V942.8H1152.3zM1278.4 932H1341.5V942.8H1278.4zM1341.5 932H1404.5V942.8H1341.5zM1152.3 942.8H1215.4V953.7H1152.3zM1341.5 942.8H1404.5V953.7H1341.5zM1404.5 942.8H1467.5V953.7H1404.5zM1341.5 953.7H1404.5V964.6H1341.5zM1404.5 953.7H1467.5V964.6H1404.5zM1152.3 964.6H1215.4V975.4H1152.3zM1278.4 964.6H1341.5V975.4H1278.4zM1215.4 975.4H1278.4V986.3H1215.4zM1278.4 975.4H1341.5V986.3H1278.4zM1152.3 986.3H1215.4V997.2H1152.3zM1278.4 986.3H1341.5V997.2H1278.4zM1215.4 997.2H1278.4V1008H1215.4zM1278.4 997.2H1341.5V1008H1278.4zM1152.3 1008H1215.4V1018.9H1152.3zM1341.5 1008H1404.5V1018.9H1341.5zM1341.5 1018.9H1404.5V1029.8H1341.5zM1404.5 1029.8H1467.5V1040.7H1404.5zM1404.5 1040.7H1467.5V1051.5H1404.5zM1089.3 1051.5H1152.3V1062.4H1089.3zM1278.4 1051.5H1341.5V1062.4H1278.4zM1404.5 1051.5H1467.5V1062.4H1404.5zM1215.4 1062.4H1278.4V1073.3H1215.4zM1089.3 1095H1152.3V1105.9H1089.3zM1215.4 1095H1278.4V1105.9H1215.4zM1278.4 1095H1341.5V1105.9H1278.4zM1089.3 1105.9H1152.3V1116.8H1089.3zM1152.3 1105.9H1215.4V1116.8H1152.3zM1215.4 1105.9H1278.4V1116.8H1215.4zM1089.3 1116.8H1152.3V1127.6H1089.3zM1152.3 1116.8H1215.4V1127.6H1152.3zM1215.4 1116.8H1278.4V1127.6H1215.4zM1341.5 1116.8H1404.5V1127.6H1341.5zM1404.5 1116.8H1467.5V1127.6H1404.5zM1152.3 1127.6H1215.4V1138.5H1152.3zM1215.4 1127.6H1278.4V1138.5H1215.4zM1404.5 1127.6H1467.5V1138.5H1404.5zM1089.3 1138.5H1152.3V1149.4H1089.3zM1152.3 1138.5H1215.4V1149.4H1152.3zM1215.4 1138.5H1278.4V1149.4H1215.4zM1404.5 1138.5H1467.5V1149.4H1404.5zM1089.3 1149.4H1152.3V1160.2H1089.3zM1089.3 1160.2H1152.3V1171.1H1089.3zM1215.4 1160.2H1278.4V1171.1H1215.4zM1404.5 1160.2H1467.5V1171.1H1404.5zM1089.3 1171.1H1152.3V1182H1089.3zM1341.5 1171.1H1404.5V1182H1341.5zM1404.5 1171.1H1467.5V1182H1404.5zM1089.3 1182H1152.3V1192.8H1089.3zM1278.4 1182H1341.5V1192.8H1278.4zM1341.5 1182H1404.5V1192.8H1341.5zM1215.4 1192.8H1278.4V1203.7H1215.4zM1341.5 1192.8H1404.5V1203.7H1341.5zM1404.5 1192.8H1467.5V1203.7H1404.5zM1215.4 1203.7H1278.4V1214.6H1215.4zM1341.5 1203.7H1404.5V1214.6H1341.5zM1089.3 1214.6H1152.3V1225.5H1089.3zM1152.3 1214.6H1215.4V1225.5H1152.3zM1215.4 1214.6H1278.4V1225.5H1215.4zM1278.4 1225.5H1341.5V1236.3H1278.4zM1341.5 1225.5H1404.5V1236.3H1341.5zM1152.3 1236.3H1215.4V1247.2H1152.3zM1215.4 1236.3H1278.4V1247.2H1215.4zM1341.5 1236.3H1404.5V1247.2H1341.5zM1152.3 1247.2H1215.4V1258.1H1152.3zM1404.5 1247.2H1467.5V1258.1H1404.5zM1341.5 1258.1H1404.5V1268.9H1341.5zM1089.3 1279.8H1152.3V1290.7H1089.3zM1404.5 1279.8H1467.5V1290.7H1404.5zM1089.3 1290.7H1152.3V1301.5H1089.3zM1152.3 1290.7H1215.4V1301.5H1152.3zM1278.4 1290.7H1341.5V1301.5H1278.4zM1404.5 1290.7H1467.5V1301.5H1404.5zM1152.3 1301.5H1215.4V1312.4H1152.3zM1089.3 1312.4H1152.3V1323.3H1089.3zM1152.3 1312.4H1215.4V1323.3H1152.3zM1215.4 1323.3H1278.4V1334.2H1215.4zM1089.3 1334.2H1152.3V1345H1089.3zM1152.3 1334.2H1215.4V1345H1152.3zM1278.4 1334.2H1341.5V1345H1278.4zM1089.3 1345H1152.3V1355.9H1089.3zM1278.4 1345H1341.5V1355.9H1278.4zM1404.5 1345H1467.5V1355.9H1404.5zM1278.4 1355.9H1341.5V1366.8H1278.4zM1089.3 1366.8H1152.3V1377.6H1089.3zM1152.3 1366.8H1215.4V1377.6H1152.3zM1215.4 1366.8H1278.4V1377.6H1215.4zM1278.4 1366.8H1341.5V1377.6H1278.4zM1341.5 1366.8H1404.5V1377.6H1341.5zM1404.5 1366.8H1467.5V1377.6H1404.5zM1089.3 1377.6H1152.3V1388.5H1089.3zM1152.3 1377.6H1215.4V1388.5H1152.3zM1278.4 1377.6H1341.5V1388.5H1278.4zM1341.5 1377.6H1404.5V1388.5H1341.5z"/>
<path fill="#cce6f1" d="M1593.6 877.6H1656.7V888.5H1593.6zM1593.6 888.5H1656.7V899.4H1593.6zM1215.4 942.8H1278.4V953.7H1215.4zM1152.3 975.4H1215.4V986.3H1152.3zM1089.3 997.2H1152.3V1008H1089.3zM1152.3 1029.8H1215.4V1040.7H1152.3zM1341.5 1029.8H1404.5V1040.7H1341.5zM1152.3 1040.7H1215.4V1051.5H1152.3zM1341.5 1062.4H1404.5V1073.3H1341.5zM1215.4 1073.3H1278.4V1084.1H1215.4zM1089.3 1084.1H1152.3V1095H1089.3zM1278.4 1084.1H1341.5V1095H1278.4zM1404.5 1084.1H1467.5V1095H1404.5zM1152.3 1095H1215.4V1105.9H1152.3zM1404.5 1095H1467.5V1105.9H1404.5zM1278.4 1105.9H1341.5V1116.8H1278.4zM1404.5 1105.9H1467.5V1116.8H1404.5zM1089.3 1127.6H1152.3V1138.5H1089.3zM1341.5 1127.6H1404.5V1138.5H1341.5zM1341.5 1138.5H1404.5V1149.4H1341.5zM1152.3 1149.4H1215.4V1160.2H1152.3zM1278.4 1149.4H1341.5V1160.2H1278.4zM1341.5 1149.4H1404.5V1160.2H1341.5zM1152.3 1160.2H1215.4V1171.1H1152.3zM1278.4 1160.2H1341.5V1171.1H1278.4zM1341.5 1160.2H1404.5V1171.1H1341.5zM1152.3 1171.1H1215.4V1182H1152.3zM1215.4 1171.1H1278.4V1182H1215.4zM1278.4 1171.1H1341.5V1182H1278.4zM1215.4 1182H1278.4V1192.8H1215.4zM1278.4 1192.8H1341.5V1203.7H1278.4zM1278.4 1203.7H1341.5V1214.6H1278.4zM1404.5 1203.7H1467.5V1214.6H1404.5zM1278.4 1214.6H1341.5V1225.5H1278.4zM1341.5 1214.6H1404.5V1225.5H1341.5zM1404.5 1214.6H1467.5V1225.5H1404.5zM1404.5 1225.5H1467.5V1236.3H1404.5zM1404.5 1236.3H1467.5V1247.2H1404.5zM1341.5 1334.2H1404.5V1345H1341.5zM1152.3 1345H1215.4V1355.9H1152.3zM1152.3 1355.9H1215.4V1366.8H1152.3z"/>
<path fill="#e0f3f8" d="M1467.5 888.5H1530.6V899.4H1467.5zM1467.5 910.2H1530.6V921.1H1467.5zM1404.5 921.1H1467.5V932H1404.5zM1215.4 932H1278.4V942.8H1215.4zM1404.5 932H1467.5V942.8H1404.5zM1278.4 942.8H1341.5V953.7H1278.4zM1215.4 953.7H1278.4V964.6H1215.4zM1278.4 953.7H1341.5V964.6H1278.4zM1404.5 964.6H1467.5V975.4H1404.5zM1089.3 1008H1152.3V1018.9H1089.3zM1089.3 1018.9H1152.3V1029.8H1089.3zM1278.4 1018.9H1341.5V1029.8H1278.4zM1341.5 1040.7H1404.5V1051.5H1341.5zM1152.3 1051.5H1215.4V1062.4H1152.3zM1341.5 1051.5H1404.5V1062.4H1341.5zM1152.3 1062.4H1215.4V1073.3H1152.3zM1152.3 1073.3H1215.4V1084.1H1152.3zM1404.5 1073.3H1467.5V1084.1H1404.5zM1341.5 1084.1H1404.5V1095H1341.5zM1341.5 1095H1404.5V1105.9H1341.5zM1278.4 1127.6H1341.5V1138.5H1278.4zM1152.3 1192.8H1215.4V1203.7H1152.3zM1152.3 1203.7H1215.4V1214.6H1152.3zM1215.4 1225.5H1278.4V1236.3H1215.4zM1278.4 1247.2H1341.5V1258.1H1278.4zM1089.3 1268.9H1152.3V1279.8H1089.3zM1152.3 1268.9H1215.4V1279.8H1152.3zM1278.4 1279.8H1341.5V1290.7H1278.4zM1341.5 1279.8H1404.5V1290.7H1341.5zM1089.3 1301.5H1152.3V1312.4H1089.3zM1278.4 1301.5H1341.5V1312.4H1278.4zM1404.5 1301.5H1467.5V1312.4H1404.5zM1404.5 1312.4H1467.5V1323.3H1404.5zM1089.3 1323.3H1152.3V1334.2H1089.3zM1404.5 1334.2H1467.5V1345H1404.5zM1341.5 1345H1404.5V1355.9H1341.5zM1089.3 1355.9H1152.3V1366.8H1089.3zM1404.5 1355.9H1467.5V1366.8H1404.5z"/>
<path fill="#e8f6ea" d="M1215.4 921.1H1278.4V932H1215.4zM1215.4 986.3H1278.4V997.2H1215.4zM1404.5 986.3H1467.5V997.2H1404.5zM1341.5 997.2H1404.5V1008H1341.5zM1278.4 1029.8H1341.5V1040.7H1278.4zM1404.5 1149.4H1467.5V1160.2H1404.5zM1341.5 1290.7H1404.5V1301.5H1341.5zM1215.4 1377.6H1278.4V1388.5H1215.4z"/>
<path fill="#f0f9dc" d="M1530.6 855.9H1593.6V866.7H1530.6zM1530.6 866.7H1593.6V877.6H1530.6zM1467.5 899.4H1530.6V910.2H1467.5zM1278.4 921.1H1341.5V932H1278.4zM1404.5 975.4H1467.5V986.3H1404.5zM1404.5 997.2H1467.5V1008H1404.5zM1404.5 1008H1467.5V1018.9H1404.5zM1278.4 1040.7H1341.5V1051.5H1278.4zM1341.5 1073.3H1404.5V1084.1H1341.5zM1341.5 1105.9H1404.5V1116.8H1341.5zM1278.4 1116.8H1341.5V1127.6H1278.4zM1278.4 1138.5H1341.5V1149.4H1278.4zM1278.4 1236.3H1341.5V1247.2H1278.4zM1215.4 1247.2H1278.4V1258.1H1215.4zM1215.4 1258.1H1278.4V1268.9H1215.4zM1278.4 1258.1H1341.5V1268.9H1278.4zM1278.4 1268.9H1341.5V1279.8H1278.4zM1278.4 1312.4H1341.5V1323.3H1278.4z"/>
<path fill="#f7fccd" d="M1215.4 964.6H1278.4V975.4H1215.4zM1404.5 1018.9H1467.5V1029.8H1404.5zM1278.4 1062.4H1341.5V1073.3H1278.4z"/>
<path fill="#fef0a8" d="M1467.5 1160.2H1530.6V1171.1H1467.5zM1467.5 1171.1H1530.6V1182H1467.5zM1152.3 1323.3H1215.4V1334.2H1152.3z"/>
<path fill="#fee89c" d="M1152.3 877.6H1215.4V888.5H1152.3zM1215.4 899.4H1278.4V910.2H1215.4zM1719.7 1029.8H1782.7V1040.7H1719.7zM1593.6 1345H1656.7V1355.9H1593.6zM1593.6 1355.9H1656.7V1366.8H1593.6z"/>
<path fill="#fee090" d="M1089.3 845H1152.3V855.9H1089.3zM1089.3 866.7H1152.3V877.6H1089.3zM1278.4 877.6H1341.5V888.5H1278.4zM1278.4 888.5H1341.5V899.4H1278.4zM1341.5 888.5H1404.5V899.4H1341.5zM1215.4 910.2H1278.4V921.1H1215.4zM1404.5 910.2H1467.5V921.1H1404.5zM1593.6 932H1656.7V942.8H1593.6zM1593.6 942.8H1656.7V953.7H1593.6zM1719.7 997.2H1782.7V1008H1719.7zM1656.7 1051.5H1719.7V1062.4H1656.7zM1656.7 1062.4H1719.7V1073.3H1656.7zM1530.6 1073.3H1593.6V1084.1H1530.6zM1467.5 1095H1530.6V1105.9H1467.5zM1530.6 1105.9H1593.6V1116.8H1530.6zM1467.5 1116.8H1530.6V1127.6H1467.5zM1467.5 1127.6H1530.6V1138.5H1467.5zM1593.6 1127.6H1656.7V1138.5H1593.6zM1467.5 1138.5H1530.6V1149.4H1467.5zM1467.5 1149.4H1530.6V1160.2H1467.5zM1467.5 1214.6H1530.6V1225.5H1467.5zM1656.7 1247.2H1719.7V1258.1H1656.7zM1467.5 1268.9H1530.6V1279.8H1467.5zM1656.7 1268.9H1719.7V1279.8H1656.7zM1467.5 1279.8H1530.6V1290.7H1467.5zM1467.5 1290.7H1530.6V1301.5H1467.5zM1530.6 1301.5H1593.6V1312.4H1530.6zM1530.6 1312.4H1593.6V1323.3H1530.6zM1593.6 1334.2H1656.7V1345H1593.6zM1593.6 1366.8H1656.7V1377.6H1593.6zM1593.6 1377.6H1656.7V1388.5H1593.6z"/>
<path fill="#fdc37d" d="M1089.3 855.9H1152.3V866.7H1089.3zM1404.5 888.5H1467.5V899.4H1404.5zM1467.5 1018.9H1530.6V1029.8H1467.5zM1593.6 1040.7H1656.7V1051.5H1593.6zM1467.5 1105.9H1530.6V1116.8H1467.5zM1467.5 1236.3H1530.6V1247.2H1467.5zM1467.5 1355.9H1530.6V1366.8H1467.5z"/>
<path fill="#fdae6f" d="M1152.3 845H1215.4V855.9H1152.3zM1215.4 845H1278.4V855.9H1215.4zM1278.4 845H1341.5V855.9H1278.4zM1152.3 855.9H1215.4V866.7H1152.3zM1215.4 855.9H1278.4V866.7H1215.4zM1278.4 855.9H1341.5V866.7H1278.4zM1152.3 866.7H1215.4V877.6H1152.3zM1278.4 866.7H1341.5V877.6H1278.4zM1341.5 866.7H1404.5V877.6H1341.5zM1215.4 877.6H1278.4V888.5H1215.4zM1089.3 888.5H1152.3V899.4H1089.3zM1089.3 899.4H1152.3V910.2H1089.3zM1341.5 899.4H1404.5V910.2H1341.5zM1152.3 910.2H1215.4V921.1H1152.3zM1719.7 921.1H1782.7V932H1719.7zM1719.7 932H1782.7V942.8H1719.7zM1593.6 953.7H1656.7V964.6H1593.6zM1719.7 953.7H1782.7V964.6H1719.7zM1467.5 964.6H1530.6V975.4H1467.5zM1719.7 986.3H1782.7V997.2H1719.7zM1467.5 997.2H1530.6V1008H1467.5zM1467.5 1008H1530.6V1018.9H1467.5zM1719.7 1051.5H1782.7V1062.4H1719.7zM1719.7 1062.4H1782.7V1073.3H1719.7zM1530.6 1084.1H1593.6V1095H1530.6zM1656.7 1084.1H1719.7V1095H1656.7zM1530.6 1095H1593.6V1105.9H1530.6zM1656.7 1095H1719.7V1105.9H1656.7zM1656.7 1105.9H1719.7V1116.8H1656.7zM1467.5 1182H1530.6V1192.8H1467.5zM1656.7 1182H1719.7V1192.8H1656.7zM1467.5 1192.8H1530.6V1203.7H1467.5zM1719.7 1192.8H1782.7V1203.7H1719.7zM1467.5 1203.7H1530.6V1214.6H1467.5zM1656.7 1214.6H1719.7V1225.5H1656.7zM1719.7 1214.6H1782.7V1225.5H1719.7zM1467.5 1225.5H1530.6V1236.3H1467.5zM1656.7 1225.5H1719.7V1236.3H1656.7zM1656.7 1236.3H1719.7V1247.2H1656.7zM1467.5 1247.2H1530.6V1258.1H1467.5zM1467.5 1258.1H1530.6V1268.9H1467.5zM1656.7 1279.8H1719.7V1290.7H1656.7zM1656.7 1290.7H1719.7V1301.5H1656.7zM1656.7 1301.5H1719.7V1312.4H1656.7zM1656.7 1312.4H1719.7V1323.3H1656.7zM1467.5 1323.3H1530.6V1334.2H1467.5zM1593.6 1323.3H1656.7V1334.2H1593.6zM1467.5 1334.2H1530.6V1345H1467.5zM1467.5 1345H1530.6V1355.9H1467.5zM1530.6 1345H1593.6V1355.9H1530.6zM1467.5 1366.8H1530.6V1377.6H1467.5zM1530.6 1366.8H1593.6V1377.6H1530.6zM1467.5 1377.6H1530.6V1388.5H1467.5z"/>
<path fill="#fc9961" d="M1341.5 855.9H1404.5V866.7H1341.5zM1215.4 866.7H1278.4V877.6H1215.4zM1404.5 877.6H1467.5V888.5H1404.5zM1152.3 899.4H1215.4V910.2H1152.3zM1278.4 899.4H1341.5V910.2H1278.4zM1089.3 910.2H1152.3V921.1H1089.3zM1341.5 910.2H1404.5V921.1H1341.5zM1467.5 921.1H1530.6V932H1467.5zM1593.6 921.1H1656.7V932H1593.6zM1719.7 942.8H1782.7V953.7H1719.7zM1593.6 964.6H1656.7V975.4H1593.6zM1467.5 975.4H1530.6V986.3H1467.5zM1593.6 975.4H1656.7V986.3H1593.6zM1467.5 986.3H1530.6V997.2H1467.5zM1656.7 1008H1719.7V1018.9H1656.7zM1656.7 1018.9H1719.7V1029.8H1656.7zM1719.7 1018.9H1782.7V1029.8H1719.7zM1656.7 1029.8H1719.7V1040.7H1656.7zM1656.7 1040.7H1719.7V1051.5H1656.7zM1719.7 1040.7H1782.7V1051.5H1719.7zM1719.7 1073.3H1782.7V1084.1H1719.7zM1467.5 1084.1H1530.6V1095H1467.5zM1593.6 1116.8H1656.7V1127.6H1593.6zM1656.7 1171.1H1719.7V1182H1656.7zM1593.6 1225.5H1656.7V1236.3H1593.6zM1593.6 1236.3H1656.7V1247.2H1593.6zM1593.6 1312.4H1656.7V1323.3H1593.6zM1530.6 1334.2H1593.6V1345H1530.6zM1656.7 1355.9H1719.7V1366.8H1656.7z"/>
<path fill="#f88454" d="M1341.5 845H1404.5V855.9H1341.5zM1404.5 845H1467.5V855.9H1404.5zM1404.5 855.9H1467.5V866.7H1404.5zM1404.5 866.7H1467.5V877.6H1404.5zM1089.3 877.6H1152.3V888.5H1089.3zM1530.6 921.1H1593.6V932H1530.6zM1656.7 921.1H1719.7V932H1656.7zM1467.5 932H1530.6V942.8H1467.5zM1467.5 942.8H1530.6V953.7H1467.5zM1467.5 953.7H1530.6V964.6H1467.5zM1656.7 953.7H1719.7V964.6H1656.7zM1530.6 964.6H1593.6V975.4H1530.6zM1656.7 964.6H1719.7V975.4H1656.7zM1530.6 975.4H1593.6V986.3H1530.6zM1656.7 975.4H1719.7V986.3H1656.7zM1530.6 986.3H1593.6V997.2H1530.6zM1593.6 986.3H1656.7V997.2H1593.6zM1656.7 986.3H1719.7V997.2H1656.7zM1656.7 997.2H1719.7V1008H1656.7zM1593.6 1008H1656.7V1018.9H1593.6zM1719.7 1008H1782.7V1018.9H1719.7zM1530.6 1029.8H1593.6V1040.7H1530.6zM1593.6 1051.5H1656.7V1062.4H1593.6zM1593.6 1062.4H1656.7V1073.3H1593.6zM1467.5 1073.3H1530.6V1084.1H1467.5zM1593.6 1073.3H1656.7V1084.1H1593.6zM1656.7 1073.3H1719.7V1084.1H1656.7zM1530.6 1116.8H1593.6V1127.6H1530.6zM1719.7 1116.8H1782.7V1127.6H1719.7zM1530.6 1127.6H1593.6V1138.5H1530.6zM1719.7 1127.6H1782.7V1138.5H1719.7zM1530.6 1138.5H1593.6V1149.4H1530.6zM1593.6 1138.5H1656.7V1149.4H1593.6zM1656.7 1138.5H1719.7V1149.4H1656.7zM1530.6 1149.4H1593.6V1160.2H1530.6zM1593.6 1149.4H1656.7V1160.2H1593.6zM1593.6 1160.2H1656.7V1171.1H1593.6zM1656.7 1160.2H1719.7V1171.1H1656.7zM1593.6 1171.1H1656.7V1182H1593.6zM1719.7 1171.1H1782.7V1182H1719.7zM1593.6 1182H1656.7V1192.8H1593.6zM1719.7 1182H1782.7V1192.8H1719.7zM1593.6 1192.8H1656.7V1203.7H1593.6zM1656.7 1192.8H1719.7V1203.7H1656.7zM1656.7 1203.7H1719.7V1214.6H1656.7zM1719.7 1203.7H1782.7V1214.6H1719.7zM1593.6 1214.6H1656.7V1225.5H1593.6zM1719.7 1225.5H1782.7V1236.3H1719.7zM1719.7 1236.3H1782.7V1247.2H1719.7zM1530.6 1247.2H1593.6V1258.1H1530.6zM1593.6 1258.1H1656.7V1268.9H1593.6zM1656.7 1258.1H1719.7V1268.9H1656.7zM1719.7 1258.1H1782.7V1268.9H1719.7zM1530.6 1268.9H1593.6V1279.8H1530.6zM1530.6 1279.8H1593.6V1290.7H1530.6zM1593.6 1279.8H1656.7V1290.7H1593.6zM1593.6 1290.7H1656.7V1301.5H1593.6zM1593.6 1301.5H1656.7V1312.4H1593.6zM1530.6 1323.3H1593.6V1334.2H1530.6zM1656.7 1323.3H1719.7V1334.2H1656.7zM1719.7 1345H1782.7V1355.9H1719.7zM1530.6 1355.9H1593.6V1366.8H1530.6zM1656.7 1366.8H1719.7V1377.6H1656.7zM1656.7 1377.6H1719.7V1388.5H1656.7z"/>
<path fill="#ed6845" d="M1278.4 910.2H1341.5V921.1H1278.4zM1530.6 932H1593.6V942.8H1530.6zM1656.7 942.8H1719.7V953.7H1656.7zM1719.7 975.4H1782.7V986.3H1719.7zM1593.6 997.2H1656.7V1008H1593.6zM1593.6 1018.9H1656.7V1029.8H1593.6zM1467.5 1029.8H1530.6V1040.7H1467.5zM1530.6 1040.7H1593.6V1051.5H1530.6zM1467.5 1062.4H1530.6V1073.3H1467.5zM1530.6 1062.4H1593.6V1073.3H1530.6zM1719.7 1084.1H1782.7V1095H1719.7zM1719.7 1095H1782.7V1105.9H1719.7zM1656.7 1149.4H1719.7V1160.2H1656.7zM1719.7 1160.2H1782.7V1171.1H1719.7zM1530.6 1192.8H1593.6V1203.7H1530.6zM1530.6 1203.7H1593.6V1214.6H1530.6zM1593.6 1203.7H1656.7V1214.6H1593.6zM1593.6 1247.2H1656.7V1258.1H1593.6zM1593.6 1268.9H1656.7V1279.8H1593.6zM1530.6 1290.7H1593.6V1301.5H1530.6zM1719.7 1301.5H1782.7V1312.4H1719.7zM1719.7 1323.3H1782.7V1334.2H1719.7z"/>
<path fill="#e45138" d="M1341.5 877.6H1404.5V888.5H1341.5zM1152.3 888.5H1215.4V899.4H1152.3zM1215.4 888.5H1278.4V899.4H1215.4zM1404.5 899.4H1467.5V910.2H1404.5zM1656.7 932H1719.7V942.8H1656.7zM1530.6 942.8H1593.6V953.7H1530.6zM1530.6 953.7H1593.6V964.6H1530.6zM1719.7 964.6H1782.7V975.4H1719.7zM1530.6 997.2H1593.6V1008H1530.6zM1530.6 1008H1593.6V1018.9H1530.6zM1530.6 1018.9H1593.6V1029.8H1530.6zM1593.6 1029.8H1656.7V1040.7H1593.6zM1467.5 1040.7H1530.6V1051.5H1467.5zM1467.5 1051.5H1530.6V1062.4H1467.5zM1593.6 1084.1H1656.7V1095H1593.6zM1656.7 1116.8H1719.7V1127.6H1656.7zM1719.7 1138.5H1782.7V1149.4H1719.7zM1719.7 1149.4H1782.7V1160.2H1719.7zM1530.6 1160.2H1593.6V1171.1H1530.6zM1530.6 1182H1593.6V1192.8H1530.6zM1719.7 1247.2H1782.7V1258.1H1719.7zM1530.6 1258.1H1593.6V1268.9H1530.6zM1719.7 1268.9H1782.7V1279.8H1719.7zM1719.7 1279.8H1782.7V1290.7H1719.7zM1719.7 1290.7H1782.7V1301.5H1719.7zM1467.5 1301.5H1530.6V1312.4H1467.5zM1467.5 1312.4H1530.6V1323.3H1467.5zM1719.7 1312.4H1782.7V1323.3H1719.7zM1656.7 1334.2H1719.7V1345H1656.7zM1719.7 1334.2H1782.7V1345H1719.7zM1656.7 1345H1719.7V1355.9H1656.7zM1530.6 1377.6H1593.6V1388.5H1530.6zM1719.7 1377.6H1782.7V1388.5H1719.7z"/>
<path fill="#db392c" d="M1530.6 1051.5H1593.6V1062.4H1530.6zM1719.7 1105.9H1782.7V1116.8H1719.7zM1656.7 1127.6H1719.7V1138.5H1656.7zM1530.6 1236.3H1593.6V1247.2H1530.6zM1719.7 1366.8H1782.7V1377.6H1719.7z"/>
<path fill="#d73027" d="M1593.6 1095H1656.7V1105.9H1593.6zM1593.6 1105.9H1656.7V1116.8H1593.6zM1530.6 1171.1H1593.6V1182H1530.6zM1530.6 1214.6H1593.6V1225.5H1530.6zM1530.6 1225.5H1593.6V1236.3H1530.6zM1719.7 1355.9H1782.7V1366.8H1719.7z"/>
<rect x="1089.3" y="824.2" width="378.2" height="15.7" fill="#1fcfd2"/>
<rect x="1467.5" y="824.2" width="315.2" height="15.7" fill="#f8766d"/>
</g>
<path fill="none" stroke="#111" stroke-width="1.45" stroke-linejoin="round" d="M1120.8 822.6V817.3H1183.9V822.6M1373 822.6V817.3H1436V822.6M1309.9 822.6V816.7H1404.5V817.3M1246.9 822.6V816.3H1357.2V816.7M1152.3 817.3V815.7H1302.1V816.3M1688.2 822.6V816.3H1751.2V822.6M1625.1 822.6V815.3H1719.7V816.3M1562.1 822.6V814H1672.4V815.3M1499.1 822.6V811.6H1617.3V814M1227.2 815.7V786.8H1558.2V811.6M1088.7 861.3H1082.1V872.2H1088.7M1088.7 850.4H1079.3V866.7H1082.1M1088.7 904.8H1082.8V915.7H1088.7M1088.7 893.9H1079.5V910.2H1082.8M1088.7 883H1077V902.1H1079.5M1079.3 858.6H1075V892.6H1077M1088.7 948.3H1082.8V959.1H1088.7M1088.7 937.4H1078.8V953.7H1082.8M1088.7 926.5H1076.7V945.5H1078.8M1088.7 980.9H1082.2V991.7H1088.7M1088.7 970H1078.7V986.3H1082.2M1088.7 1013.5H1081.9V1024.4H1088.7M1088.7 1002.6H1079.2V1018.9H1081.9M1078.7 978.2H1074.1V1010.8H1079.2M1088.7 1046.1H1082.5V1057H1088.7M1088.7 1035.2H1079.1V1051.5H1082.5M1088.7 1067.8H1082.2V1078.7H1088.7M1088.7 1100.4H1082.8V1111.3H1088.7M1088.7 1089.6H1079.6V1105.9H1082.8M1082.2 1073.3H1077.6V1097.7H1079.6M1079.1 1043.4H1075.1V1085.5H1077.6M1088.7 1133.1H1082.4V1143.9H1088.7M1088.7 1122.2H1079.5V1138.5H1082.4M1088.7 1154.8H1081.9V1165.7H1088.7M1088.7 1187.4H1082.1V1198.3H1088.7M1088.7 1176.5H1078.8V1192.8H1082.1M1081.9 1160.2H1077.2V1184.7H1078.8M1079.5 1130.3H1074.3V1172.5H1077.2M1088.7 1209.1H1082.1V1220H1088.7M1088.7 1241.8H1082.8V1252.6H1088.7M1088.7 1230.9H1079V1247.2H1082.8M1088.7 1263.5H1082.2V1274.4H1088.7M1079 1239H1077V1268.9H1082.2M1082.1 1214.6H1075.2V1254H1077M1074.3 1151.4H1076.6V1234.3H1075.2M1075.1 1064.4H1076V1192.8H1076.6M1074.1 994.5H1075.4V1128.6H1076M1076.7 936H1074.6V1061.6H1075.4M1088.7 1307H1081.7V1317.8H1088.7M1088.7 1296.1H1079.5V1312.4H1081.7M1088.7 1285.2H1077.3V1304.3H1079.5M1088.7 1328.7H1081.9V1339.6H1088.7M1088.7 1372.2H1081.4V1383.1H1088.7M1088.7 1361.3H1079.7V1377.6H1081.4M1088.7 1350.5H1077.3V1369.5H1079.7M1081.9 1334.2H1074.5V1360H1077.3M1077.3 1294.7H1077.6V1347.1H1074.5M1074.6 977H1073V1327H1077.6M1075 874.7H1036.1V1147.2H1073"/>
<g stroke="#000" stroke-width="0.3">
<g font-size="10.7">
<text x="1787.6" y="854.12">HIST3H3</text>
<text x="1787.6" y="864.99">HIST1H3C</text>
<text x="1787.6" y="875.86">HIST1H3G</text>
<text x="1787.6" y="886.73">LIPT1</text>
<text x="1787.6" y="897.6">SYT12</text>
<text x="1787.6" y="908.47">PGAM2</text>
<text x="1787.6" y="919.34">P4HA3</text>
<text x="1787.6" y="930.21">SHANK3</text>
<text x="1787.6" y="941.08">CPLX1</text>
<text x="1787.6" y="951.95">CCL14</text>
<text x="1787.6" y="962.82">MYO5C</text>
<text x="1787.6" y="973.69">SLCO2A1</text>
<text x="1787.6" y="984.56">FAM69B</text>
<text x="1787.6" y="995.43">ADCY4</text>
<text x="1787.6" y="1006.3">CARD10</text>
<text x="1787.6" y="1017.17">SEPX1</text>
<text x="1787.6" y="1028.04">ACTG2</text>
<text x="1787.6" y="1038.91">NOTCH4</text>
<text x="1787.6" y="1049.78">GPIHBP1</text>
<text x="1787.6" y="1060.65">BTNL9</text>
<text x="1787.6" y="1071.52">TCF15</text>
<text x="1787.6" y="1082.39">GPM6B</text>
<text x="1787.6" y="1093.26">KIF23</text>
<text x="1787.6" y="1104.13">LHX6</text>
<text x="1787.6" y="1115">ALDH4A1</text>
<text x="1787.6" y="1125.87">PI16</text>
<text x="1787.6" y="1136.74">WNT6</text>
<text x="1787.6" y="1147.61">SCARA5</text>
<text x="1787.6" y="1158.48">MYRIP</text>
<text x="1787.6" y="1169.35">CYP4B1</text>
<text x="1787.6" y="1180.22">VIT</text>
<text x="1787.6" y="1191.09">CLIC5</text>
<text x="1787.6" y="1201.96">NOSTRIN</text>
<text x="1787.6" y="1212.83">OLFML2A</text>
<text x="1787.6" y="1223.7">FAM162B</text>
<text x="1787.6" y="1234.57">HSPA12B</text>
<text x="1787.6" y="1245.44">ELTD1</text>
<text x="1787.6" y="1256.31">CYYR1</text>
<text x="1787.6" y="1267.18">EMCN</text>
<text x="1787.6" y="1278.05">ACOT1</text>
<text x="1787.6" y="1288.92">AGTR1</text>
<text x="1787.6" y="1299.79">DCLK1</text>
<text x="1787.6" y="1310.66">NEXN</text>
<text x="1787.6" y="1321.53">RYR2</text>
<text x="1787.6" y="1332.4">PDK3</text>
<text x="1787.6" y="1343.27">C6orf174</text>
<text x="1787.6" y="1354.14">DIRC2</text>
<text x="1787.6" y="1365.01">HOGA1</text>
<text x="1787.6" y="1375.88">CXCL14</text>
<text x="1787.6" y="1386.75">LCN6</text>
</g>
<g font-size="14.25">
<text transform="translate(1114.58 1394) rotate(90) scale(1 1.15)">GSM2611539</text>
<text transform="translate(1177.62 1394) rotate(90) scale(1 1.15)">GSM2611540</text>
<text transform="translate(1240.66 1394) rotate(90) scale(1 1.15)">GSM2611537</text>
<text transform="translate(1303.7 1394) rotate(90) scale(1 1.15)">GSM2611538</text>
<text transform="translate(1366.74 1394) rotate(90) scale(1 1.15)">GSM2611536</text>
<text transform="translate(1429.78 1394) rotate(90) scale(1 1.15)">GSM2611541</text>
<text transform="translate(1492.82 1394) rotate(90) scale(1 1.15)">GSM2611542</text>
<text transform="translate(1555.86 1394) rotate(90) scale(1 1.15)">GSM2611544</text>
<text transform="translate(1618.9 1394) rotate(90) scale(1 1.15)">GSM2611545</text>
<text transform="translate(1681.94 1394) rotate(90) scale(1 1.15)">GSM2611543</text>
<text transform="translate(1744.98 1394) rotate(90) scale(1 1.15)">GSM2611546</text>
</g>
<text transform="translate(1787.6 837.6) scale(1.08 1)" font-size="14.3" font-weight="bold">group</text>
<text transform="translate(1859.9 812.5) scale(1.07 1)" font-size="19.5">GSE98770</text>
<defs><linearGradient id="ghD2" x1="0" y1="0" x2="0" y2="1"><stop offset="0" stop-color="#D73027"/><stop offset="0.17" stop-color="#FC8D59"/><stop offset="0.33" stop-color="#FEE090"/><stop offset="0.5" stop-color="#FFFFBF"/><stop offset="0.67" stop-color="#E0F3F8"/><stop offset="0.83" stop-color="#91BFDB"/><stop offset="1" stop-color="#4575B4"/></linearGradient></defs>
<rect x="1851.6" y="823.9" width="15.4" height="231.6" fill="url(#ghD2)"/>
<text transform="translate(1874 848.08) scale(1.06 1)" font-size="14.2">1.5</text>
<text transform="translate(1874 880.63) scale(1.06 1)" font-size="14.2">1</text>
<text transform="translate(1874 913.18) scale(1.06 1)" font-size="14.2">0.5</text>
<text transform="translate(1874 945.73) scale(1.06 1)" font-size="14.2">0</text>
<text transform="translate(1874 978.28) scale(1.06 1)" font-size="14.2">-0.5</text>
<text transform="translate(1874 1010.83) scale(1.06 1)" font-size="14.2">-1</text>
<text transform="translate(1874 1043.38) scale(1.06 1)" font-size="14.2">-1.5</text>
<text transform="translate(1905.7 835.2) scale(1.08 1)" font-size="14.3" font-weight="bold">group</text>
<rect x="1905.7" y="840.3" width="22" height="22" fill="#1fcfd2"/>
<text transform="translate(1932.5 856.88) scale(1.06 1)" font-size="14.2">dissected</text>
<rect x="1905.7" y="862.3" width="22" height="22" fill="#f8766d"/>
<text transform="translate(1932.5 878.88) scale(1.06 1)" font-size="14.2">normal</text>
</g>
</g>
<g id="hF">
<g shape-rendering="crispEdges">
<path fill="#5888be" d="M1557.9 2012.8H1594V2023.7H1557.9z"/>
<path fill="#6b9ac8" d="M1305.4 1719H1341.5V1729.9H1305.4zM1089 1729.9H1125.1V1740.8H1089zM1089 1740.8H1125.1V1751.7H1089zM1161.1 1751.7H1197.2V1762.5H1161.1zM1449.7 1849.6H1485.8V1860.5H1449.7zM1485.8 1893.1H1521.8V1904H1485.8zM1774.3 1980.1H1810.4V1991H1774.3zM1485.8 1991H1521.8V2001.9H1485.8z"/>
<path fill="#7eacd1" d="M1269.3 1708.1H1305.4V1719H1269.3zM1413.6 1740.8H1449.7V1751.7H1413.6zM1233.3 1751.7H1269.3V1762.5H1233.3zM1413.6 1751.7H1449.7V1762.5H1413.6zM1594 2056.3H1630V2067.2H1594zM1738.3 2099.8H1774.3V2110.7H1738.3z"/>
<path fill="#91bfdb" d="M1089 1577.6H1125.1V1588.5H1089zM1305.4 1577.6H1341.5V1588.5H1305.4zM1089 1610.2H1125.1V1621.1H1089zM1161.1 1610.2H1197.2V1621.1H1161.1zM1197.2 1610.2H1233.3V1621.1H1197.2zM1089 1621.1H1125.1V1632H1089zM1233.3 1621.1H1269.3V1632H1233.3zM1089 1632H1125.1V1642.9H1089zM1233.3 1632H1269.3V1642.9H1233.3zM1413.6 1632H1449.7V1642.9H1413.6zM1233.3 1642.9H1269.3V1653.7H1233.3zM1233.3 1653.7H1269.3V1664.6H1233.3zM1341.5 1653.7H1377.6V1664.6H1341.5zM1197.2 1675.5H1233.3V1686.4H1197.2zM1377.6 1675.5H1413.6V1686.4H1377.6zM1197.2 1697.3H1233.3V1708.1H1197.2zM1233.3 1697.3H1269.3V1708.1H1233.3zM1269.3 1697.3H1305.4V1708.1H1269.3zM1377.6 1697.3H1413.6V1708.1H1377.6zM1413.6 1697.3H1449.7V1708.1H1413.6zM1161.1 1708.1H1197.2V1719H1161.1zM1269.3 1719H1305.4V1729.9H1269.3zM1125.1 1729.9H1161.1V1740.8H1125.1zM1269.3 1729.9H1305.4V1740.8H1269.3zM1125.1 1740.8H1161.1V1751.7H1125.1zM1521.8 1773.4H1557.9V1784.3H1521.8zM1521.8 1784.3H1557.9V1795.2H1521.8zM1630 1795.2H1666.1V1806.1H1630zM1485.8 1816.9H1521.8V1827.8H1485.8zM1594 1816.9H1630V1827.8H1594zM1738.3 1816.9H1774.3V1827.8H1738.3zM1449.7 1838.7H1485.8V1849.6H1449.7zM1702.2 1838.7H1738.3V1849.6H1702.2zM1774.3 1838.7H1810.4V1849.6H1774.3zM1774.3 1860.5H1810.4V1871.3H1774.3zM1485.8 1871.3H1521.8V1882.2H1485.8zM1557.9 1871.3H1594V1882.2H1557.9zM1702.2 1882.2H1738.3V1893.1H1702.2zM1774.3 1882.2H1810.4V1893.1H1774.3zM1521.8 1904H1557.9V1914.9H1521.8zM1557.9 1904H1594V1914.9H1557.9zM1630 1904H1666.1V1914.9H1630zM1738.3 1914.9H1774.3V1925.7H1738.3zM1557.9 1925.7H1594V1936.6H1557.9zM1630 1947.5H1666.1V1958.4H1630zM1738.3 1958.4H1774.3V1969.3H1738.3zM1557.9 1969.3H1594V1980.1H1557.9zM1630 2001.9H1666.1V2012.8H1630zM1702.2 2001.9H1738.3V2012.8H1702.2zM1594 2012.8H1630V2023.7H1594zM1557.9 2023.7H1594V2034.5H1557.9zM1702.2 2023.7H1738.3V2034.5H1702.2zM1485.8 2045.4H1521.8V2056.3H1485.8zM1738.3 2045.4H1774.3V2056.3H1738.3zM1774.3 2045.4H1810.4V2056.3H1774.3zM1449.7 2056.3H1485.8V2067.2H1449.7zM1557.9 2067.2H1594V2078.1H1557.9zM1738.3 2078.1H1774.3V2088.9H1738.3zM1738.3 2088.9H1774.3V2099.8H1738.3zM1774.3 2088.9H1810.4V2099.8H1774.3z"/>
<path fill="#a5cce2" d="M1341.5 1577.6H1377.6V1588.5H1341.5zM1089 1599.3H1125.1V1610.2H1089zM1161.1 1599.3H1197.2V1610.2H1161.1zM1233.3 1599.3H1269.3V1610.2H1233.3zM1341.5 1599.3H1377.6V1610.2H1341.5zM1413.6 1610.2H1449.7V1621.1H1413.6zM1125.1 1632H1161.1V1642.9H1125.1zM1089 1642.9H1125.1V1653.7H1089zM1125.1 1642.9H1161.1V1653.7H1125.1zM1089 1653.7H1125.1V1664.6H1089zM1233.3 1675.5H1269.3V1686.4H1233.3zM1305.4 1708.1H1341.5V1719H1305.4zM1377.6 1708.1H1413.6V1719H1377.6zM1774.3 1773.4H1810.4V1784.3H1774.3zM1702.2 1784.3H1738.3V1795.2H1702.2zM1666.1 1795.2H1702.2V1806.1H1666.1zM1521.8 1806.1H1557.9V1816.9H1521.8zM1557.9 1806.1H1594V1816.9H1557.9zM1521.8 1827.8H1557.9V1838.7H1521.8zM1774.3 1827.8H1810.4V1838.7H1774.3zM1557.9 1849.6H1594V1860.5H1557.9zM1666.1 1849.6H1702.2V1860.5H1666.1zM1521.8 1860.5H1557.9V1871.3H1521.8zM1557.9 1860.5H1594V1871.3H1557.9zM1666.1 1860.5H1702.2V1871.3H1666.1zM1521.8 1871.3H1557.9V1882.2H1521.8zM1666.1 1904H1702.2V1914.9H1666.1zM1485.8 1925.7H1521.8V1936.6H1485.8zM1738.3 1925.7H1774.3V1936.6H1738.3zM1774.3 1925.7H1810.4V1936.6H1774.3zM1557.9 1947.5H1594V1958.4H1557.9zM1774.3 1947.5H1810.4V1958.4H1774.3zM1666.1 1969.3H1702.2V1980.1H1666.1zM1485.8 1980.1H1521.8V1991H1485.8zM1594 1980.1H1630V1991H1594zM1449.7 2001.9H1485.8V2012.8H1449.7zM1630 2012.8H1666.1V2023.7H1630zM1774.3 2023.7H1810.4V2034.5H1774.3zM1666.1 2067.2H1702.2V2078.1H1666.1zM1774.3 2067.2H1810.4V2078.1H1774.3zM1485.8 2088.9H1521.8V2099.8H1485.8zM1557.9 2088.9H1594V2099.8H1557.9zM1521.8 2099.8H1557.9V2110.7H1521.8zM1557.9 2099.8H1594V2110.7H1557.9z"/>
<path fill="#b8d9ea" d="M1089 1588.5H1125.1V1599.3H1089zM1125.1 1588.5H1161.1V1599.3H1125.1zM1161.1 1588.5H1197.2V1599.3H1161.1zM1197.2 1588.5H1233.3V1599.3H1197.2zM1233.3 1588.5H1269.3V1599.3H1233.3zM1305.4 1588.5H1341.5V1599.3H1305.4zM1341.5 1588.5H1377.6V1599.3H1341.5zM1377.6 1588.5H1413.6V1599.3H1377.6zM1413.6 1588.5H1449.7V1599.3H1413.6zM1269.3 1599.3H1305.4V1610.2H1269.3zM1305.4 1599.3H1341.5V1610.2H1305.4zM1125.1 1621.1H1161.1V1632H1125.1zM1161.1 1621.1H1197.2V1632H1161.1zM1305.4 1642.9H1341.5V1653.7H1305.4zM1125.1 1653.7H1161.1V1664.6H1125.1zM1197.2 1653.7H1233.3V1664.6H1197.2zM1125.1 1697.3H1161.1V1708.1H1125.1zM1089 1708.1H1125.1V1719H1089zM1197.2 1708.1H1233.3V1719H1197.2zM1089 1719H1125.1V1729.9H1089zM1197.2 1719H1233.3V1729.9H1197.2zM1233.3 1719H1269.3V1729.9H1233.3zM1377.6 1729.9H1413.6V1740.8H1377.6zM1413.6 1729.9H1449.7V1740.8H1413.6zM1269.3 1740.8H1305.4V1751.7H1269.3zM1377.6 1751.7H1413.6V1762.5H1377.6zM1089 1762.5H1125.1V1773.4H1089zM1125.1 1762.5H1161.1V1773.4H1125.1zM1161.1 1762.5H1197.2V1773.4H1161.1zM1197.2 1762.5H1233.3V1773.4H1197.2zM1233.3 1762.5H1269.3V1773.4H1233.3zM1269.3 1762.5H1305.4V1773.4H1269.3zM1305.4 1762.5H1341.5V1773.4H1305.4zM1341.5 1762.5H1377.6V1773.4H1341.5zM1377.6 1762.5H1413.6V1773.4H1377.6zM1413.6 1762.5H1449.7V1773.4H1413.6zM1449.7 1773.4H1485.8V1784.3H1449.7zM1702.2 1773.4H1738.3V1784.3H1702.2zM1738.3 1773.4H1774.3V1784.3H1738.3zM1449.7 1784.3H1485.8V1795.2H1449.7zM1485.8 1784.3H1521.8V1795.2H1485.8zM1594 1784.3H1630V1795.2H1594zM1738.3 1784.3H1774.3V1795.2H1738.3zM1557.9 1795.2H1594V1806.1H1557.9zM1594 1795.2H1630V1806.1H1594zM1702.2 1795.2H1738.3V1806.1H1702.2zM1774.3 1795.2H1810.4V1806.1H1774.3zM1485.8 1806.1H1521.8V1816.9H1485.8zM1666.1 1806.1H1702.2V1816.9H1666.1zM1774.3 1806.1H1810.4V1816.9H1774.3zM1521.8 1816.9H1557.9V1827.8H1521.8zM1774.3 1816.9H1810.4V1827.8H1774.3zM1485.8 1827.8H1521.8V1838.7H1485.8zM1557.9 1827.8H1594V1838.7H1557.9zM1594 1827.8H1630V1838.7H1594zM1630 1827.8H1666.1V1838.7H1630zM1666.1 1827.8H1702.2V1838.7H1666.1zM1702.2 1827.8H1738.3V1838.7H1702.2zM1738.3 1827.8H1774.3V1838.7H1738.3zM1521.8 1838.7H1557.9V1849.6H1521.8zM1557.9 1838.7H1594V1849.6H1557.9zM1485.8 1849.6H1521.8V1860.5H1485.8zM1485.8 1860.5H1521.8V1871.3H1485.8zM1702.2 1860.5H1738.3V1871.3H1702.2zM1774.3 1871.3H1810.4V1882.2H1774.3zM1449.7 1882.2H1485.8V1893.1H1449.7zM1485.8 1882.2H1521.8V1893.1H1485.8zM1702.2 1893.1H1738.3V1904H1702.2zM1738.3 1893.1H1774.3V1904H1738.3zM1485.8 1904H1521.8V1914.9H1485.8zM1521.8 1914.9H1557.9V1925.7H1521.8zM1557.9 1914.9H1594V1925.7H1557.9zM1594 1914.9H1630V1925.7H1594zM1630 1914.9H1666.1V1925.7H1630zM1449.7 1925.7H1485.8V1936.6H1449.7zM1521.8 1925.7H1557.9V1936.6H1521.8zM1485.8 1947.5H1521.8V1958.4H1485.8zM1521.8 1958.4H1557.9V1969.3H1521.8zM1557.9 1958.4H1594V1969.3H1557.9zM1630 1958.4H1666.1V1969.3H1630zM1666.1 1958.4H1702.2V1969.3H1666.1zM1702.2 1958.4H1738.3V1969.3H1702.2zM1774.3 1958.4H1810.4V1969.3H1774.3zM1630 1969.3H1666.1V1980.1H1630zM1702.2 1969.3H1738.3V1980.1H1702.2zM1738.3 1969.3H1774.3V1980.1H1738.3zM1774.3 1969.3H1810.4V1980.1H1774.3zM1521.8 1980.1H1557.9V1991H1521.8zM1449.7 1991H1485.8V2001.9H1449.7zM1738.3 1991H1774.3V2001.9H1738.3zM1774.3 1991H1810.4V2001.9H1774.3zM1485.8 2001.9H1521.8V2012.8H1485.8zM1702.2 2012.8H1738.3V2023.7H1702.2zM1449.7 2023.7H1485.8V2034.5H1449.7zM1485.8 2023.7H1521.8V2034.5H1485.8zM1557.9 2045.4H1594V2056.3H1557.9zM1485.8 2056.3H1521.8V2067.2H1485.8zM1557.9 2056.3H1594V2067.2H1557.9zM1738.3 2056.3H1774.3V2067.2H1738.3zM1449.7 2067.2H1485.8V2078.1H1449.7zM1485.8 2067.2H1521.8V2078.1H1485.8zM1521.8 2067.2H1557.9V2078.1H1521.8zM1738.3 2067.2H1774.3V2078.1H1738.3zM1449.7 2078.1H1485.8V2088.9H1449.7zM1485.8 2078.1H1521.8V2088.9H1485.8zM1521.8 2078.1H1557.9V2088.9H1521.8zM1666.1 2078.1H1702.2V2088.9H1666.1zM1449.7 2099.8H1485.8V2110.7H1449.7zM1702.2 2099.8H1738.3V2110.7H1702.2z"/>
<path fill="#cce6f1" d="M1089 1566.7H1125.1V1577.6H1089zM1125.1 1566.7H1161.1V1577.6H1125.1zM1161.1 1566.7H1197.2V1577.6H1161.1zM1197.2 1566.7H1233.3V1577.6H1197.2zM1233.3 1566.7H1269.3V1577.6H1233.3zM1269.3 1566.7H1305.4V1577.6H1269.3zM1305.4 1566.7H1341.5V1577.6H1305.4zM1341.5 1566.7H1377.6V1577.6H1341.5zM1377.6 1566.7H1413.6V1577.6H1377.6zM1413.6 1566.7H1449.7V1577.6H1413.6zM1161.1 1577.6H1197.2V1588.5H1161.1zM1197.2 1577.6H1233.3V1588.5H1197.2zM1377.6 1577.6H1413.6V1588.5H1377.6zM1413.6 1577.6H1449.7V1588.5H1413.6zM1413.6 1599.3H1449.7V1610.2H1413.6zM1305.4 1610.2H1341.5V1621.1H1305.4zM1197.2 1621.1H1233.3V1632H1197.2zM1269.3 1621.1H1305.4V1632H1269.3zM1161.1 1632H1197.2V1642.9H1161.1zM1161.1 1642.9H1197.2V1653.7H1161.1zM1197.2 1642.9H1233.3V1653.7H1197.2zM1413.6 1642.9H1449.7V1653.7H1413.6zM1161.1 1653.7H1197.2V1664.6H1161.1zM1089 1664.6H1125.1V1675.5H1089zM1125.1 1664.6H1161.1V1675.5H1125.1zM1161.1 1664.6H1197.2V1675.5H1161.1zM1197.2 1664.6H1233.3V1675.5H1197.2zM1233.3 1664.6H1269.3V1675.5H1233.3zM1269.3 1664.6H1305.4V1675.5H1269.3zM1305.4 1664.6H1341.5V1675.5H1305.4zM1341.5 1664.6H1377.6V1675.5H1341.5zM1377.6 1664.6H1413.6V1675.5H1377.6zM1413.6 1664.6H1449.7V1675.5H1413.6zM1341.5 1675.5H1377.6V1686.4H1341.5zM1413.6 1675.5H1449.7V1686.4H1413.6zM1125.1 1686.4H1161.1V1697.3H1125.1zM1161.1 1686.4H1197.2V1697.3H1161.1zM1197.2 1686.4H1233.3V1697.3H1197.2zM1233.3 1686.4H1269.3V1697.3H1233.3zM1269.3 1686.4H1305.4V1697.3H1269.3zM1305.4 1686.4H1341.5V1697.3H1305.4zM1341.5 1686.4H1377.6V1697.3H1341.5zM1377.6 1686.4H1413.6V1697.3H1377.6zM1413.6 1686.4H1449.7V1697.3H1413.6zM1125.1 1708.1H1161.1V1719H1125.1zM1233.3 1708.1H1269.3V1719H1233.3zM1233.3 1729.9H1269.3V1740.8H1233.3zM1197.2 1740.8H1233.3V1751.7H1197.2zM1125.1 1751.7H1161.1V1762.5H1125.1zM1594 1773.4H1630V1784.3H1594zM1774.3 1784.3H1810.4V1795.2H1774.3zM1521.8 1795.2H1557.9V1806.1H1521.8zM1702.2 1806.1H1738.3V1816.9H1702.2zM1738.3 1806.1H1774.3V1816.9H1738.3zM1630 1816.9H1666.1V1827.8H1630zM1702.2 1816.9H1738.3V1827.8H1702.2zM1666.1 1838.7H1702.2V1849.6H1666.1zM1521.8 1849.6H1557.9V1860.5H1521.8zM1630 1871.3H1666.1V1882.2H1630zM1521.8 1882.2H1557.9V1893.1H1521.8zM1557.9 1882.2H1594V1893.1H1557.9zM1666.1 1893.1H1702.2V1904H1666.1zM1774.3 1893.1H1810.4V1904H1774.3zM1774.3 1904H1810.4V1914.9H1774.3zM1449.7 1936.6H1485.8V1947.5H1449.7zM1485.8 1936.6H1521.8V1947.5H1485.8zM1521.8 1936.6H1557.9V1947.5H1521.8zM1557.9 1936.6H1594V1947.5H1557.9zM1594 1936.6H1630V1947.5H1594zM1630 1936.6H1666.1V1947.5H1630zM1666.1 1936.6H1702.2V1947.5H1666.1zM1702.2 1936.6H1738.3V1947.5H1702.2zM1738.3 1936.6H1774.3V1947.5H1738.3zM1774.3 1936.6H1810.4V1947.5H1774.3zM1449.7 1947.5H1485.8V1958.4H1449.7zM1521.8 1947.5H1557.9V1958.4H1521.8zM1702.2 1947.5H1738.3V1958.4H1702.2zM1449.7 1958.4H1485.8V1969.3H1449.7zM1594 1958.4H1630V1969.3H1594zM1449.7 1969.3H1485.8V1980.1H1449.7zM1594 1969.3H1630V1980.1H1594zM1557.9 1980.1H1594V1991H1557.9zM1557.9 2001.9H1594V2012.8H1557.9zM1594 2001.9H1630V2012.8H1594zM1666.1 2012.8H1702.2V2023.7H1666.1zM1449.7 2034.5H1485.8V2045.4H1449.7zM1485.8 2034.5H1521.8V2045.4H1485.8zM1521.8 2034.5H1557.9V2045.4H1521.8zM1557.9 2034.5H1594V2045.4H1557.9zM1594 2034.5H1630V2045.4H1594zM1630 2034.5H1666.1V2045.4H1630zM1666.1 2034.5H1702.2V2045.4H1666.1zM1702.2 2034.5H1738.3V2045.4H1702.2zM1738.3 2034.5H1774.3V2045.4H1738.3zM1774.3 2034.5H1810.4V2045.4H1774.3zM1557.9 2078.1H1594V2088.9H1557.9zM1702.2 2078.1H1738.3V2088.9H1702.2zM1774.3 2078.1H1810.4V2088.9H1774.3zM1449.7 2088.9H1485.8V2099.8H1449.7zM1594 2088.9H1630V2099.8H1594zM1666.1 2088.9H1702.2V2099.8H1666.1zM1485.8 2099.8H1521.8V2110.7H1485.8zM1774.3 2099.8H1810.4V2110.7H1774.3z"/>
<path fill="#e0f3f8" d="M1269.3 1577.6H1305.4V1588.5H1269.3zM1125.1 1599.3H1161.1V1610.2H1125.1zM1197.2 1599.3H1233.3V1610.2H1197.2zM1377.6 1599.3H1413.6V1610.2H1377.6zM1125.1 1610.2H1161.1V1621.1H1125.1zM1233.3 1610.2H1269.3V1621.1H1233.3zM1341.5 1610.2H1377.6V1621.1H1341.5zM1305.4 1621.1H1341.5V1632H1305.4zM1377.6 1621.1H1413.6V1632H1377.6zM1413.6 1621.1H1449.7V1632H1413.6zM1197.2 1632H1233.3V1642.9H1197.2zM1341.5 1632H1377.6V1642.9H1341.5zM1377.6 1632H1413.6V1642.9H1377.6zM1341.5 1642.9H1377.6V1653.7H1341.5zM1377.6 1642.9H1413.6V1653.7H1377.6zM1377.6 1653.7H1413.6V1664.6H1377.6zM1089 1675.5H1125.1V1686.4H1089zM1125.1 1675.5H1161.1V1686.4H1125.1zM1161.1 1675.5H1197.2V1686.4H1161.1zM1089 1686.4H1125.1V1697.3H1089zM1089 1697.3H1125.1V1708.1H1089zM1161.1 1697.3H1197.2V1708.1H1161.1zM1125.1 1719H1161.1V1729.9H1125.1zM1161.1 1719H1197.2V1729.9H1161.1zM1377.6 1719H1413.6V1729.9H1377.6zM1413.6 1719H1449.7V1729.9H1413.6zM1305.4 1729.9H1341.5V1740.8H1305.4zM1161.1 1740.8H1197.2V1751.7H1161.1zM1305.4 1740.8H1341.5V1751.7H1305.4zM1089 1751.7H1125.1V1762.5H1089zM1269.3 1751.7H1305.4V1762.5H1269.3zM1341.5 1751.7H1377.6V1762.5H1341.5zM1485.8 1773.4H1521.8V1784.3H1485.8zM1449.7 1795.2H1485.8V1806.1H1449.7zM1485.8 1795.2H1521.8V1806.1H1485.8zM1449.7 1806.1H1485.8V1816.9H1449.7zM1594 1806.1H1630V1816.9H1594zM1449.7 1816.9H1485.8V1827.8H1449.7zM1666.1 1816.9H1702.2V1827.8H1666.1zM1449.7 1827.8H1485.8V1838.7H1449.7zM1738.3 1849.6H1774.3V1860.5H1738.3zM1738.3 1860.5H1774.3V1871.3H1738.3zM1449.7 1871.3H1485.8V1882.2H1449.7zM1738.3 1871.3H1774.3V1882.2H1738.3zM1630 1882.2H1666.1V1893.1H1630zM1738.3 1882.2H1774.3V1893.1H1738.3zM1449.7 1893.1H1485.8V1904H1449.7zM1521.8 1893.1H1557.9V1904H1521.8zM1557.9 1893.1H1594V1904H1557.9zM1702.2 1904H1738.3V1914.9H1702.2zM1738.3 1904H1774.3V1914.9H1738.3zM1666.1 1914.9H1702.2V1925.7H1666.1zM1774.3 1914.9H1810.4V1925.7H1774.3zM1666.1 1925.7H1702.2V1936.6H1666.1zM1594 1947.5H1630V1958.4H1594zM1521.8 1969.3H1557.9V1980.1H1521.8zM1702.2 1980.1H1738.3V1991H1702.2zM1738.3 1980.1H1774.3V1991H1738.3zM1594 1991H1630V2001.9H1594zM1630 1991H1666.1V2001.9H1630zM1666.1 1991H1702.2V2001.9H1666.1zM1702.2 1991H1738.3V2001.9H1702.2zM1521.8 2012.8H1557.9V2023.7H1521.8zM1341.5 2023.7H1377.6V2034.5H1341.5zM1521.8 2023.7H1557.9V2034.5H1521.8zM1738.3 2023.7H1774.3V2034.5H1738.3zM1594 2045.4H1630V2056.3H1594zM1630 2045.4H1666.1V2056.3H1630zM1666.1 2045.4H1702.2V2056.3H1666.1zM1630 2056.3H1666.1V2067.2H1630zM1666.1 2056.3H1702.2V2067.2H1666.1zM1702.2 2067.2H1738.3V2078.1H1702.2zM1702.2 2088.9H1738.3V2099.8H1702.2z"/>
<path fill="#e8f6ea" d="M1233.3 1577.6H1269.3V1588.5H1233.3zM1305.4 1632H1341.5V1642.9H1305.4zM1305.4 1675.5H1341.5V1686.4H1305.4zM1413.6 1708.1H1449.7V1719H1413.6zM1161.1 1729.9H1197.2V1740.8H1161.1zM1377.6 1740.8H1413.6V1751.7H1377.6zM1557.9 1773.4H1594V1784.3H1557.9zM1630 1838.7H1666.1V1849.6H1630zM1738.3 1838.7H1774.3V1849.6H1738.3zM1702.2 1849.6H1738.3V1860.5H1702.2zM1666.1 1871.3H1702.2V1882.2H1666.1zM1702.2 1871.3H1738.3V1882.2H1702.2zM1594 1882.2H1630V1893.1H1594zM1666.1 1882.2H1702.2V1893.1H1666.1zM1594 1893.1H1630V1904H1594zM1377.6 1914.9H1413.6V1925.7H1377.6zM1449.7 1914.9H1485.8V1925.7H1449.7zM1594 1925.7H1630V1936.6H1594zM1666.1 1947.5H1702.2V1958.4H1666.1zM1738.3 1947.5H1774.3V1958.4H1738.3zM1485.8 1969.3H1521.8V1980.1H1485.8zM1738.3 2001.9H1774.3V2012.8H1738.3zM1774.3 2001.9H1810.4V2012.8H1774.3zM1449.7 2012.8H1485.8V2023.7H1449.7zM1774.3 2012.8H1810.4V2023.7H1774.3zM1630 2023.7H1666.1V2034.5H1630zM1521.8 2088.9H1557.9V2099.8H1521.8zM1594 2099.8H1630V2110.7H1594z"/>
<path fill="#f0f9dc" d="M1269.3 1588.5H1305.4V1599.3H1269.3zM1269.3 1610.2H1305.4V1621.1H1269.3zM1377.6 1610.2H1413.6V1621.1H1377.6zM1341.5 1621.1H1377.6V1632H1341.5zM1269.3 1632H1305.4V1642.9H1269.3zM1269.3 1642.9H1305.4V1653.7H1269.3zM1269.3 1653.7H1305.4V1664.6H1269.3zM1269.3 1675.5H1305.4V1686.4H1269.3zM1305.4 1697.3H1341.5V1708.1H1305.4zM1341.5 1719H1377.6V1729.9H1341.5zM1197.2 1729.9H1233.3V1740.8H1197.2zM1341.5 1729.9H1377.6V1740.8H1341.5zM1233.3 1740.8H1269.3V1751.7H1233.3zM1341.5 1740.8H1377.6V1751.7H1341.5zM1305.4 1751.7H1341.5V1762.5H1305.4zM1630 1773.4H1666.1V1784.3H1630zM1557.9 1784.3H1594V1795.2H1557.9zM1630 1784.3H1666.1V1795.2H1630zM1666.1 1784.3H1702.2V1795.2H1666.1zM1630 1806.1H1666.1V1816.9H1630zM1557.9 1816.9H1594V1827.8H1557.9zM1485.8 1838.7H1521.8V1849.6H1485.8zM1594 1849.6H1630V1860.5H1594zM1594 1860.5H1630V1871.3H1594zM1594 1904H1630V1914.9H1594zM1377.6 1925.7H1413.6V1936.6H1377.6zM1377.6 1936.6H1413.6V1947.5H1377.6zM1449.7 1980.1H1485.8V1991H1449.7zM1630 1980.1H1666.1V1991H1630zM1666.1 1980.1H1702.2V1991H1666.1zM1521.8 1991H1557.9V2001.9H1521.8zM1557.9 1991H1594V2001.9H1557.9zM1521.8 2001.9H1557.9V2012.8H1521.8zM1485.8 2012.8H1521.8V2023.7H1485.8zM1666.1 2023.7H1702.2V2034.5H1666.1zM1449.7 2045.4H1485.8V2056.3H1449.7zM1702.2 2045.4H1738.3V2056.3H1702.2zM1702.2 2056.3H1738.3V2067.2H1702.2zM1630 2067.2H1666.1V2078.1H1630zM1341.5 2078.1H1377.6V2088.9H1341.5zM1630 2078.1H1666.1V2088.9H1630zM1630 2088.9H1666.1V2099.8H1630zM1341.5 2099.8H1377.6V2110.7H1341.5zM1630 2099.8H1666.1V2110.7H1630z"/>
<path fill="#f7fccd" d="M1125.1 1577.6H1161.1V1588.5H1125.1zM1305.4 1653.7H1341.5V1664.6H1305.4zM1413.6 1653.7H1449.7V1664.6H1413.6zM1449.7 1675.5H1485.8V1686.4H1449.7zM1449.7 1686.4H1485.8V1697.3H1449.7zM1197.2 1751.7H1233.3V1762.5H1197.2zM1738.3 1795.2H1774.3V1806.1H1738.3zM1774.3 1849.6H1810.4V1860.5H1774.3zM1702.2 1914.9H1738.3V1925.7H1702.2zM1341.5 1991H1377.6V2001.9H1341.5zM1521.8 2045.4H1557.9V2056.3H1521.8zM1521.8 2056.3H1557.9V2067.2H1521.8zM1774.3 2056.3H1810.4V2067.2H1774.3z"/>
<path fill="#ffffbf" d="M1557.9 1686.4H1594V1697.3H1557.9zM1341.5 1697.3H1377.6V1708.1H1341.5zM1341.5 1708.1H1377.6V1719H1341.5zM1449.7 1762.5H1485.8V1773.4H1449.7zM1666.1 1773.4H1702.2V1784.3H1666.1zM1594 1838.7H1630V1849.6H1594zM1630 1849.6H1666.1V1860.5H1630zM1449.7 1860.5H1485.8V1871.3H1449.7zM1630 1860.5H1666.1V1871.3H1630zM1594 1871.3H1630V1882.2H1594zM1630 1893.1H1666.1V1904H1630zM1449.7 1904H1485.8V1914.9H1449.7zM1485.8 1914.9H1521.8V1925.7H1485.8zM1630 1925.7H1666.1V1936.6H1630zM1702.2 1925.7H1738.3V1936.6H1702.2zM1485.8 1958.4H1521.8V1969.3H1485.8zM1666.1 2001.9H1702.2V2012.8H1666.1zM1738.3 2012.8H1774.3V2023.7H1738.3zM1594 2023.7H1630V2034.5H1594zM1341.5 2056.3H1377.6V2067.2H1341.5zM1341.5 2067.2H1377.6V2078.1H1341.5zM1594 2067.2H1630V2078.1H1594zM1594 2078.1H1630V2088.9H1594zM1666.1 2099.8H1702.2V2110.7H1666.1z"/>
<path fill="#fff7b3" d="M1485.8 1577.6H1521.8V1588.5H1485.8zM1557.9 1653.7H1594V1664.6H1557.9zM1449.7 1740.8H1485.8V1751.7H1449.7zM1161.1 2034.5H1197.2V2045.4H1161.1zM1341.5 2045.4H1377.6V2056.3H1341.5z"/>
<path fill="#fef0a8" d="M1557.9 1577.6H1594V1588.5H1557.9zM1557.9 1588.5H1594V1599.3H1557.9zM1521.8 1599.3H1557.9V1610.2H1521.8zM1557.9 1599.3H1594V1610.2H1557.9zM1449.7 1621.1H1485.8V1632H1449.7zM1449.7 1632H1485.8V1642.9H1449.7zM1449.7 1642.9H1485.8V1653.7H1449.7zM1557.9 1675.5H1594V1686.4H1557.9zM1449.7 1708.1H1485.8V1719H1449.7zM1449.7 1751.7H1485.8V1762.5H1449.7zM1305.4 1773.4H1341.5V1784.3H1305.4zM1233.3 1795.2H1269.3V1806.1H1233.3zM1377.6 1795.2H1413.6V1806.1H1377.6zM1377.6 1838.7H1413.6V1849.6H1377.6zM1377.6 1849.6H1413.6V1860.5H1377.6zM1305.4 1936.6H1341.5V1947.5H1305.4zM1341.5 1936.6H1377.6V1947.5H1341.5zM1413.6 1947.5H1449.7V1958.4H1413.6zM1341.5 1969.3H1377.6V1980.1H1341.5zM1233.3 1980.1H1269.3V1991H1233.3zM1341.5 1980.1H1377.6V1991H1341.5zM1377.6 1980.1H1413.6V1991H1377.6zM1413.6 1980.1H1449.7V1991H1413.6zM1413.6 1991H1449.7V2001.9H1413.6zM1341.5 2001.9H1377.6V2012.8H1341.5zM1305.4 2012.8H1341.5V2023.7H1305.4zM1377.6 2034.5H1413.6V2045.4H1377.6zM1161.1 2045.4H1197.2V2056.3H1161.1zM1413.6 2045.4H1449.7V2056.3H1413.6zM1305.4 2088.9H1341.5V2099.8H1305.4zM1161.1 2099.8H1197.2V2110.7H1161.1z"/>
<path fill="#fee89c" d="M1666.1 1566.7H1702.2V1577.6H1666.1zM1702.2 1566.7H1738.3V1577.6H1702.2zM1666.1 1588.5H1702.2V1599.3H1666.1zM1449.7 1610.2H1485.8V1621.1H1449.7zM1485.8 1610.2H1521.8V1621.1H1485.8zM1485.8 1621.1H1521.8V1632H1485.8zM1485.8 1632H1521.8V1642.9H1485.8zM1485.8 1642.9H1521.8V1653.7H1485.8zM1521.8 1642.9H1557.9V1653.7H1521.8zM1557.9 1642.9H1594V1653.7H1557.9zM1449.7 1653.7H1485.8V1664.6H1449.7zM1485.8 1653.7H1521.8V1664.6H1485.8zM1449.7 1664.6H1485.8V1675.5H1449.7zM1521.8 1686.4H1557.9V1697.3H1521.8zM1702.2 1697.3H1738.3V1708.1H1702.2zM1630 1719H1666.1V1729.9H1630zM1738.3 1719H1774.3V1729.9H1738.3zM1774.3 1719H1810.4V1729.9H1774.3zM1449.7 1729.9H1485.8V1740.8H1449.7zM1774.3 1729.9H1810.4V1740.8H1774.3zM1774.3 1740.8H1810.4V1751.7H1774.3zM1666.1 1751.7H1702.2V1762.5H1666.1zM1161.1 1773.4H1197.2V1784.3H1161.1zM1125.1 1784.3H1161.1V1795.2H1125.1zM1305.4 1806.1H1341.5V1816.9H1305.4zM1305.4 1827.8H1341.5V1838.7H1305.4zM1125.1 1871.3H1161.1V1882.2H1125.1zM1197.2 1871.3H1233.3V1882.2H1197.2zM1125.1 1882.2H1161.1V1893.1H1125.1zM1197.2 1882.2H1233.3V1893.1H1197.2zM1125.1 1893.1H1161.1V1904H1125.1zM1377.6 1893.1H1413.6V1904H1377.6zM1125.1 1904H1161.1V1914.9H1125.1zM1377.6 1904H1413.6V1914.9H1377.6zM1233.3 1914.9H1269.3V1925.7H1233.3zM1413.6 1925.7H1449.7V1936.6H1413.6zM1413.6 1936.6H1449.7V1947.5H1413.6zM1377.6 1947.5H1413.6V1958.4H1377.6zM1377.6 1958.4H1413.6V1969.3H1377.6zM1089 2023.7H1125.1V2034.5H1089zM1341.5 2034.5H1377.6V2045.4H1341.5zM1413.6 2056.3H1449.7V2067.2H1413.6zM1341.5 2088.9H1377.6V2099.8H1341.5zM1413.6 2099.8H1449.7V2110.7H1413.6z"/>
<path fill="#fee090" d="M1557.9 1566.7H1594V1577.6H1557.9zM1702.2 1588.5H1738.3V1599.3H1702.2zM1738.3 1588.5H1774.3V1599.3H1738.3zM1449.7 1599.3H1485.8V1610.2H1449.7zM1666.1 1599.3H1702.2V1610.2H1666.1zM1521.8 1610.2H1557.9V1621.1H1521.8zM1557.9 1610.2H1594V1621.1H1557.9zM1557.9 1621.1H1594V1632H1557.9zM1774.3 1621.1H1810.4V1632H1774.3zM1521.8 1632H1557.9V1642.9H1521.8zM1557.9 1632H1594V1642.9H1557.9zM1666.1 1653.7H1702.2V1664.6H1666.1zM1702.2 1653.7H1738.3V1664.6H1702.2zM1485.8 1664.6H1521.8V1675.5H1485.8zM1521.8 1664.6H1557.9V1675.5H1521.8zM1557.9 1664.6H1594V1675.5H1557.9zM1666.1 1664.6H1702.2V1675.5H1666.1zM1702.2 1664.6H1738.3V1675.5H1702.2zM1521.8 1675.5H1557.9V1686.4H1521.8zM1666.1 1675.5H1702.2V1686.4H1666.1zM1738.3 1675.5H1774.3V1686.4H1738.3zM1485.8 1686.4H1521.8V1697.3H1485.8zM1485.8 1697.3H1521.8V1708.1H1485.8zM1594 1697.3H1630V1708.1H1594zM1630 1697.3H1666.1V1708.1H1630zM1774.3 1697.3H1810.4V1708.1H1774.3zM1594 1708.1H1630V1719H1594zM1630 1708.1H1666.1V1719H1630zM1774.3 1708.1H1810.4V1719H1774.3zM1594 1719H1630V1729.9H1594zM1594 1729.9H1630V1740.8H1594zM1630 1729.9H1666.1V1740.8H1630zM1738.3 1729.9H1774.3V1740.8H1738.3zM1521.8 1740.8H1557.9V1751.7H1521.8zM1738.3 1740.8H1774.3V1751.7H1738.3zM1521.8 1751.7H1557.9V1762.5H1521.8zM1738.3 1751.7H1774.3V1762.5H1738.3zM1521.8 1762.5H1557.9V1773.4H1521.8zM1594 1762.5H1630V1773.4H1594zM1125.1 1773.4H1161.1V1784.3H1125.1zM1197.2 1773.4H1233.3V1784.3H1197.2zM1269.3 1773.4H1305.4V1784.3H1269.3zM1377.6 1773.4H1413.6V1784.3H1377.6zM1161.1 1784.3H1197.2V1795.2H1161.1zM1197.2 1784.3H1233.3V1795.2H1197.2zM1305.4 1784.3H1341.5V1795.2H1305.4zM1377.6 1784.3H1413.6V1795.2H1377.6zM1305.4 1795.2H1341.5V1806.1H1305.4zM1161.1 1806.1H1197.2V1816.9H1161.1zM1269.3 1806.1H1305.4V1816.9H1269.3zM1377.6 1806.1H1413.6V1816.9H1377.6zM1377.6 1816.9H1413.6V1827.8H1377.6zM1413.6 1816.9H1449.7V1827.8H1413.6zM1197.2 1827.8H1233.3V1838.7H1197.2zM1269.3 1827.8H1305.4V1838.7H1269.3zM1161.1 1838.7H1197.2V1849.6H1161.1zM1197.2 1838.7H1233.3V1849.6H1197.2zM1341.5 1838.7H1377.6V1849.6H1341.5zM1413.6 1838.7H1449.7V1849.6H1413.6zM1269.3 1849.6H1305.4V1860.5H1269.3zM1413.6 1849.6H1449.7V1860.5H1413.6zM1089 1860.5H1125.1V1871.3H1089zM1125.1 1860.5H1161.1V1871.3H1125.1zM1161.1 1860.5H1197.2V1871.3H1161.1zM1197.2 1860.5H1233.3V1871.3H1197.2zM1413.6 1860.5H1449.7V1871.3H1413.6zM1161.1 1871.3H1197.2V1882.2H1161.1zM1089 1882.2H1125.1V1893.1H1089zM1161.1 1882.2H1197.2V1893.1H1161.1zM1269.3 1882.2H1305.4V1893.1H1269.3zM1161.1 1893.1H1197.2V1904H1161.1zM1269.3 1893.1H1305.4V1904H1269.3zM1269.3 1904H1305.4V1914.9H1269.3zM1305.4 1914.9H1341.5V1925.7H1305.4zM1413.6 1914.9H1449.7V1925.7H1413.6zM1233.3 1925.7H1269.3V1936.6H1233.3zM1233.3 1936.6H1269.3V1947.5H1233.3zM1269.3 1947.5H1305.4V1958.4H1269.3zM1341.5 1947.5H1377.6V1958.4H1341.5zM1269.3 1958.4H1305.4V1969.3H1269.3zM1305.4 1958.4H1341.5V1969.3H1305.4zM1413.6 1958.4H1449.7V1969.3H1413.6zM1233.3 1969.3H1269.3V1980.1H1233.3zM1305.4 1969.3H1341.5V1980.1H1305.4zM1377.6 1969.3H1413.6V1980.1H1377.6zM1413.6 1969.3H1449.7V1980.1H1413.6zM1197.2 1991H1233.3V2001.9H1197.2zM1269.3 1991H1305.4V2001.9H1269.3zM1161.1 2001.9H1197.2V2012.8H1161.1zM1197.2 2001.9H1233.3V2012.8H1197.2zM1269.3 2001.9H1305.4V2012.8H1269.3zM1305.4 2001.9H1341.5V2012.8H1305.4zM1197.2 2012.8H1233.3V2023.7H1197.2zM1269.3 2012.8H1305.4V2023.7H1269.3zM1305.4 2023.7H1341.5V2034.5H1305.4zM1161.1 2056.3H1197.2V2067.2H1161.1zM1233.3 2056.3H1269.3V2067.2H1233.3zM1269.3 2056.3H1305.4V2067.2H1269.3zM1377.6 2056.3H1413.6V2067.2H1377.6zM1161.1 2067.2H1197.2V2078.1H1161.1zM1197.2 2067.2H1233.3V2078.1H1197.2zM1377.6 2067.2H1413.6V2078.1H1377.6zM1413.6 2067.2H1449.7V2078.1H1413.6zM1377.6 2078.1H1413.6V2088.9H1377.6zM1413.6 2078.1H1449.7V2088.9H1413.6zM1269.3 2088.9H1305.4V2099.8H1269.3zM1413.6 2088.9H1449.7V2099.8H1413.6zM1197.2 2099.8H1233.3V2110.7H1197.2zM1269.3 2099.8H1305.4V2110.7H1269.3z"/>
<path fill="#fdc37d" d="M1449.7 1566.7H1485.8V1577.6H1449.7zM1666.1 1577.6H1702.2V1588.5H1666.1zM1702.2 1577.6H1738.3V1588.5H1702.2zM1449.7 1588.5H1485.8V1599.3H1449.7zM1521.8 1588.5H1557.9V1599.3H1521.8zM1521.8 1653.7H1557.9V1664.6H1521.8zM1738.3 1664.6H1774.3V1675.5H1738.3zM1702.2 1675.5H1738.3V1686.4H1702.2zM1702.2 1686.4H1738.3V1697.3H1702.2zM1449.7 1697.3H1485.8V1708.1H1449.7zM1485.8 1708.1H1521.8V1719H1485.8zM1449.7 1719H1485.8V1729.9H1449.7zM1702.2 1751.7H1738.3V1762.5H1702.2zM1269.3 1784.3H1305.4V1795.2H1269.3zM1125.1 1795.2H1161.1V1806.1H1125.1zM1413.6 1806.1H1449.7V1816.9H1413.6zM1161.1 1816.9H1197.2V1827.8H1161.1zM1305.4 1816.9H1341.5V1827.8H1305.4zM1125.1 1827.8H1161.1V1838.7H1125.1zM1161.1 1827.8H1197.2V1838.7H1161.1zM1233.3 1827.8H1269.3V1838.7H1233.3zM1125.1 1849.6H1161.1V1860.5H1125.1zM1197.2 1849.6H1233.3V1860.5H1197.2zM1089 1871.3H1125.1V1882.2H1089zM1269.3 1871.3H1305.4V1882.2H1269.3zM1305.4 1871.3H1341.5V1882.2H1305.4zM1413.6 1882.2H1449.7V1893.1H1413.6zM1413.6 1893.1H1449.7V1904H1413.6zM1089 1904H1125.1V1914.9H1089zM1413.6 1904H1449.7V1914.9H1413.6zM1305.4 1925.7H1341.5V1936.6H1305.4zM1305.4 1947.5H1341.5V1958.4H1305.4zM1269.3 1969.3H1305.4V1980.1H1269.3zM1125.1 1980.1H1161.1V1991H1125.1zM1305.4 1991H1341.5V2001.9H1305.4zM1377.6 1991H1413.6V2001.9H1377.6zM1413.6 2001.9H1449.7V2012.8H1413.6zM1125.1 2012.8H1161.1V2023.7H1125.1zM1341.5 2012.8H1377.6V2023.7H1341.5zM1377.6 2012.8H1413.6V2023.7H1377.6zM1413.6 2012.8H1449.7V2023.7H1413.6zM1377.6 2023.7H1413.6V2034.5H1377.6zM1197.2 2034.5H1233.3V2045.4H1197.2zM1413.6 2034.5H1449.7V2045.4H1413.6zM1125.1 2045.4H1161.1V2056.3H1125.1zM1269.3 2045.4H1305.4V2056.3H1269.3zM1377.6 2045.4H1413.6V2056.3H1377.6zM1161.1 2088.9H1197.2V2099.8H1161.1zM1197.2 2088.9H1233.3V2099.8H1197.2z"/>
<path fill="#fdae6f" d="M1449.7 1577.6H1485.8V1588.5H1449.7zM1521.8 1577.6H1557.9V1588.5H1521.8zM1594 1577.6H1630V1588.5H1594zM1485.8 1599.3H1521.8V1610.2H1485.8zM1702.2 1599.3H1738.3V1610.2H1702.2zM1630 1610.2H1666.1V1621.1H1630zM1666.1 1610.2H1702.2V1621.1H1666.1zM1521.8 1621.1H1557.9V1632H1521.8zM1774.3 1632H1810.4V1642.9H1774.3zM1666.1 1642.9H1702.2V1653.7H1666.1zM1738.3 1642.9H1774.3V1653.7H1738.3zM1774.3 1653.7H1810.4V1664.6H1774.3zM1485.8 1675.5H1521.8V1686.4H1485.8zM1738.3 1686.4H1774.3V1697.3H1738.3zM1702.2 1708.1H1738.3V1719H1702.2zM1738.3 1708.1H1774.3V1719H1738.3zM1702.2 1719H1738.3V1729.9H1702.2zM1666.1 1729.9H1702.2V1740.8H1666.1zM1557.9 1740.8H1594V1751.7H1557.9zM1666.1 1740.8H1702.2V1751.7H1666.1zM1702.2 1740.8H1738.3V1751.7H1702.2zM1485.8 1751.7H1521.8V1762.5H1485.8zM1630 1762.5H1666.1V1773.4H1630zM1666.1 1762.5H1702.2V1773.4H1666.1zM1702.2 1762.5H1738.3V1773.4H1702.2zM1738.3 1762.5H1774.3V1773.4H1738.3zM1233.3 1773.4H1269.3V1784.3H1233.3zM1233.3 1784.3H1269.3V1795.2H1233.3zM1161.1 1795.2H1197.2V1806.1H1161.1zM1269.3 1795.2H1305.4V1806.1H1269.3zM1125.1 1806.1H1161.1V1816.9H1125.1zM1125.1 1816.9H1161.1V1827.8H1125.1zM1197.2 1816.9H1233.3V1827.8H1197.2zM1233.3 1816.9H1269.3V1827.8H1233.3zM1269.3 1816.9H1305.4V1827.8H1269.3zM1341.5 1827.8H1377.6V1838.7H1341.5zM1413.6 1827.8H1449.7V1838.7H1413.6zM1089 1838.7H1125.1V1849.6H1089zM1269.3 1838.7H1305.4V1849.6H1269.3zM1161.1 1849.6H1197.2V1860.5H1161.1zM1341.5 1849.6H1377.6V1860.5H1341.5zM1341.5 1860.5H1377.6V1871.3H1341.5zM1377.6 1871.3H1413.6V1882.2H1377.6zM1413.6 1871.3H1449.7V1882.2H1413.6zM1377.6 1882.2H1413.6V1893.1H1377.6zM1089 1893.1H1125.1V1904H1089zM1233.3 1893.1H1269.3V1904H1233.3zM1161.1 1904H1197.2V1914.9H1161.1zM1161.1 1914.9H1197.2V1925.7H1161.1zM1197.2 1914.9H1233.3V1925.7H1197.2zM1269.3 1914.9H1305.4V1925.7H1269.3zM1125.1 1925.7H1161.1V1936.6H1125.1zM1161.1 1925.7H1197.2V1936.6H1161.1zM1089 1936.6H1125.1V1947.5H1089zM1233.3 1958.4H1269.3V1969.3H1233.3zM1269.3 1980.1H1305.4V1991H1269.3zM1125.1 1991H1161.1V2001.9H1125.1zM1377.6 2001.9H1413.6V2012.8H1377.6zM1233.3 2012.8H1269.3V2023.7H1233.3zM1161.1 2023.7H1197.2V2034.5H1161.1zM1197.2 2023.7H1233.3V2034.5H1197.2zM1269.3 2034.5H1305.4V2045.4H1269.3zM1125.1 2078.1H1161.1V2088.9H1125.1zM1161.1 2078.1H1197.2V2088.9H1161.1zM1269.3 2078.1H1305.4V2088.9H1269.3zM1305.4 2099.8H1341.5V2110.7H1305.4z"/>
<path fill="#fc9961" d="M1521.8 1566.7H1557.9V1577.6H1521.8zM1630 1566.7H1666.1V1577.6H1630zM1774.3 1566.7H1810.4V1577.6H1774.3zM1485.8 1588.5H1521.8V1599.3H1485.8zM1594 1588.5H1630V1599.3H1594zM1594 1599.3H1630V1610.2H1594zM1738.3 1610.2H1774.3V1621.1H1738.3zM1774.3 1610.2H1810.4V1621.1H1774.3zM1666.1 1621.1H1702.2V1632H1666.1zM1702.2 1621.1H1738.3V1632H1702.2zM1738.3 1621.1H1774.3V1632H1738.3zM1630 1632H1666.1V1642.9H1630zM1666.1 1632H1702.2V1642.9H1666.1zM1702.2 1632H1738.3V1642.9H1702.2zM1738.3 1632H1774.3V1642.9H1738.3zM1702.2 1642.9H1738.3V1653.7H1702.2zM1774.3 1642.9H1810.4V1653.7H1774.3zM1594 1664.6H1630V1675.5H1594zM1594 1675.5H1630V1686.4H1594zM1594 1686.4H1630V1697.3H1594zM1666.1 1686.4H1702.2V1697.3H1666.1zM1774.3 1686.4H1810.4V1697.3H1774.3zM1666.1 1697.3H1702.2V1708.1H1666.1zM1557.9 1708.1H1594V1719H1557.9zM1521.8 1719H1557.9V1729.9H1521.8zM1557.9 1719H1594V1729.9H1557.9zM1557.9 1729.9H1594V1740.8H1557.9zM1702.2 1729.9H1738.3V1740.8H1702.2zM1485.8 1740.8H1521.8V1751.7H1485.8zM1594 1740.8H1630V1751.7H1594zM1594 1751.7H1630V1762.5H1594zM1413.6 1773.4H1449.7V1784.3H1413.6zM1413.6 1784.3H1449.7V1795.2H1413.6zM1197.2 1795.2H1233.3V1806.1H1197.2zM1413.6 1795.2H1449.7V1806.1H1413.6zM1233.3 1806.1H1269.3V1816.9H1233.3zM1089 1816.9H1125.1V1827.8H1089zM1341.5 1816.9H1377.6V1827.8H1341.5zM1089 1827.8H1125.1V1838.7H1089zM1377.6 1827.8H1413.6V1838.7H1377.6zM1233.3 1838.7H1269.3V1849.6H1233.3zM1233.3 1849.6H1269.3V1860.5H1233.3zM1233.3 1860.5H1269.3V1871.3H1233.3zM1269.3 1860.5H1305.4V1871.3H1269.3zM1305.4 1860.5H1341.5V1871.3H1305.4zM1197.2 1904H1233.3V1914.9H1197.2zM1305.4 1904H1341.5V1914.9H1305.4zM1341.5 1904H1377.6V1914.9H1341.5zM1341.5 1914.9H1377.6V1925.7H1341.5zM1197.2 1925.7H1233.3V1936.6H1197.2zM1269.3 1925.7H1305.4V1936.6H1269.3zM1341.5 1925.7H1377.6V1936.6H1341.5zM1269.3 1936.6H1305.4V1947.5H1269.3zM1161.1 1947.5H1197.2V1958.4H1161.1zM1197.2 1947.5H1233.3V1958.4H1197.2zM1125.1 1958.4H1161.1V1969.3H1125.1zM1161.1 1958.4H1197.2V1969.3H1161.1zM1197.2 1958.4H1233.3V1969.3H1197.2zM1341.5 1958.4H1377.6V1969.3H1341.5zM1125.1 1969.3H1161.1V1980.1H1125.1zM1089 1980.1H1125.1V1991H1089zM1233.3 1991H1269.3V2001.9H1233.3zM1125.1 2001.9H1161.1V2012.8H1125.1zM1161.1 2012.8H1197.2V2023.7H1161.1zM1125.1 2023.7H1161.1V2034.5H1125.1zM1413.6 2023.7H1449.7V2034.5H1413.6zM1125.1 2034.5H1161.1V2045.4H1125.1zM1305.4 2034.5H1341.5V2045.4H1305.4zM1197.2 2045.4H1233.3V2056.3H1197.2zM1305.4 2045.4H1341.5V2056.3H1305.4zM1125.1 2056.3H1161.1V2067.2H1125.1zM1197.2 2056.3H1233.3V2067.2H1197.2zM1233.3 2067.2H1269.3V2078.1H1233.3zM1269.3 2067.2H1305.4V2078.1H1269.3zM1305.4 2067.2H1341.5V2078.1H1305.4zM1197.2 2078.1H1233.3V2088.9H1197.2zM1233.3 2078.1H1269.3V2088.9H1233.3zM1305.4 2078.1H1341.5V2088.9H1305.4zM1233.3 2088.9H1269.3V2099.8H1233.3zM1233.3 2099.8H1269.3V2110.7H1233.3z"/>
<path fill="#f88454" d="M1594 1566.7H1630V1577.6H1594zM1738.3 1566.7H1774.3V1577.6H1738.3zM1630 1577.6H1666.1V1588.5H1630zM1738.3 1577.6H1774.3V1588.5H1738.3zM1774.3 1577.6H1810.4V1588.5H1774.3zM1774.3 1588.5H1810.4V1599.3H1774.3zM1630 1599.3H1666.1V1610.2H1630zM1738.3 1599.3H1774.3V1610.2H1738.3zM1594 1610.2H1630V1621.1H1594zM1594 1621.1H1630V1632H1594zM1738.3 1653.7H1774.3V1664.6H1738.3zM1521.8 1697.3H1557.9V1708.1H1521.8zM1557.9 1697.3H1594V1708.1H1557.9zM1738.3 1697.3H1774.3V1708.1H1738.3zM1521.8 1708.1H1557.9V1719H1521.8zM1485.8 1719H1521.8V1729.9H1485.8zM1666.1 1719H1702.2V1729.9H1666.1zM1521.8 1729.9H1557.9V1740.8H1521.8zM1630 1740.8H1666.1V1751.7H1630zM1557.9 1751.7H1594V1762.5H1557.9zM1630 1751.7H1666.1V1762.5H1630zM1485.8 1762.5H1521.8V1773.4H1485.8zM1089 1806.1H1125.1V1816.9H1089zM1197.2 1806.1H1233.3V1816.9H1197.2zM1341.5 1806.1H1377.6V1816.9H1341.5zM1125.1 1838.7H1161.1V1849.6H1125.1zM1089 1849.6H1125.1V1860.5H1089zM1305.4 1849.6H1341.5V1860.5H1305.4zM1341.5 1871.3H1377.6V1882.2H1341.5zM1233.3 1882.2H1269.3V1893.1H1233.3zM1305.4 1882.2H1341.5V1893.1H1305.4zM1341.5 1882.2H1377.6V1893.1H1341.5zM1197.2 1893.1H1233.3V1904H1197.2zM1305.4 1893.1H1341.5V1904H1305.4zM1341.5 1893.1H1377.6V1904H1341.5zM1233.3 1904H1269.3V1914.9H1233.3zM1197.2 1936.6H1233.3V1947.5H1197.2zM1089 1947.5H1125.1V1958.4H1089zM1233.3 1947.5H1269.3V1958.4H1233.3zM1089 1958.4H1125.1V1969.3H1089zM1089 1969.3H1125.1V1980.1H1089zM1161.1 1969.3H1197.2V1980.1H1161.1zM1197.2 1969.3H1233.3V1980.1H1197.2zM1305.4 1980.1H1341.5V1991H1305.4zM1233.3 2001.9H1269.3V2012.8H1233.3zM1233.3 2023.7H1269.3V2034.5H1233.3zM1269.3 2023.7H1305.4V2034.5H1269.3zM1089 2045.4H1125.1V2056.3H1089zM1305.4 2056.3H1341.5V2067.2H1305.4zM1125.1 2067.2H1161.1V2078.1H1125.1zM1089 2088.9H1125.1V2099.8H1089zM1125.1 2088.9H1161.1V2099.8H1125.1zM1377.6 2088.9H1413.6V2099.8H1377.6zM1089 2099.8H1125.1V2110.7H1089zM1377.6 2099.8H1413.6V2110.7H1377.6z"/>
<path fill="#f3764c" d="M1485.8 1566.7H1521.8V1577.6H1485.8zM1774.3 1599.3H1810.4V1610.2H1774.3zM1702.2 1610.2H1738.3V1621.1H1702.2zM1630 1621.1H1666.1V1632H1630zM1630 1642.9H1666.1V1653.7H1630zM1774.3 1664.6H1810.4V1675.5H1774.3zM1774.3 1675.5H1810.4V1686.4H1774.3zM1666.1 1708.1H1702.2V1719H1666.1zM1485.8 1729.9H1521.8V1740.8H1485.8zM1774.3 1751.7H1810.4V1762.5H1774.3zM1557.9 1762.5H1594V1773.4H1557.9zM1774.3 1762.5H1810.4V1773.4H1774.3zM1089 1773.4H1125.1V1784.3H1089zM1341.5 1784.3H1377.6V1795.2H1341.5zM1089 1795.2H1125.1V1806.1H1089zM1341.5 1795.2H1377.6V1806.1H1341.5zM1305.4 1838.7H1341.5V1849.6H1305.4zM1377.6 1860.5H1413.6V1871.3H1377.6zM1233.3 1871.3H1269.3V1882.2H1233.3zM1125.1 1914.9H1161.1V1925.7H1125.1zM1089 1925.7H1125.1V1936.6H1089zM1161.1 1936.6H1197.2V1947.5H1161.1zM1125.1 1947.5H1161.1V1958.4H1125.1zM1197.2 1980.1H1233.3V1991H1197.2zM1089 1991H1125.1V2001.9H1089zM1089 2034.5H1125.1V2045.4H1089zM1089 2067.2H1125.1V2078.1H1089zM1089 2078.1H1125.1V2088.9H1089zM1125.1 2099.8H1161.1V2110.7H1125.1z"/>
<path fill="#ea5e40" d="M1630 1588.5H1666.1V1599.3H1630zM1594 1632H1630V1642.9H1594zM1594 1642.9H1630V1653.7H1594zM1594 1653.7H1630V1664.6H1594zM1089 1784.3H1125.1V1795.2H1089zM1089 1914.9H1125.1V1925.7H1089zM1161.1 1980.1H1197.2V1991H1161.1zM1089 2012.8H1125.1V2023.7H1089zM1233.3 2034.5H1269.3V2045.4H1233.3zM1233.3 2045.4H1269.3V2056.3H1233.3zM1089 2056.3H1125.1V2067.2H1089z"/>
<path fill="#e04734" d="M1630 1653.7H1666.1V1664.6H1630zM1125.1 1936.6H1161.1V1947.5H1125.1zM1161.1 1991H1197.2V2001.9H1161.1zM1089 2001.9H1125.1V2012.8H1089z"/>
<path fill="#d73027" d="M1630 1664.6H1666.1V1675.5H1630zM1630 1675.5H1666.1V1686.4H1630zM1630 1686.4H1666.1V1697.3H1630zM1341.5 1773.4H1377.6V1784.3H1341.5z"/>
<rect x="1089" y="1546.9" width="360.7" height="14.8" fill="#f8766d"/>
<rect x="1449.7" y="1546.9" width="360.7" height="14.8" fill="#1fcfd2"/>
</g>
<path fill="none" stroke="#111" stroke-width="1.45" stroke-linejoin="round" d="M1179.2 1544V1539.4H1215.2V1544M1143.1 1544V1537.8H1197.2V1539.4M1287.4 1544V1539H1323.5V1544M1251.3 1544V1537.4H1305.4V1539M1170.2 1537.8V1536H1278.4V1537.4M1107 1544V1535.4H1224.3V1536M1395.6 1544V1537.8H1431.7V1544M1359.5 1544V1532.8H1413.6V1537.8M1165.6 1535.4V1532H1386.6V1532.8M1539.9 1544V1538.8H1575.9V1544M1503.8 1544V1537.4H1557.9V1538.8M1467.7 1544V1536.4H1530.9V1537.4M1612 1544V1538.4H1648.1V1544M1684.2 1544V1539.4H1720.2V1544M1756.3 1544V1538.4H1792.4V1544M1702.2 1539.4V1536.4H1774.3V1538.4M1630 1538.4V1534.8H1738.3V1536.4M1499.3 1536.4V1531.4H1684.2V1534.8M1276.1 1532V1508.1H1591.7V1531.4M1088.4 1593.9H1081.3V1604.8H1088.4M1088.4 1583H1079.1V1599.3H1081.3M1088.4 1572.1H1077.5V1591.2H1079.1M1088.4 1626.5H1082V1637.4H1088.4M1088.4 1615.7H1078.5V1632H1082M1088.4 1648.3H1082.3V1659.2H1088.4M1078.5 1623.8H1076.9V1653.7H1082.3M1077.5 1581.7H1074.2V1638.8H1076.9M1088.4 1691.8H1081.9V1702.7H1088.4M1088.4 1680.9H1078.4V1697.3H1081.9M1088.4 1670.1H1076.5V1689.1H1078.4M1088.4 1713.6H1082.3V1724.5H1088.4M1088.4 1735.3H1082.2V1746.2H1088.4M1082.3 1719H1076.3V1740.8H1082.2M1088.4 1757.1H1082.2V1768H1088.4M1076.3 1729.9H1074.1V1762.5H1082.2M1076.5 1679.6H1074.6V1746.2H1074.1M1074.2 1614H1069.7V1731H1074.6M1088.4 1778.9H1081.9V1789.7H1088.4M1088.4 1822.4H1082.3V1833.3H1088.4M1088.4 1811.5H1078.8V1827.8H1082.3M1088.4 1800.6H1076.5V1819.7H1078.8M1081.9 1784.3H1074.3V1810.1H1076.5M1088.4 1844.1H1082.1V1855H1088.4M1088.4 1865.9H1081.6V1876.8H1088.4M1088.4 1887.7H1081.4V1898.5H1088.4M1081.6 1871.3H1076.2V1893.1H1081.4M1082.1 1849.6H1074.6V1882.2H1076.2M1074.3 1797.2H1073V1865.9H1074.6M1088.4 1909.4H1081.4V1920.3H1088.4M1088.4 1952.9H1082.5V1963.8H1088.4M1088.4 1942.1H1078.7V1958.4H1082.5M1088.4 1931.2H1077.1V1950.2H1078.7M1081.4 1914.9H1074.4V1940.7H1077.1M1088.4 1974.7H1081.9V1985.6H1088.4M1088.4 1996.5H1082.4V2007.3H1088.4M1081.9 1980.1H1076.3V2001.9H1082.4M1088.4 2029.1H1081.2V2040H1088.4M1088.4 2061.7H1081.4V2072.6H1088.4M1088.4 2094.4H1082.4V2105.3H1088.4M1088.4 2083.5H1078.9V2099.8H1082.4M1081.4 2067.2H1076.3V2091.7H1078.9M1088.4 2050.9H1074.7V2079.4H1076.3M1081.2 2034.5H1073.1V2065.1H1074.7M1088.4 2018.2H1071.5V2049.8H1073.1M1076.3 1991H1069.9V2034H1071.5M1074.4 1927.8H1071V2012.5H1069.9M1073 1832H1067.4V1974H1071M1069.7 1673.2H1036.1V1903H1067.4"/>
<g stroke="#000" stroke-width="0.3">
<g font-size="10.7">
<text x="1815" y="1575.82">RAMP3</text>
<text x="1815" y="1586.7">ABCG2</text>
<text x="1815" y="1597.58">ACKR1</text>
<text x="1815" y="1608.46">ITGB4</text>
<text x="1815" y="1619.34">KCNN3</text>
<text x="1815" y="1630.22">SDPR</text>
<text x="1815" y="1641.1">PODXL</text>
<text x="1815" y="1651.98">PTPRB</text>
<text x="1815" y="1662.86">LDB2</text>
<text x="1815" y="1673.74">LSAMP</text>
<text x="1815" y="1684.62">APOD</text>
<text x="1815" y="1695.5">SCN7A</text>
<text x="1815" y="1706.38">ANKRD6</text>
<text x="1815" y="1717.26">CRISPLD1</text>
<text x="1815" y="1728.14">THRB</text>
<text x="1815" y="1739.02">C1QTNF7</text>
<text x="1815" y="1749.9">OLFML1</text>
<text x="1815" y="1760.78">DCN</text>
<text x="1815" y="1771.66">PI16</text>
<text x="1815" y="1782.54">GADD45B</text>
<text x="1815" y="1793.42">ITPKC</text>
<text x="1815" y="1804.3">SBNO2</text>
<text x="1815" y="1815.18">C10orf10</text>
<text x="1815" y="1826.06">ELL2</text>
<text x="1815" y="1836.94">MTHFD2</text>
<text x="1815" y="1847.82">MMP14</text>
<text x="1815" y="1858.7">OSMR</text>
<text x="1815" y="1869.58">UBASH3B</text>
<text x="1815" y="1880.46">ATP1A1</text>
<text x="1815" y="1891.34">NNMT</text>
<text x="1815" y="1902.22">DDIT4</text>
<text x="1815" y="1913.1">ITGA5</text>
<text x="1815" y="1923.98">APLN</text>
<text x="1815" y="1934.86">VEGFA</text>
<text x="1815" y="1945.74">CA9</text>
<text x="1815" y="1956.62">ITGB3</text>
<text x="1815" y="1967.5">CLMP</text>
<text x="1815" y="1978.38">FAM20C</text>
<text x="1815" y="1989.26">THBS2</text>
<text x="1815" y="2000.14">TLR2</text>
<text x="1815" y="2011.02">ABCC3</text>
<text x="1815" y="2021.9">RNF24</text>
<text x="1815" y="2032.78">SERPINA1</text>
<text x="1815" y="2043.66">GCKR</text>
<text x="1815" y="2054.54">IGFBP3</text>
<text x="1815" y="2065.42">IL1RAP</text>
<text x="1815" y="2076.3">GLRX</text>
<text x="1815" y="2087.18">SERPINA3</text>
<text x="1815" y="2098.06">MT1X</text>
<text x="1815" y="2108.94">MT2A</text>
</g>
<g font-size="14.25">
<text transform="translate(1100.8 2116) rotate(90) scale(1 1.15)">GSM4644217</text>
<text transform="translate(1136.87 2116) rotate(90) scale(1 1.15)">GSM4644220</text>
<text transform="translate(1172.94 2116) rotate(90) scale(1 1.15)">GSM4644222</text>
<text transform="translate(1209.01 2116) rotate(90) scale(1 1.15)">GSM4644223</text>
<text transform="translate(1245.08 2116) rotate(90) scale(1 1.15)">GSM4644219</text>
<text transform="translate(1281.15 2116) rotate(90) scale(1 1.15)">GSM4644215</text>
<text transform="translate(1317.22 2116) rotate(90) scale(1 1.15)">GSM4644221</text>
<text transform="translate(1353.29 2116) rotate(90) scale(1 1.15)">GSM4644214</text>
<text transform="translate(1389.36 2116) rotate(90) scale(1 1.15)">GSM4644216</text>
<text transform="translate(1425.43 2116) rotate(90) scale(1 1.15)">GSM4644218</text>
<text transform="translate(1461.5 2116) rotate(90) scale(1 1.15)">GSM4644232</text>
<text transform="translate(1497.57 2116) rotate(90) scale(1 1.15)">GSM4644233</text>
<text transform="translate(1533.64 2116) rotate(90) scale(1 1.15)">GSM4644224</text>
<text transform="translate(1569.71 2116) rotate(90) scale(1 1.15)">GSM4644226</text>
<text transform="translate(1605.78 2116) rotate(90) scale(1 1.15)">GSM4644227</text>
<text transform="translate(1641.85 2116) rotate(90) scale(1 1.15)">GSM4644229</text>
<text transform="translate(1677.92 2116) rotate(90) scale(1 1.15)">GSM4644228</text>
<text transform="translate(1713.99 2116) rotate(90) scale(1 1.15)">GSM4644231</text>
<text transform="translate(1750.06 2116) rotate(90) scale(1 1.15)">GSM4644225</text>
<text transform="translate(1786.13 2116) rotate(90) scale(1 1.15)">GSM4644230</text>
</g>
<text transform="translate(1815 1559.4) scale(1.08 1)" font-size="14.3" font-weight="bold">group</text>
<text transform="translate(1863.7 1537) scale(1.07 1)" font-size="19.5">GSE153434</text>
<defs><linearGradient id="ghF" x1="0" y1="0" x2="0" y2="1"><stop offset="0" stop-color="#D73027"/><stop offset="0.17" stop-color="#FC8D59"/><stop offset="0.33" stop-color="#FEE090"/><stop offset="0.5" stop-color="#FFFFBF"/><stop offset="0.67" stop-color="#E0F3F8"/><stop offset="0.83" stop-color="#91BFDB"/><stop offset="1" stop-color="#4575B4"/></linearGradient></defs>
<rect x="1880.2" y="1545.4" width="15.3" height="232" fill="url(#ghF)"/>
<text transform="translate(1902 1563.88) scale(1.06 1)" font-size="14.2">2</text>
<text transform="translate(1902 1615.68) scale(1.06 1)" font-size="14.2">1</text>
<text transform="translate(1902 1667.48) scale(1.06 1)" font-size="14.2">0</text>
<text transform="translate(1902 1719.28) scale(1.06 1)" font-size="14.2">-1</text>
<text transform="translate(1902 1771.08) scale(1.06 1)" font-size="14.2">-2</text>
<text transform="translate(1924.6 1556.5) scale(1.08 1)" font-size="14.3" font-weight="bold">group</text>
<rect x="1924.6" y="1562" width="22" height="22" fill="#1fcfd2"/>
<text transform="translate(1951 1578.58) scale(1.06 1)" font-size="14.2">Normal</text>
<rect x="1924.6" y="1584" width="22" height="22" fill="#f8766d"/>
<text transform="translate(1951 1600.58) scale(1.06 1)" font-size="14.2">AD</text>
</g>
</g>
</svg>
</body>
</html>
